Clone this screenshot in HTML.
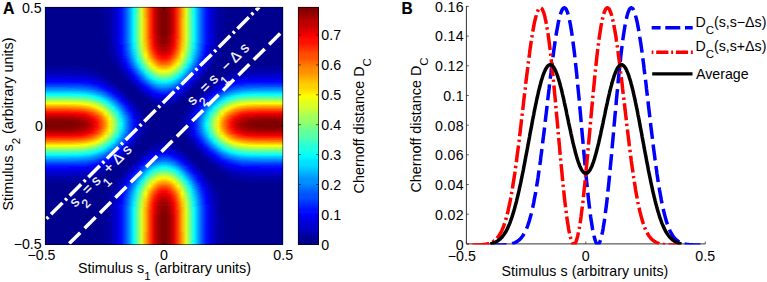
<!DOCTYPE html>
<html><head><meta charset="utf-8"><title>Chernoff distance</title>
<style>
html,body{margin:0;padding:0;background:#fff}
body{width:767px;height:282px;position:relative;overflow:hidden;font-family:"Liberation Sans",sans-serif}
#hm{position:absolute;left:45px;top:7px;width:238px;height:238px}
#hm i{display:block;height:1px;width:100%}
#cb{position:absolute;left:298px;top:7px;width:21px;height:238px;background:linear-gradient(180deg,#800000,#800000,#8f0000,#9f0000,#af0000,#bf0000,#bf0000,#cf0000,#df0000,#ef0000,#ff0000,#ff1000,#ff1000,#ff2000,#ff3000,#ff4000,#ff5000,#ff5000,#ff6000,#ff7000,#ff8000,#ff8f00,#ff8f00,#ff9f00,#ffaf00,#ffbf00,#ffcf00,#ffcf00,#ffdf00,#ffef00,#ffff00,#efff10,#dfff20,#dfff20,#cfff30,#bfff40,#afff50,#9fff60,#9fff60,#8fff70,#80ff80,#70ff8f,#60ff9f,#60ff9f,#50ffaf,#40ffbf,#30ffcf,#20ffdf,#20ffdf,#10ffef,#00ffff,#00efff,#00dfff,#00dfff,#00cfff,#00bfff,#00afff,#009fff,#008fff,#008fff,#0080ff,#0070ff,#0060ff,#0050ff,#0050ff,#0040ff,#0030ff,#0020ff,#0010ff,#0010ff,#0000ff,#0000ef,#0000df,#0000cf,#0000cf,#0000bf,#0000af,#00009f,#00008f,#00008f,#00008f)}
svg{position:absolute;left:0;top:0;font-family:"Liberation Sans",sans-serif}
</style></head><body>
<div id="hm">
<i style="background:linear-gradient(90deg,#00008f,#00008f,#00008f,#00008f,#00008f,#00008f,#00008f,#00008f,#00008f,#00008f,#00008f,#00008f,#00008f,#00008f,#00008f,#00009f,#00009f,#0000bf,#0000df,#0010ff,#0050ff,#009fff,#00ffff,#70ff8f,#dfff20,#ff9f00,#ff4000,#df0000,#9f0000,#800000,#800000,#9f0000,#df0000,#ff4000,#ff9f00,#dfff20,#70ff8f,#00ffff,#009fff,#0050ff,#0010ff,#0000df,#0000bf,#00009f,#00009f,#00008f,#00008f,#00008f,#00008f,#00008f,#00008f,#00008f,#00008f,#00008f,#00008f,#00008f,#00008f,#00008f,#00008f,#00008f)"></i>
<i style="background:linear-gradient(90deg,#00008f,#00008f,#00008f,#00008f,#00008f,#00008f,#00008f,#00008f,#00008f,#00008f,#00008f,#00008f,#00008f,#00008f,#00008f,#00009f,#00009f,#0000bf,#0000df,#0010ff,#0050ff,#009fff,#00ffff,#70ff8f,#dfff20,#ff9f00,#ff4000,#df0000,#9f0000,#800000,#800000,#9f0000,#df0000,#ff4000,#ff9f00,#dfff20,#70ff8f,#00ffff,#009fff,#0050ff,#0010ff,#0000df,#0000bf,#00009f,#00009f,#00008f,#00008f,#00008f,#00008f,#00008f,#00008f,#00008f,#00008f,#00008f,#00008f,#00008f,#00008f,#00008f,#00008f,#00008f)"></i>
<i style="background:linear-gradient(90deg,#00008f,#00008f,#00008f,#00008f,#00008f,#00008f,#00008f,#00008f,#00008f,#00008f,#00008f,#00008f,#00008f,#00008f,#00008f,#00009f,#00009f,#0000bf,#0000df,#0010ff,#0050ff,#009fff,#00ffff,#70ff8f,#dfff20,#ff9f00,#ff4000,#df0000,#9f0000,#800000,#800000,#9f0000,#df0000,#ff4000,#ff9f00,#dfff20,#70ff8f,#00ffff,#009fff,#0050ff,#0010ff,#0000df,#0000bf,#00009f,#00009f,#00008f,#00008f,#00008f,#00008f,#00008f,#00008f,#00008f,#00008f,#00008f,#00008f,#00008f,#00008f,#00008f,#00008f,#00008f)"></i>
<i style="background:linear-gradient(90deg,#00008f,#00008f,#00008f,#00008f,#00008f,#00008f,#00008f,#00008f,#00008f,#00008f,#00008f,#00008f,#00008f,#00008f,#00008f,#00009f,#00009f,#0000bf,#0000df,#0010ff,#0050ff,#009fff,#00ffff,#70ff8f,#dfff20,#ff9f00,#ff4000,#df0000,#9f0000,#800000,#800000,#9f0000,#df0000,#ff4000,#ff9f00,#dfff20,#70ff8f,#00ffff,#009fff,#0050ff,#0010ff,#0000df,#0000bf,#00009f,#00009f,#00008f,#00008f,#00008f,#00008f,#00008f,#00008f,#00008f,#00008f,#00008f,#00008f,#00008f,#00008f,#00008f,#00008f,#00008f)"></i>
<i style="background:linear-gradient(90deg,#00008f,#00008f,#00008f,#00008f,#00008f,#00008f,#00008f,#00008f,#00008f,#00008f,#00008f,#00008f,#00008f,#00008f,#00008f,#00009f,#00009f,#0000bf,#0000df,#0010ff,#0050ff,#009fff,#00ffff,#70ff8f,#dfff20,#ff9f00,#ff4000,#df0000,#9f0000,#800000,#800000,#9f0000,#df0000,#ff4000,#ff9f00,#dfff20,#70ff8f,#00ffff,#009fff,#0050ff,#0010ff,#0000df,#0000bf,#00009f,#00009f,#00008f,#00008f,#00008f,#00008f,#00008f,#00008f,#00008f,#00008f,#00008f,#00008f,#00008f,#00008f,#00008f,#00008f,#00008f)"></i>
<i style="background:linear-gradient(90deg,#00008f,#00008f,#00008f,#00008f,#00008f,#00008f,#00008f,#00008f,#00008f,#00008f,#00008f,#00008f,#00008f,#00008f,#00008f,#00009f,#00009f,#0000bf,#0000df,#0010ff,#0050ff,#009fff,#00ffff,#70ff8f,#dfff20,#ff9f00,#ff4000,#df0000,#9f0000,#800000,#800000,#9f0000,#df0000,#ff4000,#ff9f00,#dfff20,#70ff8f,#00ffff,#009fff,#0050ff,#0010ff,#0000df,#0000bf,#00009f,#00009f,#00008f,#00008f,#00008f,#00008f,#00008f,#00008f,#00008f,#00008f,#00008f,#00008f,#00008f,#00008f,#00008f,#00008f,#00008f)"></i>
<i style="background:linear-gradient(90deg,#00008f,#00008f,#00008f,#00008f,#00008f,#00008f,#00008f,#00008f,#00008f,#00008f,#00008f,#00008f,#00008f,#00008f,#00008f,#00009f,#00009f,#0000bf,#0000df,#0010ff,#0050ff,#009fff,#00ffff,#70ff8f,#dfff20,#ff9f00,#ff4000,#df0000,#9f0000,#800000,#800000,#9f0000,#df0000,#ff4000,#ff9f00,#dfff20,#70ff8f,#00ffff,#009fff,#0050ff,#0010ff,#0000df,#0000bf,#00009f,#00009f,#00008f,#00008f,#00008f,#00008f,#00008f,#00008f,#00008f,#00008f,#00008f,#00008f,#00008f,#00008f,#00008f,#00008f,#00008f)"></i>
<i style="background:linear-gradient(90deg,#00008f,#00008f,#00008f,#00008f,#00008f,#00008f,#00008f,#00008f,#00008f,#00008f,#00008f,#00008f,#00008f,#00008f,#00008f,#00009f,#00009f,#0000bf,#0000df,#0010ff,#0050ff,#009fff,#00ffff,#70ff8f,#dfff20,#ff9f00,#ff4000,#df0000,#9f0000,#800000,#800000,#9f0000,#df0000,#ff4000,#ff9f00,#dfff20,#70ff8f,#00ffff,#009fff,#0050ff,#0010ff,#0000df,#0000bf,#00009f,#00009f,#00008f,#00008f,#00008f,#00008f,#00008f,#00008f,#00008f,#00008f,#00008f,#00008f,#00008f,#00008f,#00008f,#00008f,#00008f)"></i>
<i style="background:linear-gradient(90deg,#00008f,#00008f,#00008f,#00008f,#00008f,#00008f,#00008f,#00008f,#00008f,#00008f,#00008f,#00008f,#00008f,#00008f,#00008f,#00009f,#00009f,#0000bf,#0000df,#0010ff,#0050ff,#009fff,#00ffff,#70ff8f,#dfff20,#ff9f00,#ff4000,#df0000,#9f0000,#800000,#800000,#9f0000,#df0000,#ff4000,#ff9f00,#dfff20,#70ff8f,#00ffff,#009fff,#0050ff,#0010ff,#0000df,#0000bf,#00009f,#00009f,#00008f,#00008f,#00008f,#00008f,#00008f,#00008f,#00008f,#00008f,#00008f,#00008f,#00008f,#00008f,#00008f,#00008f,#00008f)"></i>
<i style="background:linear-gradient(90deg,#00008f,#00008f,#00008f,#00008f,#00008f,#00008f,#00008f,#00008f,#00008f,#00008f,#00008f,#00008f,#00008f,#00008f,#00008f,#00009f,#00009f,#0000bf,#0000df,#0010ff,#0050ff,#009fff,#00ffff,#70ff8f,#dfff20,#ff9f00,#ff4000,#df0000,#9f0000,#800000,#800000,#9f0000,#df0000,#ff4000,#ff9f00,#dfff20,#70ff8f,#00ffff,#009fff,#0050ff,#0010ff,#0000df,#0000bf,#00009f,#00009f,#00008f,#00008f,#00008f,#00008f,#00008f,#00008f,#00008f,#00008f,#00008f,#00008f,#00008f,#00008f,#00008f,#00008f,#00008f)"></i>
<i style="background:linear-gradient(90deg,#00008f,#00008f,#00008f,#00008f,#00008f,#00008f,#00008f,#00008f,#00008f,#00008f,#00008f,#00008f,#00008f,#00008f,#00008f,#00009f,#00009f,#0000bf,#0000df,#0010ff,#0050ff,#009fff,#00ffff,#70ff8f,#dfff20,#ff9f00,#ff4000,#df0000,#9f0000,#800000,#800000,#9f0000,#df0000,#ff4000,#ff9f00,#dfff20,#70ff8f,#00ffff,#009fff,#0050ff,#0010ff,#0000df,#0000bf,#00009f,#00009f,#00008f,#00008f,#00008f,#00008f,#00008f,#00008f,#00008f,#00008f,#00008f,#00008f,#00008f,#00008f,#00008f,#00008f,#00008f)"></i>
<i style="background:linear-gradient(90deg,#00008f,#00008f,#00008f,#00008f,#00008f,#00008f,#00008f,#00008f,#00008f,#00008f,#00008f,#00008f,#00008f,#00008f,#00008f,#00009f,#00009f,#0000bf,#0000df,#0010ff,#0050ff,#009fff,#00ffff,#70ff8f,#dfff20,#ffaf00,#ff4000,#df0000,#9f0000,#800000,#800000,#9f0000,#df0000,#ff4000,#ffaf00,#dfff20,#70ff8f,#00ffff,#009fff,#0050ff,#0010ff,#0000df,#0000bf,#00009f,#00009f,#00008f,#00008f,#00008f,#00008f,#00008f,#00008f,#00008f,#00008f,#00008f,#00008f,#00008f,#00008f,#00008f,#00008f,#00008f)"></i>
<i style="background:linear-gradient(90deg,#00008f,#00008f,#00008f,#00008f,#00008f,#00008f,#00008f,#00008f,#00008f,#00008f,#00008f,#00008f,#00008f,#00008f,#00008f,#00009f,#00009f,#0000bf,#0000df,#0010ff,#0050ff,#009fff,#00ffff,#70ff8f,#dfff20,#ffaf00,#ff4000,#df0000,#9f0000,#800000,#800000,#9f0000,#df0000,#ff4000,#ffaf00,#dfff20,#70ff8f,#00ffff,#009fff,#0050ff,#0010ff,#0000df,#0000bf,#00009f,#00009f,#00008f,#00008f,#00008f,#00008f,#00008f,#00008f,#00008f,#00008f,#00008f,#00008f,#00008f,#00008f,#00008f,#00008f,#00008f)"></i>
<i style="background:linear-gradient(90deg,#00008f,#00008f,#00008f,#00008f,#00008f,#00008f,#00008f,#00008f,#00008f,#00008f,#00008f,#00008f,#00008f,#00008f,#00008f,#00009f,#00009f,#0000bf,#0000df,#0010ff,#0050ff,#009fff,#00ffff,#70ff8f,#dfff20,#ffaf00,#ff4000,#df0000,#9f0000,#800000,#800000,#9f0000,#df0000,#ff4000,#ffaf00,#dfff20,#70ff8f,#00ffff,#009fff,#0050ff,#0010ff,#0000df,#0000bf,#00009f,#00009f,#00008f,#00008f,#00008f,#00008f,#00008f,#00008f,#00008f,#00008f,#00008f,#00008f,#00008f,#00008f,#00008f,#00008f,#00008f)"></i>
<i style="background:linear-gradient(90deg,#00008f,#00008f,#00008f,#00008f,#00008f,#00008f,#00008f,#00008f,#00008f,#00008f,#00008f,#00008f,#00008f,#00008f,#00008f,#00009f,#00009f,#0000bf,#0000df,#0010ff,#0050ff,#009fff,#00ffff,#70ff8f,#dfff20,#ffaf00,#ff4000,#df0000,#9f0000,#800000,#800000,#9f0000,#df0000,#ff4000,#ffaf00,#dfff20,#70ff8f,#00ffff,#009fff,#0050ff,#0010ff,#0000df,#0000bf,#00009f,#00009f,#00008f,#00008f,#00008f,#00008f,#00008f,#00008f,#00008f,#00008f,#00008f,#00008f,#00008f,#00008f,#00008f,#00008f,#00008f)"></i>
<i style="background:linear-gradient(90deg,#00008f,#00008f,#00008f,#00008f,#00008f,#00008f,#00008f,#00008f,#00008f,#00008f,#00008f,#00008f,#00008f,#00008f,#00008f,#00009f,#00009f,#0000bf,#0000df,#0010ff,#0050ff,#009fff,#00ffff,#70ff8f,#dfff20,#ffaf00,#ff4000,#df0000,#9f0000,#800000,#800000,#9f0000,#df0000,#ff4000,#ffaf00,#dfff20,#70ff8f,#00ffff,#009fff,#0050ff,#0010ff,#0000df,#0000bf,#00009f,#00009f,#00008f,#00008f,#00008f,#00008f,#00008f,#00008f,#00008f,#00008f,#00008f,#00008f,#00008f,#00008f,#00008f,#00008f,#00008f)"></i>
<i style="background:linear-gradient(90deg,#00008f,#00008f,#00008f,#00008f,#00008f,#00008f,#00008f,#00008f,#00008f,#00008f,#00008f,#00008f,#00008f,#00008f,#00008f,#00009f,#00009f,#0000bf,#0000df,#0010ff,#0050ff,#009fff,#00ffff,#70ff8f,#dfff20,#ffaf00,#ff4000,#df0000,#9f0000,#800000,#800000,#9f0000,#df0000,#ff4000,#ffaf00,#dfff20,#70ff8f,#00ffff,#009fff,#0050ff,#0010ff,#0000df,#0000bf,#00009f,#00009f,#00008f,#00008f,#00008f,#00008f,#00008f,#00008f,#00008f,#00008f,#00008f,#00008f,#00008f,#00008f,#00008f,#00008f,#00008f)"></i>
<i style="background:linear-gradient(90deg,#00008f,#00008f,#00008f,#00008f,#00008f,#00008f,#00008f,#00008f,#00008f,#00008f,#00008f,#00008f,#00008f,#00008f,#00008f,#00009f,#00009f,#0000bf,#0000df,#0010ff,#0050ff,#009fff,#00ffff,#70ff8f,#dfff20,#ffaf00,#ff4000,#df0000,#9f0000,#800000,#800000,#9f0000,#df0000,#ff4000,#ffaf00,#dfff20,#70ff8f,#00ffff,#009fff,#0050ff,#0010ff,#0000df,#0000bf,#00009f,#00009f,#00008f,#00008f,#00008f,#00008f,#00008f,#00008f,#00008f,#00008f,#00008f,#00008f,#00008f,#00008f,#00008f,#00008f,#00008f)"></i>
<i style="background:linear-gradient(90deg,#00008f,#00008f,#00008f,#00008f,#00008f,#00008f,#00008f,#00008f,#00008f,#00008f,#00008f,#00008f,#00008f,#00008f,#00008f,#00009f,#00009f,#0000bf,#0000df,#0010ff,#0050ff,#009fff,#00ffff,#70ff8f,#dfff20,#ffaf00,#ff4000,#df0000,#9f0000,#800000,#800000,#9f0000,#df0000,#ff4000,#ffaf00,#dfff20,#70ff8f,#00ffff,#009fff,#0050ff,#0010ff,#0000df,#0000bf,#00009f,#00009f,#00008f,#00008f,#00008f,#00008f,#00008f,#00008f,#00008f,#00008f,#00008f,#00008f,#00008f,#00008f,#00008f,#00008f,#00008f)"></i>
<i style="background:linear-gradient(90deg,#00008f,#00008f,#00008f,#00008f,#00008f,#00008f,#00008f,#00008f,#00008f,#00008f,#00008f,#00008f,#00008f,#00008f,#00008f,#00009f,#00009f,#0000bf,#0000df,#0010ff,#0050ff,#009fff,#00ffff,#70ff8f,#dfff20,#ffaf00,#ff4000,#df0000,#9f0000,#800000,#800000,#9f0000,#df0000,#ff4000,#ffaf00,#dfff20,#70ff8f,#00ffff,#009fff,#0050ff,#0010ff,#0000df,#0000bf,#00009f,#00009f,#00008f,#00008f,#00008f,#00008f,#00008f,#00008f,#00008f,#00008f,#00008f,#00008f,#00008f,#00008f,#00008f,#00008f,#00008f)"></i>
<i style="background:linear-gradient(90deg,#00008f,#00008f,#00008f,#00008f,#00008f,#00008f,#00008f,#00008f,#00008f,#00008f,#00008f,#00008f,#00008f,#00008f,#00008f,#00009f,#00009f,#0000bf,#0000df,#0010ff,#0050ff,#009fff,#00ffff,#70ff8f,#dfff20,#ffaf00,#ff4000,#df0000,#9f0000,#800000,#800000,#9f0000,#df0000,#ff4000,#ffaf00,#dfff20,#70ff8f,#00ffff,#009fff,#0050ff,#0010ff,#0000df,#0000bf,#00009f,#00009f,#00008f,#00008f,#00008f,#00008f,#00008f,#00008f,#00008f,#00008f,#00008f,#00008f,#00008f,#00008f,#00008f,#00008f,#00008f)"></i>
<i style="background:linear-gradient(90deg,#00008f,#00008f,#00008f,#00008f,#00008f,#00008f,#00008f,#00008f,#00008f,#00008f,#00008f,#00008f,#00008f,#00008f,#00008f,#00009f,#00009f,#0000bf,#0000df,#0010ff,#0050ff,#009fff,#00ffff,#70ff8f,#dfff20,#ffaf00,#ff4000,#df0000,#9f0000,#800000,#800000,#9f0000,#df0000,#ff4000,#ffaf00,#dfff20,#70ff8f,#00ffff,#009fff,#0050ff,#0010ff,#0000df,#0000bf,#00009f,#00009f,#00008f,#00008f,#00008f,#00008f,#00008f,#00008f,#00008f,#00008f,#00008f,#00008f,#00008f,#00008f,#00008f,#00008f,#00008f)"></i>
<i style="background:linear-gradient(90deg,#00008f,#00008f,#00008f,#00008f,#00008f,#00008f,#00008f,#00008f,#00008f,#00008f,#00008f,#00008f,#00008f,#00008f,#00008f,#00009f,#00009f,#0000bf,#0000df,#0010ff,#0050ff,#009fff,#00ffff,#70ff8f,#dfff20,#ffaf00,#ff4000,#df0000,#9f0000,#800000,#800000,#9f0000,#df0000,#ff4000,#ffaf00,#dfff20,#70ff8f,#00ffff,#009fff,#0050ff,#0010ff,#0000df,#0000bf,#00009f,#00009f,#00008f,#00008f,#00008f,#00008f,#00008f,#00008f,#00008f,#00008f,#00008f,#00008f,#00008f,#00008f,#00008f,#00008f,#00008f)"></i>
<i style="background:linear-gradient(90deg,#00008f,#00008f,#00008f,#00008f,#00008f,#00008f,#00008f,#00008f,#00008f,#00008f,#00008f,#00008f,#00008f,#00008f,#00008f,#00009f,#00009f,#0000bf,#0000df,#0010ff,#0050ff,#009fff,#00ffff,#70ff8f,#dfff20,#ffaf00,#ff4000,#df0000,#9f0000,#800000,#800000,#9f0000,#df0000,#ff4000,#ffaf00,#dfff20,#70ff8f,#00ffff,#009fff,#0050ff,#0010ff,#0000df,#0000bf,#00009f,#00009f,#00008f,#00008f,#00008f,#00008f,#00008f,#00008f,#00008f,#00008f,#00008f,#00008f,#00008f,#00008f,#00008f,#00008f,#00008f)"></i>
<i style="background:linear-gradient(90deg,#00008f,#00008f,#00008f,#00008f,#00008f,#00008f,#00008f,#00008f,#00008f,#00008f,#00008f,#00008f,#00008f,#00008f,#00008f,#00009f,#00009f,#0000bf,#0000df,#0010ff,#0050ff,#009fff,#00ffff,#70ff8f,#dfff20,#ffaf00,#ff4000,#df0000,#9f0000,#800000,#800000,#9f0000,#df0000,#ff4000,#ffaf00,#dfff20,#70ff8f,#00ffff,#009fff,#0050ff,#0010ff,#0000df,#0000bf,#00009f,#00009f,#00008f,#00008f,#00008f,#00008f,#00008f,#00008f,#00008f,#00008f,#00008f,#00008f,#00008f,#00008f,#00008f,#00008f,#00008f)"></i>
<i style="background:linear-gradient(90deg,#00008f,#00008f,#00008f,#00008f,#00008f,#00008f,#00008f,#00008f,#00008f,#00008f,#00008f,#00008f,#00008f,#00008f,#00008f,#00009f,#00009f,#0000bf,#0000df,#0010ff,#0050ff,#009fff,#00ffff,#70ff8f,#dfff20,#ffaf00,#ff4000,#df0000,#9f0000,#800000,#800000,#9f0000,#df0000,#ff4000,#ffaf00,#dfff20,#70ff8f,#00ffff,#009fff,#0050ff,#0010ff,#0000df,#0000bf,#00009f,#00009f,#00008f,#00008f,#00008f,#00008f,#00008f,#00008f,#00008f,#00008f,#00008f,#00008f,#00008f,#00008f,#00008f,#00008f,#00008f)"></i>
<i style="background:linear-gradient(90deg,#00008f,#00008f,#00008f,#00008f,#00008f,#00008f,#00008f,#00008f,#00008f,#00008f,#00008f,#00008f,#00008f,#00008f,#00008f,#00009f,#00009f,#0000bf,#0000df,#0010ff,#0050ff,#009fff,#00ffff,#70ff8f,#dfff20,#ffaf00,#ff4000,#df0000,#9f0000,#800000,#800000,#9f0000,#df0000,#ff4000,#ffaf00,#dfff20,#70ff8f,#00ffff,#009fff,#0050ff,#0010ff,#0000df,#0000bf,#00009f,#00009f,#00008f,#00008f,#00008f,#00008f,#00008f,#00008f,#00008f,#00008f,#00008f,#00008f,#00008f,#00008f,#00008f,#00008f,#00008f)"></i>
<i style="background:linear-gradient(90deg,#00008f,#00008f,#00008f,#00008f,#00008f,#00008f,#00008f,#00008f,#00008f,#00008f,#00008f,#00008f,#00008f,#00008f,#00008f,#00009f,#00009f,#0000bf,#0000df,#0010ff,#0050ff,#009fff,#00ffff,#70ff8f,#dfff20,#ffaf00,#ff4000,#ef0000,#9f0000,#800000,#800000,#9f0000,#ef0000,#ff4000,#ffaf00,#dfff20,#70ff8f,#00ffff,#009fff,#0050ff,#0010ff,#0000df,#0000bf,#00009f,#00009f,#00008f,#00008f,#00008f,#00008f,#00008f,#00008f,#00008f,#00008f,#00008f,#00008f,#00008f,#00008f,#00008f,#00008f,#00008f)"></i>
<i style="background:linear-gradient(90deg,#00008f,#00008f,#00008f,#00008f,#00008f,#00008f,#00008f,#00008f,#00008f,#00008f,#00008f,#00008f,#00008f,#00008f,#00008f,#00008f,#00009f,#0000bf,#0000df,#0010ff,#0050ff,#009fff,#00ffff,#70ff8f,#dfff20,#ffaf00,#ff4000,#ef0000,#af0000,#800000,#800000,#af0000,#ef0000,#ff4000,#ffaf00,#dfff20,#70ff8f,#00ffff,#009fff,#0050ff,#0010ff,#0000df,#0000bf,#00009f,#00008f,#00008f,#00008f,#00008f,#00008f,#00008f,#00008f,#00008f,#00008f,#00008f,#00008f,#00008f,#00008f,#00008f,#00008f,#00008f)"></i>
<i style="background:linear-gradient(90deg,#00008f,#00008f,#00008f,#00008f,#00008f,#00008f,#00008f,#00008f,#00008f,#00008f,#00008f,#00008f,#00008f,#00008f,#00008f,#00008f,#00009f,#0000bf,#0000df,#0010ff,#0050ff,#009fff,#00ffff,#70ff8f,#dfff20,#ffaf00,#ff4000,#ef0000,#af0000,#800000,#800000,#af0000,#ef0000,#ff4000,#ffaf00,#dfff20,#70ff8f,#00ffff,#009fff,#0050ff,#0010ff,#0000df,#0000bf,#00009f,#00008f,#00008f,#00008f,#00008f,#00008f,#00008f,#00008f,#00008f,#00008f,#00008f,#00008f,#00008f,#00008f,#00008f,#00008f,#00008f)"></i>
<i style="background:linear-gradient(90deg,#00008f,#00008f,#00008f,#00008f,#00008f,#00008f,#00008f,#00008f,#00008f,#00008f,#00008f,#00008f,#00008f,#00008f,#00008f,#00008f,#00009f,#0000bf,#0000df,#0010ff,#0050ff,#009fff,#00ffff,#70ff8f,#dfff20,#ffaf00,#ff4000,#ef0000,#af0000,#8f0000,#8f0000,#af0000,#ef0000,#ff4000,#ffaf00,#dfff20,#70ff8f,#00ffff,#009fff,#0050ff,#0010ff,#0000df,#0000bf,#00009f,#00008f,#00008f,#00008f,#00008f,#00008f,#00008f,#00008f,#00008f,#00008f,#00008f,#00008f,#00008f,#00008f,#00008f,#00008f,#00008f)"></i>
<i style="background:linear-gradient(90deg,#00008f,#00008f,#00008f,#00008f,#00008f,#00008f,#00008f,#00008f,#00008f,#00008f,#00008f,#00008f,#00008f,#00008f,#00008f,#00008f,#00009f,#0000bf,#0000df,#0010ff,#0050ff,#009fff,#00ffff,#70ff8f,#dfff20,#ffaf00,#ff4000,#ef0000,#af0000,#8f0000,#8f0000,#af0000,#ef0000,#ff4000,#ffaf00,#dfff20,#70ff8f,#00ffff,#009fff,#0050ff,#0010ff,#0000df,#0000bf,#00009f,#00008f,#00008f,#00008f,#00008f,#00008f,#00008f,#00008f,#00008f,#00008f,#00008f,#00008f,#00008f,#00008f,#00008f,#00008f,#00008f)"></i>
<i style="background:linear-gradient(90deg,#00008f,#00008f,#00008f,#00008f,#00008f,#00008f,#00008f,#00008f,#00008f,#00008f,#00008f,#00008f,#00008f,#00008f,#00008f,#00008f,#00009f,#0000bf,#0000df,#0010ff,#0050ff,#009fff,#00ffff,#60ff9f,#dfff20,#ffaf00,#ff5000,#ef0000,#af0000,#8f0000,#8f0000,#af0000,#ef0000,#ff5000,#ffaf00,#dfff20,#60ff9f,#00ffff,#009fff,#0050ff,#0010ff,#0000df,#0000bf,#00009f,#00008f,#00008f,#00008f,#00008f,#00008f,#00008f,#00008f,#00008f,#00008f,#00008f,#00008f,#00008f,#00008f,#00008f,#00008f,#00008f)"></i>
<i style="background:linear-gradient(90deg,#00008f,#00008f,#00008f,#00008f,#00008f,#00008f,#00008f,#00008f,#00008f,#00008f,#00008f,#00008f,#00008f,#00008f,#00008f,#00008f,#00009f,#0000bf,#0000df,#0010ff,#0050ff,#009fff,#00ffff,#60ff9f,#dfff20,#ffaf00,#ff5000,#ef0000,#af0000,#8f0000,#8f0000,#af0000,#ef0000,#ff5000,#ffaf00,#dfff20,#60ff9f,#00ffff,#009fff,#0050ff,#0010ff,#0000df,#0000bf,#00009f,#00008f,#00008f,#00008f,#00008f,#00008f,#00008f,#00008f,#00008f,#00008f,#00008f,#00008f,#00008f,#00008f,#00008f,#00008f,#00008f)"></i>
<i style="background:linear-gradient(90deg,#00008f,#00008f,#00008f,#00008f,#00008f,#00008f,#00008f,#00008f,#00008f,#00008f,#00008f,#00008f,#00008f,#00008f,#00008f,#00008f,#00009f,#0000bf,#0000df,#0010ff,#0050ff,#009fff,#00ffff,#60ff9f,#cfff30,#ffaf00,#ff5000,#ef0000,#af0000,#8f0000,#8f0000,#af0000,#ef0000,#ff5000,#ffaf00,#cfff30,#60ff9f,#00ffff,#009fff,#0050ff,#0010ff,#0000df,#0000bf,#00009f,#00008f,#00008f,#00008f,#00008f,#00008f,#00008f,#00008f,#00008f,#00008f,#00008f,#00008f,#00008f,#00008f,#00008f,#00008f,#00008f)"></i>
<i style="background:linear-gradient(90deg,#00008f,#00008f,#00008f,#00008f,#00008f,#00008f,#00008f,#00008f,#00008f,#00008f,#00008f,#00008f,#00008f,#00008f,#00008f,#00008f,#00009f,#0000bf,#0000df,#0010ff,#0050ff,#009fff,#00efff,#60ff9f,#cfff30,#ffbf00,#ff5000,#ef0000,#af0000,#8f0000,#8f0000,#af0000,#ef0000,#ff5000,#ffbf00,#cfff30,#60ff9f,#00efff,#009fff,#0050ff,#0010ff,#0000df,#0000bf,#00009f,#00008f,#00008f,#00008f,#00008f,#00008f,#00008f,#00008f,#00008f,#00008f,#00008f,#00008f,#00008f,#00008f,#00008f,#00008f,#00008f)"></i>
<i style="background:linear-gradient(90deg,#00008f,#00008f,#00008f,#00008f,#00008f,#00008f,#00008f,#00008f,#00008f,#00008f,#00008f,#00008f,#00008f,#00008f,#00008f,#00008f,#00009f,#0000bf,#0000df,#0010ff,#0050ff,#008fff,#00efff,#60ff9f,#cfff30,#ffbf00,#ff5000,#ff0000,#bf0000,#8f0000,#8f0000,#bf0000,#ff0000,#ff5000,#ffbf00,#cfff30,#60ff9f,#00efff,#008fff,#0050ff,#0010ff,#0000df,#0000bf,#00009f,#00008f,#00008f,#00008f,#00008f,#00008f,#00008f,#00008f,#00008f,#00008f,#00008f,#00008f,#00008f,#00008f,#00008f,#00008f,#00008f)"></i>
<i style="background:linear-gradient(90deg,#00008f,#00008f,#00008f,#00008f,#00008f,#00008f,#00008f,#00008f,#00008f,#00008f,#00008f,#00008f,#00008f,#00008f,#00008f,#00008f,#00009f,#0000bf,#0000df,#0010ff,#0040ff,#008fff,#00efff,#60ff9f,#cfff30,#ffbf00,#ff5000,#ff0000,#bf0000,#9f0000,#9f0000,#bf0000,#ff0000,#ff5000,#ffbf00,#cfff30,#60ff9f,#00efff,#008fff,#0040ff,#0010ff,#0000df,#0000bf,#00009f,#00008f,#00008f,#00008f,#00008f,#00008f,#00008f,#00008f,#00008f,#00008f,#00008f,#00008f,#00008f,#00008f,#00008f,#00008f,#00008f)"></i>
<i style="background:linear-gradient(90deg,#00008f,#00008f,#00008f,#00008f,#00008f,#00008f,#00008f,#00008f,#00008f,#00008f,#00008f,#00008f,#00008f,#00008f,#00008f,#00008f,#00009f,#0000bf,#0000df,#0000ff,#0040ff,#008fff,#00efff,#60ff9f,#cfff30,#ffbf00,#ff6000,#ff0000,#bf0000,#9f0000,#9f0000,#bf0000,#ff0000,#ff6000,#ffbf00,#cfff30,#60ff9f,#00efff,#008fff,#0040ff,#0000ff,#0000df,#0000bf,#00009f,#00008f,#00008f,#00008f,#00008f,#00008f,#00008f,#00008f,#00008f,#00008f,#00008f,#00008f,#00008f,#00008f,#00008f,#00008f,#00008f)"></i>
<i style="background:linear-gradient(90deg,#00008f,#00008f,#00008f,#00008f,#00008f,#00008f,#00008f,#00008f,#00008f,#00008f,#00008f,#00008f,#00008f,#00008f,#00008f,#00008f,#00009f,#0000af,#0000cf,#0000ff,#0040ff,#008fff,#00efff,#50ffaf,#cfff30,#ffbf00,#ff6000,#ff0000,#bf0000,#9f0000,#9f0000,#bf0000,#ff0000,#ff6000,#ffbf00,#cfff30,#50ffaf,#00efff,#008fff,#0040ff,#0000ff,#0000cf,#0000af,#00009f,#00008f,#00008f,#00008f,#00008f,#00008f,#00008f,#00008f,#00008f,#00008f,#00008f,#00008f,#00008f,#00008f,#00008f,#00008f,#00008f)"></i>
<i style="background:linear-gradient(90deg,#00008f,#00008f,#00008f,#00008f,#00008f,#00008f,#00008f,#00008f,#00008f,#00008f,#00008f,#00008f,#00008f,#00008f,#00008f,#00008f,#00009f,#0000af,#0000cf,#0000ff,#0040ff,#008fff,#00efff,#50ffaf,#bfff40,#ffcf00,#ff6000,#ff1000,#cf0000,#af0000,#af0000,#cf0000,#ff1000,#ff6000,#ffcf00,#bfff40,#50ffaf,#00efff,#008fff,#0040ff,#0000ff,#0000cf,#0000af,#00009f,#00008f,#00008f,#00008f,#00008f,#00008f,#00008f,#00008f,#00008f,#00008f,#00008f,#00008f,#00008f,#00008f,#00008f,#00008f,#00008f)"></i>
<i style="background:linear-gradient(90deg,#00008f,#00008f,#00008f,#00008f,#00008f,#00008f,#00008f,#00008f,#00008f,#00008f,#00008f,#00008f,#00008f,#00008f,#00008f,#00008f,#00009f,#0000af,#0000cf,#0000ff,#0040ff,#008fff,#00efff,#50ffaf,#bfff40,#ffcf00,#ff6000,#ff1000,#cf0000,#af0000,#af0000,#cf0000,#ff1000,#ff6000,#ffcf00,#bfff40,#50ffaf,#00efff,#008fff,#0040ff,#0000ff,#0000cf,#0000af,#00009f,#00008f,#00008f,#00008f,#00008f,#00008f,#00008f,#00008f,#00008f,#00008f,#00008f,#00008f,#00008f,#00008f,#00008f,#00008f,#00008f)"></i>
<i style="background:linear-gradient(90deg,#00008f,#00008f,#00008f,#00008f,#00008f,#00008f,#00008f,#00008f,#00008f,#00008f,#00008f,#00008f,#00008f,#00008f,#00008f,#00008f,#00009f,#0000af,#0000cf,#0000ff,#0040ff,#008fff,#00dfff,#50ffaf,#bfff40,#ffcf00,#ff7000,#ff1000,#cf0000,#af0000,#af0000,#cf0000,#ff1000,#ff7000,#ffcf00,#bfff40,#50ffaf,#00dfff,#008fff,#0040ff,#0000ff,#0000cf,#0000af,#00009f,#00008f,#00008f,#00008f,#00008f,#00008f,#00008f,#00008f,#00008f,#00008f,#00008f,#00008f,#00008f,#00008f,#00008f,#00008f,#00008f)"></i>
<i style="background:linear-gradient(90deg,#00008f,#00008f,#00008f,#00008f,#00008f,#00008f,#00008f,#00008f,#00008f,#00008f,#00008f,#00008f,#00008f,#00008f,#00008f,#00008f,#00009f,#0000af,#0000cf,#0000ff,#0040ff,#0080ff,#00dfff,#40ffbf,#afff50,#ffdf00,#ff7000,#ff2000,#df0000,#bf0000,#bf0000,#df0000,#ff2000,#ff7000,#ffdf00,#afff50,#40ffbf,#00dfff,#0080ff,#0040ff,#0000ff,#0000cf,#0000af,#00009f,#00008f,#00008f,#00008f,#00008f,#00008f,#00008f,#00008f,#00008f,#00008f,#00008f,#00008f,#00008f,#00008f,#00008f,#00008f,#00008f)"></i>
<i style="background:linear-gradient(90deg,#00008f,#00008f,#00008f,#00008f,#00008f,#00008f,#00008f,#00008f,#00008f,#00008f,#00008f,#00008f,#00008f,#00008f,#00008f,#00008f,#00009f,#0000af,#0000cf,#0000ff,#0030ff,#0080ff,#00dfff,#40ffbf,#afff50,#ffdf00,#ff8000,#ff2000,#df0000,#bf0000,#bf0000,#df0000,#ff2000,#ff8000,#ffdf00,#afff50,#40ffbf,#00dfff,#0080ff,#0030ff,#0000ff,#0000cf,#0000af,#00009f,#00008f,#00008f,#00008f,#00008f,#00008f,#00008f,#00008f,#00008f,#00008f,#00008f,#00008f,#00008f,#00008f,#00008f,#00008f,#00008f)"></i>
<i style="background:linear-gradient(90deg,#00008f,#00008f,#00008f,#00008f,#00008f,#00008f,#00008f,#00008f,#00008f,#00008f,#00008f,#00008f,#00008f,#00008f,#00008f,#00008f,#00009f,#0000af,#0000cf,#0000ff,#0030ff,#0080ff,#00cfff,#40ffbf,#afff50,#ffef00,#ff8000,#ff3000,#ef0000,#cf0000,#cf0000,#ef0000,#ff3000,#ff8000,#ffef00,#afff50,#40ffbf,#00cfff,#0080ff,#0030ff,#0000ff,#0000cf,#0000af,#00009f,#00008f,#00008f,#00008f,#00008f,#00008f,#00008f,#00008f,#00008f,#00008f,#00008f,#00008f,#00008f,#00008f,#00008f,#00008f,#00008f)"></i>
<i style="background:linear-gradient(90deg,#00008f,#00008f,#00008f,#00008f,#00008f,#00008f,#00008f,#00008f,#00008f,#00008f,#00008f,#00008f,#00008f,#00008f,#00008f,#00008f,#00009f,#0000af,#0000cf,#0000ef,#0030ff,#0080ff,#00cfff,#30ffcf,#9fff60,#ffef00,#ff8f00,#ff3000,#ef0000,#cf0000,#cf0000,#ef0000,#ff3000,#ff8f00,#ffef00,#9fff60,#30ffcf,#00cfff,#0080ff,#0030ff,#0000ef,#0000cf,#0000af,#00009f,#00008f,#00008f,#00008f,#00008f,#00008f,#00008f,#00008f,#00008f,#00008f,#00008f,#00008f,#00008f,#00008f,#00008f,#00008f,#00008f)"></i>
<i style="background:linear-gradient(90deg,#00008f,#00008f,#00008f,#00008f,#00008f,#00008f,#00008f,#00008f,#00008f,#00008f,#00008f,#00008f,#00008f,#00008f,#00008f,#00008f,#00009f,#0000af,#0000cf,#0000ef,#0030ff,#0070ff,#00cfff,#30ffcf,#9fff60,#ffff00,#ff8f00,#ff4000,#ff0000,#df0000,#df0000,#ff0000,#ff4000,#ff8f00,#ffff00,#9fff60,#30ffcf,#00cfff,#0070ff,#0030ff,#0000ef,#0000cf,#0000af,#00009f,#00008f,#00008f,#00008f,#00008f,#00008f,#00008f,#00008f,#00008f,#00008f,#00008f,#00008f,#00008f,#00008f,#00008f,#00008f,#00008f)"></i>
<i style="background:linear-gradient(90deg,#00008f,#00008f,#00008f,#00008f,#00008f,#00008f,#00008f,#00008f,#00008f,#00008f,#00008f,#00008f,#00008f,#00008f,#00008f,#00008f,#00009f,#0000af,#0000bf,#0000ef,#0030ff,#0070ff,#00bfff,#30ffcf,#8fff70,#ffff00,#ff9f00,#ff5000,#ff1000,#ef0000,#ef0000,#ff1000,#ff5000,#ff9f00,#ffff00,#8fff70,#30ffcf,#00bfff,#0070ff,#0030ff,#0000ef,#0000bf,#0000af,#00009f,#00008f,#00008f,#00008f,#00008f,#00008f,#00008f,#00008f,#00008f,#00008f,#00008f,#00008f,#00008f,#00008f,#00008f,#00008f,#00008f)"></i>
<i style="background:linear-gradient(90deg,#00008f,#00008f,#00008f,#00008f,#00008f,#00008f,#00008f,#00008f,#00008f,#00008f,#00008f,#00008f,#00008f,#00008f,#00008f,#00008f,#00008f,#0000af,#0000bf,#0000ef,#0020ff,#0070ff,#00bfff,#20ffdf,#8fff70,#efff10,#ffaf00,#ff5000,#ff2000,#ff0000,#ff0000,#ff2000,#ff5000,#ffaf00,#efff10,#8fff70,#20ffdf,#00bfff,#0070ff,#0020ff,#0000ef,#0000bf,#0000af,#00008f,#00008f,#00008f,#00008f,#00008f,#00008f,#00008f,#00008f,#00008f,#00008f,#00008f,#00008f,#00008f,#00008f,#00008f,#00008f,#00008f)"></i>
<i style="background:linear-gradient(90deg,#00008f,#00008f,#00008f,#00008f,#00008f,#00008f,#00008f,#00008f,#00008f,#00008f,#00008f,#00008f,#00008f,#00008f,#00008f,#00008f,#00008f,#00009f,#0000bf,#0000ef,#0020ff,#0060ff,#00bfff,#20ffdf,#80ff80,#efff10,#ffaf00,#ff6000,#ff2000,#ff0000,#ff0000,#ff2000,#ff6000,#ffaf00,#efff10,#80ff80,#20ffdf,#00bfff,#0060ff,#0020ff,#0000ef,#0000bf,#00009f,#00008f,#00008f,#00008f,#00008f,#00008f,#00008f,#00008f,#00008f,#00008f,#00008f,#00008f,#00008f,#00008f,#00008f,#00008f,#00008f,#00008f)"></i>
<i style="background:linear-gradient(90deg,#00008f,#00008f,#00008f,#00008f,#00008f,#00008f,#00008f,#00008f,#00008f,#00008f,#00008f,#00008f,#00008f,#00008f,#00008f,#00008f,#00008f,#00009f,#0000bf,#0000df,#0020ff,#0060ff,#00afff,#10ffef,#80ff80,#dfff20,#ffbf00,#ff7000,#ff3000,#ff1000,#ff1000,#ff3000,#ff7000,#ffbf00,#dfff20,#80ff80,#10ffef,#00afff,#0060ff,#0020ff,#0000df,#0000bf,#00009f,#00008f,#00008f,#00008f,#00008f,#00008f,#00008f,#00008f,#00008f,#00008f,#00008f,#00008f,#00008f,#00008f,#00008f,#00008f,#00008f,#00008f)"></i>
<i style="background:linear-gradient(90deg,#00008f,#00008f,#00008f,#00008f,#00008f,#00008f,#00008f,#00008f,#00008f,#00008f,#00008f,#00008f,#00008f,#00008f,#00008f,#00008f,#00008f,#00009f,#0000bf,#0000df,#0010ff,#0050ff,#00afff,#10ffef,#70ff8f,#cfff30,#ffcf00,#ff8000,#ff4000,#ff2000,#ff2000,#ff4000,#ff8000,#ffcf00,#cfff30,#70ff8f,#10ffef,#00afff,#0050ff,#0010ff,#0000df,#0000bf,#00009f,#00008f,#00008f,#00008f,#00008f,#00008f,#00008f,#00008f,#00008f,#00008f,#00008f,#00008f,#00008f,#00008f,#00008f,#00008f,#00008f,#00008f)"></i>
<i style="background:linear-gradient(90deg,#00008f,#00008f,#00008f,#00008f,#00008f,#00008f,#00008f,#00008f,#00008f,#00008f,#00008f,#00008f,#00008f,#00008f,#00008f,#00008f,#00008f,#00009f,#0000af,#0000df,#0010ff,#0050ff,#009fff,#00ffff,#60ff9f,#bfff40,#ffdf00,#ff8f00,#ff5000,#ff3000,#ff3000,#ff5000,#ff8f00,#ffdf00,#bfff40,#60ff9f,#00ffff,#009fff,#0050ff,#0010ff,#0000df,#0000af,#00009f,#00008f,#00008f,#00008f,#00008f,#00008f,#00008f,#00008f,#00008f,#00008f,#00008f,#00008f,#00008f,#00008f,#00008f,#00008f,#00008f,#00008f)"></i>
<i style="background:linear-gradient(90deg,#00008f,#00008f,#00008f,#00008f,#00008f,#00008f,#00008f,#00008f,#00008f,#00008f,#00008f,#00008f,#00008f,#00008f,#00008f,#00008f,#00008f,#00009f,#0000af,#0000cf,#0010ff,#0050ff,#009fff,#00efff,#50ffaf,#bfff40,#ffdf00,#ff9f00,#ff6000,#ff4000,#ff4000,#ff6000,#ff9f00,#ffdf00,#bfff40,#50ffaf,#00efff,#009fff,#0050ff,#0010ff,#0000cf,#0000af,#00009f,#00008f,#00008f,#00008f,#00008f,#00008f,#00008f,#00008f,#00008f,#00008f,#00008f,#00008f,#00008f,#00008f,#00008f,#00008f,#00008f,#00008f)"></i>
<i style="background:linear-gradient(90deg,#00008f,#00008f,#00008f,#00008f,#00008f,#00008f,#00008f,#00008f,#00008f,#00008f,#00008f,#00008f,#00008f,#00008f,#00008f,#00008f,#00008f,#00009f,#0000af,#0000cf,#0000ff,#0040ff,#008fff,#00efff,#50ffaf,#afff50,#ffef00,#ffaf00,#ff7000,#ff5000,#ff5000,#ff7000,#ffaf00,#ffef00,#afff50,#50ffaf,#00efff,#008fff,#0040ff,#0000ff,#0000cf,#0000af,#00009f,#00008f,#00008f,#00008f,#00008f,#00008f,#00008f,#00008f,#00008f,#00008f,#00008f,#00008f,#00008f,#00008f,#00008f,#00008f,#00008f,#00008f)"></i>
<i style="background:linear-gradient(90deg,#00008f,#00008f,#00008f,#00008f,#00008f,#00008f,#00008f,#00008f,#00008f,#00008f,#00008f,#00008f,#00008f,#00008f,#00008f,#00008f,#00008f,#00009f,#0000af,#0000cf,#0000ff,#0040ff,#0080ff,#00dfff,#40ffbf,#9fff60,#ffff00,#ffbf00,#ff8000,#ff6000,#ff6000,#ff8000,#ffbf00,#ffff00,#9fff60,#40ffbf,#00dfff,#0080ff,#0040ff,#0000ff,#0000cf,#0000af,#00009f,#00008f,#00008f,#00008f,#00008f,#00008f,#00008f,#00008f,#00008f,#00008f,#00008f,#00008f,#00008f,#00008f,#00008f,#00008f,#00008f,#00008f)"></i>
<i style="background:linear-gradient(90deg,#00008f,#00008f,#00008f,#00008f,#00008f,#00008f,#00008f,#00008f,#00008f,#00008f,#00008f,#00008f,#00008f,#00008f,#00008f,#00008f,#00008f,#00008f,#0000af,#0000cf,#0000ef,#0030ff,#0080ff,#00cfff,#30ffcf,#8fff70,#efff10,#ffcf00,#ff8f00,#ff7000,#ff7000,#ff8f00,#ffcf00,#efff10,#8fff70,#30ffcf,#00cfff,#0080ff,#0030ff,#0000ef,#0000cf,#0000af,#00008f,#00008f,#00008f,#00008f,#00008f,#00008f,#00008f,#00008f,#00008f,#00008f,#00008f,#00008f,#00008f,#00008f,#00008f,#00008f,#00008f,#00008f)"></i>
<i style="background:linear-gradient(90deg,#00008f,#00008f,#00008f,#00008f,#00008f,#00008f,#00008f,#00008f,#00008f,#00008f,#00008f,#00008f,#00008f,#00008f,#00008f,#00008f,#00008f,#00008f,#00009f,#0000bf,#0000ef,#0030ff,#0070ff,#00bfff,#20ffdf,#80ff80,#dfff20,#ffdf00,#ff9f00,#ff8f00,#ff8f00,#ff9f00,#ffdf00,#dfff20,#80ff80,#20ffdf,#00bfff,#0070ff,#0030ff,#0000ef,#0000bf,#00009f,#00008f,#00008f,#00008f,#00008f,#00008f,#00008f,#00008f,#00008f,#00008f,#00008f,#00008f,#00008f,#00008f,#00008f,#00008f,#00008f,#00008f,#00008f)"></i>
<i style="background:linear-gradient(90deg,#00009f,#00009f,#00009f,#00009f,#00009f,#00009f,#00009f,#00009f,#00009f,#00008f,#00008f,#00008f,#00008f,#00008f,#00008f,#00008f,#00008f,#00008f,#00009f,#0000bf,#0000ef,#0020ff,#0060ff,#00bfff,#10ffef,#70ff8f,#bfff40,#ffef00,#ffbf00,#ff9f00,#ff9f00,#ffbf00,#ffef00,#bfff40,#70ff8f,#10ffef,#00bfff,#0060ff,#0020ff,#0000ef,#0000bf,#00009f,#00008f,#00008f,#00008f,#00008f,#00008f,#00008f,#00008f,#00008f,#00008f,#00009f,#00009f,#00009f,#00009f,#00009f,#00009f,#00009f,#00009f,#00009f)"></i>
<i style="background:linear-gradient(90deg,#00009f,#00009f,#00009f,#00009f,#00009f,#00009f,#00009f,#00009f,#00009f,#00009f,#00009f,#00008f,#00008f,#00008f,#00008f,#00008f,#00008f,#00008f,#00009f,#0000bf,#0000df,#0020ff,#0060ff,#00afff,#00ffff,#60ff9f,#afff50,#ffff00,#ffcf00,#ffaf00,#ffaf00,#ffcf00,#ffff00,#afff50,#60ff9f,#00ffff,#00afff,#0060ff,#0020ff,#0000df,#0000bf,#00009f,#00008f,#00008f,#00008f,#00008f,#00008f,#00008f,#00008f,#00009f,#00009f,#00009f,#00009f,#00009f,#00009f,#00009f,#00009f,#00009f,#00009f,#00009f)"></i>
<i style="background:linear-gradient(90deg,#00009f,#00009f,#00009f,#00009f,#00009f,#00009f,#00009f,#00009f,#00009f,#00009f,#00009f,#00009f,#00008f,#00008f,#00008f,#00008f,#00008f,#00008f,#00009f,#0000af,#0000df,#0010ff,#0050ff,#009fff,#00efff,#50ffaf,#9fff60,#efff10,#ffdf00,#ffbf00,#ffbf00,#ffdf00,#efff10,#9fff60,#50ffaf,#00efff,#009fff,#0050ff,#0010ff,#0000df,#0000af,#00009f,#00008f,#00008f,#00008f,#00008f,#00008f,#00008f,#00009f,#00009f,#00009f,#00009f,#00009f,#00009f,#00009f,#00009f,#00009f,#00009f,#00009f,#00009f)"></i>
<i style="background:linear-gradient(90deg,#00009f,#00009f,#00009f,#00009f,#00009f,#00009f,#00009f,#00009f,#00009f,#00009f,#00009f,#00009f,#00009f,#00008f,#00008f,#00008f,#00008f,#00008f,#00009f,#0000af,#0000cf,#0000ff,#0040ff,#008fff,#00dfff,#40ffbf,#8fff70,#cfff30,#ffef00,#ffdf00,#ffdf00,#ffef00,#cfff30,#8fff70,#40ffbf,#00dfff,#008fff,#0040ff,#0000ff,#0000cf,#0000af,#00009f,#00008f,#00008f,#00008f,#00008f,#00008f,#00009f,#00009f,#00009f,#00009f,#00009f,#00009f,#00009f,#00009f,#00009f,#00009f,#00009f,#00009f,#00009f)"></i>
<i style="background:linear-gradient(90deg,#0000af,#0000af,#0000af,#0000af,#0000af,#0000af,#0000af,#00009f,#00009f,#00009f,#00009f,#00009f,#00009f,#00008f,#00008f,#00008f,#00008f,#00008f,#00008f,#0000af,#0000cf,#0000ff,#0040ff,#0080ff,#00cfff,#30ffcf,#80ff80,#bfff40,#efff10,#ffef00,#ffef00,#efff10,#bfff40,#80ff80,#30ffcf,#00cfff,#0080ff,#0040ff,#0000ff,#0000cf,#0000af,#00008f,#00008f,#00008f,#00008f,#00008f,#00008f,#00009f,#00009f,#00009f,#00009f,#00009f,#00009f,#0000af,#0000af,#0000af,#0000af,#0000af,#0000af,#0000af)"></i>
<i style="background:linear-gradient(90deg,#0000af,#0000af,#0000af,#0000af,#0000af,#0000af,#0000af,#0000af,#0000af,#0000af,#0000af,#00009f,#00009f,#00009f,#00008f,#00008f,#00008f,#00008f,#00008f,#00009f,#0000bf,#0000ef,#0030ff,#0070ff,#00bfff,#20ffdf,#70ff8f,#afff50,#dfff20,#efff10,#efff10,#dfff20,#afff50,#70ff8f,#20ffdf,#00bfff,#0070ff,#0030ff,#0000ef,#0000bf,#00009f,#00008f,#00008f,#00008f,#00008f,#00008f,#00009f,#00009f,#00009f,#0000af,#0000af,#0000af,#0000af,#0000af,#0000af,#0000af,#0000af,#0000af,#0000af,#0000af)"></i>
<i style="background:linear-gradient(90deg,#0000af,#0000af,#0000af,#0000af,#0000af,#0000af,#0000af,#0000af,#0000af,#0000af,#0000af,#0000af,#00009f,#00009f,#00008f,#00008f,#00008f,#00008f,#00008f,#00009f,#0000bf,#0000ef,#0020ff,#0070ff,#00afff,#10ffef,#50ffaf,#8fff70,#bfff40,#dfff20,#dfff20,#bfff40,#8fff70,#50ffaf,#10ffef,#00afff,#0070ff,#0020ff,#0000ef,#0000bf,#00009f,#00008f,#00008f,#00008f,#00008f,#00008f,#00009f,#00009f,#0000af,#0000af,#0000af,#0000af,#0000af,#0000af,#0000af,#0000af,#0000af,#0000af,#0000af,#0000af)"></i>
<i style="background:linear-gradient(90deg,#0000bf,#0000bf,#0000bf,#0000bf,#0000bf,#0000bf,#0000bf,#0000bf,#0000af,#0000af,#0000af,#0000af,#0000af,#00009f,#00009f,#00008f,#00008f,#00008f,#00008f,#00009f,#0000bf,#0000df,#0020ff,#0060ff,#009fff,#00efff,#40ffbf,#80ff80,#afff50,#bfff40,#bfff40,#afff50,#80ff80,#40ffbf,#00efff,#009fff,#0060ff,#0020ff,#0000df,#0000bf,#00009f,#00008f,#00008f,#00008f,#00008f,#00009f,#00009f,#0000af,#0000af,#0000af,#0000af,#0000af,#0000bf,#0000bf,#0000bf,#0000bf,#0000bf,#0000bf,#0000bf,#0000bf)"></i>
<i style="background:linear-gradient(90deg,#0000bf,#0000bf,#0000bf,#0000bf,#0000bf,#0000bf,#0000bf,#0000bf,#0000bf,#0000bf,#0000bf,#0000af,#0000af,#00009f,#00009f,#00008f,#00008f,#00008f,#00008f,#00009f,#0000af,#0000df,#0010ff,#0050ff,#008fff,#00dfff,#30ffcf,#70ff8f,#9fff60,#afff50,#afff50,#9fff60,#70ff8f,#30ffcf,#00dfff,#008fff,#0050ff,#0010ff,#0000df,#0000af,#00009f,#00008f,#00008f,#00008f,#00008f,#00009f,#00009f,#0000af,#0000af,#0000bf,#0000bf,#0000bf,#0000bf,#0000bf,#0000bf,#0000bf,#0000bf,#0000bf,#0000bf,#0000bf)"></i>
<i style="background:linear-gradient(90deg,#0000cf,#0000cf,#0000cf,#0000cf,#0000cf,#0000bf,#0000bf,#0000bf,#0000bf,#0000bf,#0000bf,#0000bf,#0000af,#0000af,#00009f,#00008f,#00008f,#00008f,#00008f,#00008f,#0000af,#0000cf,#0000ff,#0040ff,#0080ff,#00cfff,#10ffef,#50ffaf,#80ff80,#9fff60,#9fff60,#80ff80,#50ffaf,#10ffef,#00cfff,#0080ff,#0040ff,#0000ff,#0000cf,#0000af,#00008f,#00008f,#00008f,#00008f,#00008f,#00009f,#0000af,#0000af,#0000bf,#0000bf,#0000bf,#0000bf,#0000bf,#0000bf,#0000bf,#0000cf,#0000cf,#0000cf,#0000cf,#0000cf)"></i>
<i style="background:linear-gradient(90deg,#0000cf,#0000cf,#0000cf,#0000cf,#0000cf,#0000cf,#0000cf,#0000cf,#0000cf,#0000cf,#0000cf,#0000bf,#0000bf,#0000af,#00009f,#00009f,#00008f,#00008f,#00008f,#00008f,#00009f,#0000cf,#0000ff,#0030ff,#0070ff,#00bfff,#00ffff,#40ffbf,#70ff8f,#80ff80,#80ff80,#70ff8f,#40ffbf,#00ffff,#00bfff,#0070ff,#0030ff,#0000ff,#0000cf,#00009f,#00008f,#00008f,#00008f,#00008f,#00009f,#00009f,#0000af,#0000bf,#0000bf,#0000cf,#0000cf,#0000cf,#0000cf,#0000cf,#0000cf,#0000cf,#0000cf,#0000cf,#0000cf,#0000cf)"></i>
<i style="background:linear-gradient(90deg,#0000df,#0000df,#0000df,#0000df,#0000df,#0000df,#0000df,#0000df,#0000cf,#0000cf,#0000cf,#0000cf,#0000bf,#0000bf,#0000af,#00009f,#00008f,#00008f,#00008f,#00008f,#00009f,#0000bf,#0000ef,#0020ff,#0060ff,#00afff,#00efff,#30ffcf,#50ffaf,#70ff8f,#70ff8f,#50ffaf,#30ffcf,#00efff,#00afff,#0060ff,#0020ff,#0000ef,#0000bf,#00009f,#00008f,#00008f,#00008f,#00008f,#00009f,#0000af,#0000bf,#0000bf,#0000cf,#0000cf,#0000cf,#0000cf,#0000df,#0000df,#0000df,#0000df,#0000df,#0000df,#0000df,#0000df)"></i>
<i style="background:linear-gradient(90deg,#0000df,#0000df,#0000df,#0000df,#0000df,#0000df,#0000df,#0000df,#0000df,#0000df,#0000df,#0000cf,#0000cf,#0000bf,#0000af,#00009f,#00008f,#00008f,#00008f,#00008f,#00009f,#0000bf,#0000df,#0020ff,#0050ff,#009fff,#00dfff,#10ffef,#40ffbf,#50ffaf,#50ffaf,#40ffbf,#10ffef,#00dfff,#009fff,#0050ff,#0020ff,#0000df,#0000bf,#00009f,#00008f,#00008f,#00008f,#00008f,#00009f,#0000af,#0000bf,#0000cf,#0000cf,#0000df,#0000df,#0000df,#0000df,#0000df,#0000df,#0000df,#0000df,#0000df,#0000df,#0000df)"></i>
<i style="background:linear-gradient(90deg,#0000ef,#0000ef,#0000ef,#0000ef,#0000ef,#0000ef,#0000ef,#0000ef,#0000ef,#0000ef,#0000df,#0000df,#0000cf,#0000cf,#0000bf,#0000af,#00009f,#00008f,#00008f,#00008f,#00008f,#0000af,#0000df,#0010ff,#0050ff,#008fff,#00bfff,#00ffff,#20ffdf,#40ffbf,#40ffbf,#20ffdf,#00ffff,#00bfff,#008fff,#0050ff,#0010ff,#0000df,#0000af,#00008f,#00008f,#00008f,#00008f,#00009f,#0000af,#0000bf,#0000cf,#0000cf,#0000df,#0000df,#0000ef,#0000ef,#0000ef,#0000ef,#0000ef,#0000ef,#0000ef,#0000ef,#0000ef,#0000ef)"></i>
<i style="background:linear-gradient(90deg,#0000ff,#0000ff,#0000ff,#0000ff,#0000ff,#0000ff,#0000ff,#0000ff,#0000ef,#0000ef,#0000ef,#0000ef,#0000df,#0000cf,#0000bf,#0000af,#00009f,#00008f,#00008f,#00008f,#00008f,#0000af,#0000cf,#0000ff,#0040ff,#0070ff,#00afff,#00dfff,#10ffef,#20ffdf,#20ffdf,#10ffef,#00dfff,#00afff,#0070ff,#0040ff,#0000ff,#0000cf,#0000af,#00008f,#00008f,#00008f,#00008f,#00009f,#0000af,#0000bf,#0000cf,#0000df,#0000ef,#0000ef,#0000ef,#0000ef,#0000ff,#0000ff,#0000ff,#0000ff,#0000ff,#0000ff,#0000ff,#0000ff)"></i>
<i style="background:linear-gradient(90deg,#0000ff,#0000ff,#0000ff,#0000ff,#0000ff,#0000ff,#0000ff,#0000ff,#0000ff,#0000ff,#0000ff,#0000ef,#0000ef,#0000df,#0000cf,#0000bf,#00009f,#00008f,#00008f,#00008f,#00008f,#00009f,#0000bf,#0000ef,#0030ff,#0060ff,#009fff,#00cfff,#00efff,#10ffef,#10ffef,#00efff,#00cfff,#009fff,#0060ff,#0030ff,#0000ef,#0000bf,#00009f,#00008f,#00008f,#00008f,#00008f,#00009f,#0000bf,#0000cf,#0000df,#0000ef,#0000ef,#0000ff,#0000ff,#0000ff,#0000ff,#0000ff,#0000ff,#0000ff,#0000ff,#0000ff,#0000ff,#0000ff)"></i>
<i style="background:linear-gradient(90deg,#0010ff,#0010ff,#0010ff,#0010ff,#0010ff,#0010ff,#0010ff,#0010ff,#0010ff,#0010ff,#0010ff,#0000ff,#0000ef,#0000ef,#0000cf,#0000bf,#0000af,#00009f,#00008f,#00008f,#00008f,#00009f,#0000bf,#0000df,#0020ff,#0050ff,#008fff,#00bfff,#00dfff,#00efff,#00efff,#00dfff,#00bfff,#008fff,#0050ff,#0020ff,#0000df,#0000bf,#00009f,#00008f,#00008f,#00008f,#00009f,#0000af,#0000bf,#0000cf,#0000ef,#0000ef,#0000ff,#0010ff,#0010ff,#0010ff,#0010ff,#0010ff,#0010ff,#0010ff,#0010ff,#0010ff,#0010ff,#0010ff)"></i>
<i style="background:linear-gradient(90deg,#0020ff,#0020ff,#0020ff,#0020ff,#0020ff,#0020ff,#0020ff,#0020ff,#0020ff,#0020ff,#0010ff,#0010ff,#0000ff,#0000ef,#0000df,#0000cf,#0000af,#00009f,#00008f,#00008f,#00008f,#00009f,#0000af,#0000df,#0010ff,#0040ff,#0080ff,#00afff,#00cfff,#00dfff,#00dfff,#00cfff,#00afff,#0080ff,#0040ff,#0010ff,#0000df,#0000af,#00009f,#00008f,#00008f,#00008f,#00009f,#0000af,#0000cf,#0000df,#0000ef,#0000ff,#0010ff,#0010ff,#0020ff,#0020ff,#0020ff,#0020ff,#0020ff,#0020ff,#0020ff,#0020ff,#0020ff,#0020ff)"></i>
<i style="background:linear-gradient(90deg,#0030ff,#0030ff,#0030ff,#0030ff,#0030ff,#0030ff,#0030ff,#0030ff,#0030ff,#0030ff,#0020ff,#0020ff,#0010ff,#0000ff,#0000ef,#0000cf,#0000bf,#00009f,#00008f,#00008f,#00008f,#00008f,#0000af,#0000cf,#0000ff,#0030ff,#0060ff,#008fff,#00afff,#00bfff,#00bfff,#00afff,#008fff,#0060ff,#0030ff,#0000ff,#0000cf,#0000af,#00008f,#00008f,#00008f,#00008f,#00009f,#0000bf,#0000cf,#0000ef,#0000ff,#0010ff,#0020ff,#0020ff,#0030ff,#0030ff,#0030ff,#0030ff,#0030ff,#0030ff,#0030ff,#0030ff,#0030ff,#0030ff)"></i>
<i style="background:linear-gradient(90deg,#0040ff,#0040ff,#0040ff,#0040ff,#0040ff,#0040ff,#0040ff,#0040ff,#0040ff,#0040ff,#0030ff,#0030ff,#0020ff,#0010ff,#0000ff,#0000df,#0000bf,#0000af,#00009f,#00008f,#00008f,#00008f,#00009f,#0000cf,#0000ef,#0020ff,#0050ff,#0080ff,#009fff,#00afff,#00afff,#009fff,#0080ff,#0050ff,#0020ff,#0000ef,#0000cf,#00009f,#00008f,#00008f,#00008f,#00009f,#0000af,#0000bf,#0000df,#0000ff,#0010ff,#0020ff,#0030ff,#0030ff,#0040ff,#0040ff,#0040ff,#0040ff,#0040ff,#0040ff,#0040ff,#0040ff,#0040ff,#0040ff)"></i>
<i style="background:linear-gradient(90deg,#0050ff,#0050ff,#0050ff,#0050ff,#0050ff,#0050ff,#0050ff,#0050ff,#0050ff,#0050ff,#0040ff,#0040ff,#0030ff,#0020ff,#0000ff,#0000ef,#0000cf,#0000af,#00009f,#00008f,#00008f,#00008f,#00009f,#0000bf,#0000df,#0010ff,#0040ff,#0070ff,#008fff,#009fff,#009fff,#008fff,#0070ff,#0040ff,#0010ff,#0000df,#0000bf,#00009f,#00008f,#00008f,#00008f,#00009f,#0000af,#0000cf,#0000ef,#0000ff,#0020ff,#0030ff,#0040ff,#0040ff,#0050ff,#0050ff,#0050ff,#0050ff,#0050ff,#0050ff,#0050ff,#0050ff,#0050ff,#0050ff)"></i>
<i style="background:linear-gradient(90deg,#0070ff,#0070ff,#0070ff,#0070ff,#0070ff,#0070ff,#0060ff,#0060ff,#0060ff,#0060ff,#0060ff,#0050ff,#0040ff,#0030ff,#0010ff,#0000ff,#0000df,#0000bf,#00009f,#00008f,#00008f,#00008f,#00009f,#0000af,#0000df,#0000ff,#0030ff,#0060ff,#0080ff,#008fff,#008fff,#0080ff,#0060ff,#0030ff,#0000ff,#0000df,#0000af,#00009f,#00008f,#00008f,#00008f,#00009f,#0000bf,#0000df,#0000ff,#0010ff,#0030ff,#0040ff,#0050ff,#0060ff,#0060ff,#0060ff,#0060ff,#0060ff,#0070ff,#0070ff,#0070ff,#0070ff,#0070ff,#0070ff)"></i>
<i style="background:linear-gradient(90deg,#0080ff,#0080ff,#0080ff,#0080ff,#0080ff,#0080ff,#0080ff,#0080ff,#0070ff,#0070ff,#0070ff,#0060ff,#0050ff,#0040ff,#0020ff,#0000ff,#0000df,#0000cf,#0000af,#00008f,#00008f,#00008f,#00008f,#0000af,#0000cf,#0000ff,#0020ff,#0050ff,#0060ff,#0070ff,#0070ff,#0060ff,#0050ff,#0020ff,#0000ff,#0000cf,#0000af,#00008f,#00008f,#00008f,#00008f,#0000af,#0000cf,#0000df,#0000ff,#0020ff,#0040ff,#0050ff,#0060ff,#0070ff,#0070ff,#0070ff,#0080ff,#0080ff,#0080ff,#0080ff,#0080ff,#0080ff,#0080ff,#0080ff)"></i>
<i style="background:linear-gradient(90deg,#008fff,#008fff,#008fff,#008fff,#008fff,#008fff,#008fff,#008fff,#008fff,#0080ff,#0080ff,#0070ff,#0060ff,#0050ff,#0030ff,#0010ff,#0000ef,#0000cf,#0000af,#00009f,#00008f,#00008f,#00008f,#00009f,#0000bf,#0000ef,#0010ff,#0030ff,#0050ff,#0060ff,#0060ff,#0050ff,#0030ff,#0010ff,#0000ef,#0000bf,#00009f,#00008f,#00008f,#00008f,#00009f,#0000af,#0000cf,#0000ef,#0010ff,#0030ff,#0050ff,#0060ff,#0070ff,#0080ff,#0080ff,#008fff,#008fff,#008fff,#008fff,#008fff,#008fff,#008fff,#008fff,#008fff)"></i>
<i style="background:linear-gradient(90deg,#009fff,#009fff,#009fff,#009fff,#009fff,#009fff,#009fff,#009fff,#009fff,#009fff,#008fff,#008fff,#0080ff,#0060ff,#0040ff,#0020ff,#0000ff,#0000df,#0000bf,#00009f,#00008f,#00008f,#00008f,#00009f,#0000bf,#0000df,#0000ff,#0020ff,#0040ff,#0050ff,#0050ff,#0040ff,#0020ff,#0000ff,#0000df,#0000bf,#00009f,#00008f,#00008f,#00008f,#00009f,#0000bf,#0000df,#0000ff,#0020ff,#0040ff,#0060ff,#0080ff,#008fff,#008fff,#009fff,#009fff,#009fff,#009fff,#009fff,#009fff,#009fff,#009fff,#009fff,#009fff)"></i>
<i style="background:linear-gradient(90deg,#00bfff,#00bfff,#00bfff,#00bfff,#00bfff,#00bfff,#00bfff,#00bfff,#00bfff,#00afff,#00afff,#009fff,#008fff,#0070ff,#0060ff,#0030ff,#0010ff,#0000ef,#0000bf,#00009f,#00008f,#00008f,#00008f,#00009f,#0000af,#0000cf,#0000ef,#0010ff,#0030ff,#0040ff,#0040ff,#0030ff,#0010ff,#0000ef,#0000cf,#0000af,#00009f,#00008f,#00008f,#00008f,#00009f,#0000bf,#0000ef,#0010ff,#0030ff,#0060ff,#0070ff,#008fff,#009fff,#00afff,#00afff,#00bfff,#00bfff,#00bfff,#00bfff,#00bfff,#00bfff,#00bfff,#00bfff,#00bfff)"></i>
<i style="background:linear-gradient(90deg,#00cfff,#00cfff,#00cfff,#00cfff,#00cfff,#00cfff,#00cfff,#00cfff,#00cfff,#00cfff,#00bfff,#00afff,#009fff,#008fff,#0070ff,#0050ff,#0020ff,#0000ef,#0000cf,#0000af,#00008f,#00008f,#00008f,#00008f,#0000af,#0000cf,#0000ef,#0010ff,#0020ff,#0030ff,#0030ff,#0020ff,#0010ff,#0000ef,#0000cf,#0000af,#00008f,#00008f,#00008f,#00008f,#0000af,#0000cf,#0000ef,#0020ff,#0050ff,#0070ff,#008fff,#009fff,#00afff,#00bfff,#00cfff,#00cfff,#00cfff,#00cfff,#00cfff,#00cfff,#00cfff,#00cfff,#00cfff,#00cfff)"></i>
<i style="background:linear-gradient(90deg,#00efff,#00efff,#00efff,#00efff,#00efff,#00efff,#00efff,#00efff,#00dfff,#00dfff,#00dfff,#00cfff,#00bfff,#009fff,#0080ff,#0060ff,#0030ff,#0000ff,#0000df,#0000af,#00009f,#00008f,#00008f,#00008f,#00009f,#0000bf,#0000df,#0000ff,#0010ff,#0020ff,#0020ff,#0010ff,#0000ff,#0000df,#0000bf,#00009f,#00008f,#00008f,#00008f,#00009f,#0000af,#0000df,#0000ff,#0030ff,#0060ff,#0080ff,#009fff,#00bfff,#00cfff,#00dfff,#00dfff,#00dfff,#00efff,#00efff,#00efff,#00efff,#00efff,#00efff,#00efff,#00efff)"></i>
<i style="background:linear-gradient(90deg,#00ffff,#00ffff,#00ffff,#00ffff,#00ffff,#00ffff,#00ffff,#00ffff,#00ffff,#00ffff,#00efff,#00dfff,#00cfff,#00afff,#008fff,#0070ff,#0040ff,#0010ff,#0000df,#0000bf,#00009f,#00008f,#00008f,#00008f,#00009f,#0000af,#0000cf,#0000ef,#0000ff,#0010ff,#0010ff,#0000ff,#0000ef,#0000cf,#0000af,#00009f,#00008f,#00008f,#00008f,#00009f,#0000bf,#0000df,#0010ff,#0040ff,#0070ff,#008fff,#00afff,#00cfff,#00dfff,#00efff,#00ffff,#00ffff,#00ffff,#00ffff,#00ffff,#00ffff,#00ffff,#00ffff,#00ffff,#00ffff)"></i>
<i style="background:linear-gradient(90deg,#20ffdf,#20ffdf,#20ffdf,#20ffdf,#20ffdf,#20ffdf,#20ffdf,#20ffdf,#20ffdf,#10ffef,#10ffef,#00ffff,#00efff,#00cfff,#00afff,#0080ff,#0050ff,#0020ff,#0000ef,#0000cf,#0000af,#00008f,#00008f,#00008f,#00009f,#0000af,#0000cf,#0000df,#0000ef,#0000ff,#0000ff,#0000ef,#0000df,#0000cf,#0000af,#00009f,#00008f,#00008f,#00008f,#0000af,#0000cf,#0000ef,#0020ff,#0050ff,#0080ff,#00afff,#00cfff,#00efff,#00ffff,#10ffef,#10ffef,#20ffdf,#20ffdf,#20ffdf,#20ffdf,#20ffdf,#20ffdf,#20ffdf,#20ffdf,#20ffdf)"></i>
<i style="background:linear-gradient(90deg,#40ffbf,#40ffbf,#40ffbf,#40ffbf,#40ffbf,#40ffbf,#40ffbf,#40ffbf,#30ffcf,#30ffcf,#20ffdf,#20ffdf,#00ffff,#00dfff,#00bfff,#008fff,#0060ff,#0030ff,#0000ff,#0000cf,#0000af,#00008f,#00008f,#00008f,#00008f,#00009f,#0000bf,#0000cf,#0000ef,#0000ef,#0000ef,#0000ef,#0000cf,#0000bf,#00009f,#00008f,#00008f,#00008f,#00008f,#0000af,#0000cf,#0000ff,#0030ff,#0060ff,#008fff,#00bfff,#00dfff,#00ffff,#20ffdf,#20ffdf,#30ffcf,#30ffcf,#40ffbf,#40ffbf,#40ffbf,#40ffbf,#40ffbf,#40ffbf,#40ffbf,#40ffbf)"></i>
<i style="background:linear-gradient(90deg,#50ffaf,#50ffaf,#50ffaf,#50ffaf,#50ffaf,#50ffaf,#50ffaf,#50ffaf,#50ffaf,#50ffaf,#40ffbf,#30ffcf,#20ffdf,#00ffff,#00dfff,#00afff,#0080ff,#0040ff,#0010ff,#0000df,#0000bf,#00009f,#00008f,#00008f,#00008f,#00009f,#0000af,#0000cf,#0000df,#0000df,#0000df,#0000df,#0000cf,#0000af,#00009f,#00008f,#00008f,#00008f,#00009f,#0000bf,#0000df,#0010ff,#0040ff,#0080ff,#00afff,#00dfff,#00ffff,#20ffdf,#30ffcf,#40ffbf,#50ffaf,#50ffaf,#50ffaf,#50ffaf,#50ffaf,#50ffaf,#50ffaf,#50ffaf,#50ffaf,#50ffaf)"></i>
<i style="background:linear-gradient(90deg,#70ff8f,#70ff8f,#70ff8f,#70ff8f,#70ff8f,#70ff8f,#70ff8f,#70ff8f,#70ff8f,#60ff9f,#60ff9f,#50ffaf,#30ffcf,#10ffef,#00efff,#00bfff,#008fff,#0050ff,#0020ff,#0000ef,#0000bf,#00009f,#00008f,#00008f,#00008f,#00009f,#0000af,#0000bf,#0000cf,#0000df,#0000df,#0000cf,#0000bf,#0000af,#00009f,#00008f,#00008f,#00008f,#00009f,#0000bf,#0000ef,#0020ff,#0050ff,#008fff,#00bfff,#00efff,#10ffef,#30ffcf,#50ffaf,#60ff9f,#60ff9f,#70ff8f,#70ff8f,#70ff8f,#70ff8f,#70ff8f,#70ff8f,#70ff8f,#70ff8f,#70ff8f)"></i>
<i style="background:linear-gradient(90deg,#8fff70,#8fff70,#8fff70,#8fff70,#8fff70,#8fff70,#8fff70,#8fff70,#8fff70,#80ff80,#80ff80,#70ff8f,#50ffaf,#30ffcf,#00ffff,#00cfff,#009fff,#0060ff,#0030ff,#0000ff,#0000cf,#0000af,#00008f,#00008f,#00008f,#00008f,#00009f,#0000bf,#0000cf,#0000cf,#0000cf,#0000cf,#0000bf,#00009f,#00008f,#00008f,#00008f,#00008f,#0000af,#0000cf,#0000ff,#0030ff,#0060ff,#009fff,#00cfff,#00ffff,#30ffcf,#50ffaf,#70ff8f,#80ff80,#80ff80,#8fff70,#8fff70,#8fff70,#8fff70,#8fff70,#8fff70,#8fff70,#8fff70,#8fff70)"></i>
<i style="background:linear-gradient(90deg,#afff50,#afff50,#afff50,#afff50,#afff50,#afff50,#afff50,#afff50,#9fff60,#9fff60,#8fff70,#80ff80,#70ff8f,#50ffaf,#20ffdf,#00efff,#00afff,#0080ff,#0040ff,#0000ff,#0000cf,#0000af,#00008f,#00008f,#00008f,#00008f,#00009f,#0000af,#0000bf,#0000bf,#0000bf,#0000bf,#0000af,#00009f,#00008f,#00008f,#00008f,#00008f,#0000af,#0000cf,#0000ff,#0040ff,#0080ff,#00afff,#00efff,#20ffdf,#50ffaf,#70ff8f,#80ff80,#8fff70,#9fff60,#9fff60,#afff50,#afff50,#afff50,#afff50,#afff50,#afff50,#afff50,#afff50)"></i>
<i style="background:linear-gradient(90deg,#cfff30,#cfff30,#cfff30,#cfff30,#cfff30,#cfff30,#bfff40,#bfff40,#bfff40,#bfff40,#afff50,#9fff60,#80ff80,#60ff9f,#40ffbf,#00ffff,#00cfff,#008fff,#0050ff,#0010ff,#0000df,#0000af,#00009f,#00008f,#00008f,#00008f,#00009f,#0000af,#0000af,#0000bf,#0000bf,#0000af,#0000af,#00009f,#00008f,#00008f,#00008f,#00009f,#0000af,#0000df,#0010ff,#0050ff,#008fff,#00cfff,#00ffff,#40ffbf,#60ff9f,#80ff80,#9fff60,#afff50,#bfff40,#bfff40,#bfff40,#bfff40,#cfff30,#cfff30,#cfff30,#cfff30,#cfff30,#cfff30)"></i>
<i style="background:linear-gradient(90deg,#dfff20,#dfff20,#dfff20,#dfff20,#dfff20,#dfff20,#dfff20,#dfff20,#dfff20,#cfff30,#cfff30,#bfff40,#9fff60,#80ff80,#50ffaf,#20ffdf,#00dfff,#009fff,#0060ff,#0020ff,#0000ef,#0000bf,#00009f,#00008f,#00008f,#00008f,#00008f,#00009f,#0000af,#0000af,#0000af,#0000af,#00009f,#00008f,#00008f,#00008f,#00008f,#00009f,#0000bf,#0000ef,#0020ff,#0060ff,#009fff,#00dfff,#20ffdf,#50ffaf,#80ff80,#9fff60,#bfff40,#cfff30,#cfff30,#dfff20,#dfff20,#dfff20,#dfff20,#dfff20,#dfff20,#dfff20,#dfff20,#dfff20)"></i>
<i style="background:linear-gradient(90deg,#ffff00,#ffff00,#ffff00,#ffff00,#ffff00,#ffff00,#ffff00,#ffff00,#ffff00,#efff10,#efff10,#cfff30,#bfff40,#9fff60,#70ff8f,#30ffcf,#00efff,#00afff,#0070ff,#0030ff,#0000ef,#0000bf,#00009f,#00008f,#00008f,#00008f,#00008f,#00009f,#0000af,#0000af,#0000af,#0000af,#00009f,#00008f,#00008f,#00008f,#00008f,#00009f,#0000bf,#0000ef,#0030ff,#0070ff,#00afff,#00efff,#30ffcf,#70ff8f,#9fff60,#bfff40,#cfff30,#efff10,#efff10,#ffff00,#ffff00,#ffff00,#ffff00,#ffff00,#ffff00,#ffff00,#ffff00,#ffff00)"></i>
<i style="background:linear-gradient(90deg,#ffdf00,#ffdf00,#ffdf00,#ffdf00,#ffdf00,#ffdf00,#ffdf00,#ffdf00,#ffdf00,#ffef00,#ffff00,#efff10,#cfff30,#afff50,#80ff80,#50ffaf,#10ffef,#00bfff,#0080ff,#0040ff,#0000ff,#0000cf,#0000af,#00008f,#00008f,#00008f,#00008f,#00009f,#00009f,#0000af,#0000af,#00009f,#00009f,#00008f,#00008f,#00008f,#00008f,#0000af,#0000cf,#0000ff,#0040ff,#0080ff,#00bfff,#10ffef,#50ffaf,#80ff80,#afff50,#cfff30,#efff10,#ffff00,#ffef00,#ffdf00,#ffdf00,#ffdf00,#ffdf00,#ffdf00,#ffdf00,#ffdf00,#ffdf00,#ffdf00)"></i>
<i style="background:linear-gradient(90deg,#ffbf00,#ffbf00,#ffbf00,#ffbf00,#ffbf00,#ffbf00,#ffbf00,#ffbf00,#ffcf00,#ffcf00,#ffdf00,#ffef00,#efff10,#cfff30,#9fff60,#60ff9f,#20ffdf,#00cfff,#008fff,#0050ff,#0010ff,#0000df,#0000af,#00008f,#00008f,#00008f,#00008f,#00008f,#00009f,#00009f,#00009f,#00009f,#00008f,#00008f,#00008f,#00008f,#00008f,#0000af,#0000df,#0010ff,#0050ff,#008fff,#00cfff,#20ffdf,#60ff9f,#9fff60,#cfff30,#efff10,#ffef00,#ffdf00,#ffcf00,#ffcf00,#ffbf00,#ffbf00,#ffbf00,#ffbf00,#ffbf00,#ffbf00,#ffbf00,#ffbf00)"></i>
<i style="background:linear-gradient(90deg,#ff9f00,#ff9f00,#ff9f00,#ff9f00,#ff9f00,#ff9f00,#ffaf00,#ffaf00,#ffaf00,#ffaf00,#ffbf00,#ffcf00,#ffef00,#dfff20,#afff50,#70ff8f,#30ffcf,#00efff,#009fff,#0060ff,#0020ff,#0000df,#0000bf,#00009f,#00008f,#00008f,#00008f,#00008f,#00009f,#00009f,#00009f,#00009f,#00008f,#00008f,#00008f,#00008f,#00009f,#0000bf,#0000df,#0020ff,#0060ff,#009fff,#00efff,#30ffcf,#70ff8f,#afff50,#dfff20,#ffef00,#ffcf00,#ffbf00,#ffaf00,#ffaf00,#ffaf00,#ffaf00,#ff9f00,#ff9f00,#ff9f00,#ff9f00,#ff9f00,#ff9f00)"></i>
<i style="background:linear-gradient(90deg,#ff8f00,#ff8f00,#ff8f00,#ff8f00,#ff8f00,#ff8f00,#ff8f00,#ff8f00,#ff8f00,#ff9f00,#ffaf00,#ffbf00,#ffdf00,#ffff00,#cfff30,#8fff70,#40ffbf,#00ffff,#00afff,#0060ff,#0020ff,#0000ef,#0000bf,#00009f,#00008f,#00008f,#00008f,#00008f,#00008f,#00009f,#00009f,#00008f,#00008f,#00008f,#00008f,#00008f,#00009f,#0000bf,#0000ef,#0020ff,#0060ff,#00afff,#00ffff,#40ffbf,#8fff70,#cfff30,#ffff00,#ffdf00,#ffbf00,#ffaf00,#ff9f00,#ff8f00,#ff8f00,#ff8f00,#ff8f00,#ff8f00,#ff8f00,#ff8f00,#ff8f00,#ff8f00)"></i>
<i style="background:linear-gradient(90deg,#ff7000,#ff7000,#ff7000,#ff7000,#ff7000,#ff7000,#ff7000,#ff7000,#ff8000,#ff8000,#ff8f00,#ff9f00,#ffbf00,#ffef00,#dfff20,#9fff60,#60ff9f,#10ffef,#00bfff,#0070ff,#0030ff,#0000ef,#0000bf,#00009f,#00008f,#00008f,#00008f,#00008f,#00008f,#00008f,#00008f,#00008f,#00008f,#00008f,#00008f,#00008f,#00009f,#0000bf,#0000ef,#0030ff,#0070ff,#00bfff,#10ffef,#60ff9f,#9fff60,#dfff20,#ffef00,#ffbf00,#ff9f00,#ff8f00,#ff8000,#ff8000,#ff7000,#ff7000,#ff7000,#ff7000,#ff7000,#ff7000,#ff7000,#ff7000)"></i>
<i style="background:linear-gradient(90deg,#ff5000,#ff5000,#ff5000,#ff5000,#ff5000,#ff5000,#ff5000,#ff6000,#ff6000,#ff6000,#ff7000,#ff8f00,#ff9f00,#ffcf00,#ffff00,#bfff40,#70ff8f,#20ffdf,#00cfff,#0080ff,#0040ff,#0000ff,#0000cf,#0000af,#00008f,#00008f,#00008f,#00008f,#00008f,#00008f,#00008f,#00008f,#00008f,#00008f,#00008f,#00008f,#0000af,#0000cf,#0000ff,#0040ff,#0080ff,#00cfff,#20ffdf,#70ff8f,#bfff40,#ffff00,#ffcf00,#ff9f00,#ff8f00,#ff7000,#ff6000,#ff6000,#ff6000,#ff5000,#ff5000,#ff5000,#ff5000,#ff5000,#ff5000,#ff5000)"></i>
<i style="background:linear-gradient(90deg,#ff4000,#ff4000,#ff4000,#ff4000,#ff4000,#ff4000,#ff4000,#ff4000,#ff4000,#ff5000,#ff6000,#ff7000,#ff8f00,#ffbf00,#ffef00,#cfff30,#80ff80,#30ffcf,#00dfff,#008fff,#0040ff,#0000ff,#0000cf,#0000af,#00008f,#00008f,#00008f,#00008f,#00008f,#00008f,#00008f,#00008f,#00008f,#00008f,#00008f,#00008f,#0000af,#0000cf,#0000ff,#0040ff,#008fff,#00dfff,#30ffcf,#80ff80,#cfff30,#ffef00,#ffbf00,#ff8f00,#ff7000,#ff6000,#ff5000,#ff4000,#ff4000,#ff4000,#ff4000,#ff4000,#ff4000,#ff4000,#ff4000,#ff4000)"></i>
<i style="background:linear-gradient(90deg,#ff2000,#ff2000,#ff2000,#ff2000,#ff2000,#ff2000,#ff2000,#ff3000,#ff3000,#ff3000,#ff4000,#ff6000,#ff8000,#ff9f00,#ffdf00,#dfff20,#8fff70,#40ffbf,#00efff,#009fff,#0050ff,#0010ff,#0000df,#0000af,#00009f,#00008f,#00008f,#00008f,#00008f,#00008f,#00008f,#00008f,#00008f,#00008f,#00008f,#00009f,#0000af,#0000df,#0010ff,#0050ff,#009fff,#00efff,#40ffbf,#8fff70,#dfff20,#ffdf00,#ff9f00,#ff8000,#ff6000,#ff4000,#ff3000,#ff3000,#ff3000,#ff2000,#ff2000,#ff2000,#ff2000,#ff2000,#ff2000,#ff2000)"></i>
<i style="background:linear-gradient(90deg,#ff1000,#ff1000,#ff1000,#ff1000,#ff1000,#ff1000,#ff1000,#ff1000,#ff1000,#ff2000,#ff3000,#ff4000,#ff6000,#ff8f00,#ffbf00,#efff10,#9fff60,#50ffaf,#00ffff,#00afff,#0060ff,#0020ff,#0000df,#0000bf,#00009f,#00008f,#00008f,#00008f,#00008f,#00008f,#00008f,#00008f,#00008f,#00008f,#00008f,#00009f,#0000bf,#0000df,#0020ff,#0060ff,#00afff,#00ffff,#50ffaf,#9fff60,#efff10,#ffbf00,#ff8f00,#ff6000,#ff4000,#ff3000,#ff2000,#ff1000,#ff1000,#ff1000,#ff1000,#ff1000,#ff1000,#ff1000,#ff1000,#ff1000)"></i>
<i style="background:linear-gradient(90deg,#ef0000,#ef0000,#ef0000,#ef0000,#ef0000,#ef0000,#ff0000,#ff0000,#ff0000,#ff1000,#ff1000,#ff3000,#ff5000,#ff8000,#ffaf00,#ffff00,#afff50,#60ff9f,#10ffef,#00afff,#0060ff,#0020ff,#0000ef,#0000bf,#00009f,#00008f,#00008f,#00008f,#00008f,#00008f,#00008f,#00008f,#00008f,#00008f,#00008f,#00009f,#0000bf,#0000ef,#0020ff,#0060ff,#00afff,#10ffef,#60ff9f,#afff50,#ffff00,#ffaf00,#ff8000,#ff5000,#ff3000,#ff1000,#ff1000,#ff0000,#ff0000,#ff0000,#ef0000,#ef0000,#ef0000,#ef0000,#ef0000,#ef0000)"></i>
<i style="background:linear-gradient(90deg,#df0000,#df0000,#df0000,#df0000,#df0000,#df0000,#df0000,#df0000,#ef0000,#ef0000,#ff0000,#ff2000,#ff4000,#ff7000,#ff9f00,#ffef00,#bfff40,#70ff8f,#20ffdf,#00bfff,#0070ff,#0030ff,#0000ef,#0000bf,#00009f,#00008f,#00008f,#00008f,#00008f,#00008f,#00008f,#00008f,#00008f,#00008f,#00008f,#00009f,#0000bf,#0000ef,#0030ff,#0070ff,#00bfff,#20ffdf,#70ff8f,#bfff40,#ffef00,#ff9f00,#ff7000,#ff4000,#ff2000,#ff0000,#ef0000,#ef0000,#df0000,#df0000,#df0000,#df0000,#df0000,#df0000,#df0000,#df0000)"></i>
<i style="background:linear-gradient(90deg,#cf0000,#cf0000,#cf0000,#cf0000,#cf0000,#cf0000,#cf0000,#cf0000,#df0000,#df0000,#ef0000,#ff1000,#ff3000,#ff5000,#ff8f00,#ffdf00,#cfff30,#80ff80,#20ffdf,#00cfff,#0080ff,#0030ff,#0000ef,#0000bf,#00009f,#00008f,#00008f,#00008f,#00008f,#00008f,#00008f,#00008f,#00008f,#00008f,#00008f,#00009f,#0000bf,#0000ef,#0030ff,#0080ff,#00cfff,#20ffdf,#80ff80,#cfff30,#ffdf00,#ff8f00,#ff5000,#ff3000,#ff1000,#ef0000,#df0000,#df0000,#cf0000,#cf0000,#cf0000,#cf0000,#cf0000,#cf0000,#cf0000,#cf0000)"></i>
<i style="background:linear-gradient(90deg,#bf0000,#bf0000,#bf0000,#bf0000,#bf0000,#bf0000,#bf0000,#bf0000,#cf0000,#cf0000,#df0000,#ef0000,#ff2000,#ff4000,#ff8000,#ffcf00,#dfff20,#8fff70,#30ffcf,#00cfff,#0080ff,#0040ff,#0000ff,#0000cf,#0000af,#00008f,#00008f,#00008f,#00008f,#00008f,#00008f,#00008f,#00008f,#00008f,#00008f,#0000af,#0000cf,#0000ff,#0040ff,#0080ff,#00cfff,#30ffcf,#8fff70,#dfff20,#ffcf00,#ff8000,#ff4000,#ff2000,#ef0000,#df0000,#cf0000,#cf0000,#bf0000,#bf0000,#bf0000,#bf0000,#bf0000,#bf0000,#bf0000,#bf0000)"></i>
<i style="background:linear-gradient(90deg,#af0000,#af0000,#af0000,#af0000,#af0000,#af0000,#af0000,#af0000,#bf0000,#bf0000,#cf0000,#ef0000,#ff1000,#ff4000,#ff7000,#ffbf00,#efff10,#8fff70,#40ffbf,#00dfff,#008fff,#0040ff,#0000ff,#0000cf,#0000af,#00009f,#00008f,#00008f,#00008f,#00008f,#00008f,#00008f,#00008f,#00008f,#00009f,#0000af,#0000cf,#0000ff,#0040ff,#008fff,#00dfff,#40ffbf,#8fff70,#efff10,#ffbf00,#ff7000,#ff4000,#ff1000,#ef0000,#cf0000,#bf0000,#bf0000,#af0000,#af0000,#af0000,#af0000,#af0000,#af0000,#af0000,#af0000)"></i>
<i style="background:linear-gradient(90deg,#9f0000,#9f0000,#9f0000,#9f0000,#9f0000,#9f0000,#9f0000,#9f0000,#af0000,#af0000,#bf0000,#df0000,#ff0000,#ff3000,#ff7000,#ffaf00,#ffff00,#9fff60,#40ffbf,#00dfff,#008fff,#0040ff,#0000ff,#0000cf,#0000af,#00009f,#00008f,#00008f,#00008f,#00008f,#00008f,#00008f,#00008f,#00008f,#00009f,#0000af,#0000cf,#0000ff,#0040ff,#008fff,#00dfff,#40ffbf,#9fff60,#ffff00,#ffaf00,#ff7000,#ff3000,#ff0000,#df0000,#bf0000,#af0000,#af0000,#9f0000,#9f0000,#9f0000,#9f0000,#9f0000,#9f0000,#9f0000,#9f0000)"></i>
<i style="background:linear-gradient(90deg,#8f0000,#8f0000,#8f0000,#8f0000,#8f0000,#8f0000,#9f0000,#9f0000,#9f0000,#af0000,#bf0000,#cf0000,#ef0000,#ff2000,#ff6000,#ffaf00,#ffff00,#9fff60,#50ffaf,#00efff,#008fff,#0050ff,#0010ff,#0000cf,#0000af,#00009f,#00008f,#00008f,#00008f,#00008f,#00008f,#00008f,#00008f,#00008f,#00009f,#0000af,#0000cf,#0010ff,#0050ff,#008fff,#00efff,#50ffaf,#9fff60,#ffff00,#ffaf00,#ff6000,#ff2000,#ef0000,#cf0000,#bf0000,#af0000,#9f0000,#9f0000,#9f0000,#8f0000,#8f0000,#8f0000,#8f0000,#8f0000,#8f0000)"></i>
<i style="background:linear-gradient(90deg,#8f0000,#8f0000,#8f0000,#8f0000,#8f0000,#8f0000,#8f0000,#8f0000,#8f0000,#9f0000,#af0000,#bf0000,#ef0000,#ff2000,#ff5000,#ff9f00,#ffef00,#afff50,#50ffaf,#00efff,#009fff,#0050ff,#0010ff,#0000df,#0000af,#00009f,#00008f,#00008f,#00008f,#00008f,#00008f,#00008f,#00008f,#00008f,#00009f,#0000af,#0000df,#0010ff,#0050ff,#009fff,#00efff,#50ffaf,#afff50,#ffef00,#ff9f00,#ff5000,#ff2000,#ef0000,#bf0000,#af0000,#9f0000,#8f0000,#8f0000,#8f0000,#8f0000,#8f0000,#8f0000,#8f0000,#8f0000,#8f0000)"></i>
<i style="background:linear-gradient(90deg,#800000,#800000,#800000,#800000,#800000,#800000,#800000,#8f0000,#8f0000,#9f0000,#af0000,#bf0000,#df0000,#ff1000,#ff5000,#ff9f00,#ffef00,#afff50,#50ffaf,#00efff,#009fff,#0050ff,#0010ff,#0000df,#0000af,#00009f,#00008f,#00008f,#00008f,#00008f,#00008f,#00008f,#00008f,#00008f,#00009f,#0000af,#0000df,#0010ff,#0050ff,#009fff,#00efff,#50ffaf,#afff50,#ffef00,#ff9f00,#ff5000,#ff1000,#df0000,#bf0000,#af0000,#9f0000,#8f0000,#8f0000,#800000,#800000,#800000,#800000,#800000,#800000,#800000)"></i>
<i style="background:linear-gradient(90deg,#800000,#800000,#800000,#800000,#800000,#800000,#800000,#800000,#8f0000,#8f0000,#9f0000,#bf0000,#df0000,#ff1000,#ff5000,#ff8f00,#ffef00,#afff50,#50ffaf,#00ffff,#009fff,#0050ff,#0010ff,#0000df,#0000af,#00009f,#00008f,#00008f,#00008f,#00008f,#00008f,#00008f,#00008f,#00008f,#00009f,#0000af,#0000df,#0010ff,#0050ff,#009fff,#00ffff,#50ffaf,#afff50,#ffef00,#ff8f00,#ff5000,#ff1000,#df0000,#bf0000,#9f0000,#8f0000,#8f0000,#800000,#800000,#800000,#800000,#800000,#800000,#800000,#800000)"></i>
<i style="background:linear-gradient(90deg,#800000,#800000,#800000,#800000,#800000,#800000,#800000,#800000,#800000,#8f0000,#9f0000,#af0000,#df0000,#ff1000,#ff5000,#ff8f00,#ffef00,#bfff40,#60ff9f,#00ffff,#009fff,#0050ff,#0010ff,#0000df,#0000af,#00009f,#00008f,#00008f,#00008f,#00008f,#00008f,#00008f,#00008f,#00008f,#00009f,#0000af,#0000df,#0010ff,#0050ff,#009fff,#00ffff,#60ff9f,#bfff40,#ffef00,#ff8f00,#ff5000,#ff1000,#df0000,#af0000,#9f0000,#8f0000,#800000,#800000,#800000,#800000,#800000,#800000,#800000,#800000,#800000)"></i>
<i style="background:linear-gradient(90deg,#800000,#800000,#800000,#800000,#800000,#800000,#800000,#800000,#800000,#8f0000,#9f0000,#af0000,#df0000,#ff1000,#ff5000,#ff8f00,#ffef00,#bfff40,#60ff9f,#00ffff,#009fff,#0050ff,#0010ff,#0000df,#0000af,#00009f,#00008f,#00008f,#00008f,#00008f,#00008f,#00008f,#00008f,#00008f,#00009f,#0000af,#0000df,#0010ff,#0050ff,#009fff,#00ffff,#60ff9f,#bfff40,#ffef00,#ff8f00,#ff5000,#ff1000,#df0000,#af0000,#9f0000,#8f0000,#800000,#800000,#800000,#800000,#800000,#800000,#800000,#800000,#800000)"></i>
<i style="background:linear-gradient(90deg,#800000,#800000,#800000,#800000,#800000,#800000,#800000,#800000,#800000,#8f0000,#9f0000,#af0000,#df0000,#ff1000,#ff5000,#ff8f00,#ffef00,#bfff40,#60ff9f,#00ffff,#009fff,#0050ff,#0010ff,#0000df,#0000af,#00009f,#00008f,#00008f,#00008f,#00008f,#00008f,#00008f,#00008f,#00008f,#00009f,#0000af,#0000df,#0010ff,#0050ff,#009fff,#00ffff,#60ff9f,#bfff40,#ffef00,#ff8f00,#ff5000,#ff1000,#df0000,#af0000,#9f0000,#8f0000,#800000,#800000,#800000,#800000,#800000,#800000,#800000,#800000,#800000)"></i>
<i style="background:linear-gradient(90deg,#800000,#800000,#800000,#800000,#800000,#800000,#800000,#800000,#8f0000,#8f0000,#9f0000,#bf0000,#df0000,#ff1000,#ff5000,#ff8f00,#ffef00,#afff50,#50ffaf,#00ffff,#009fff,#0050ff,#0010ff,#0000df,#0000af,#00009f,#00008f,#00008f,#00008f,#00008f,#00008f,#00008f,#00008f,#00008f,#00009f,#0000af,#0000df,#0010ff,#0050ff,#009fff,#00ffff,#50ffaf,#afff50,#ffef00,#ff8f00,#ff5000,#ff1000,#df0000,#bf0000,#9f0000,#8f0000,#8f0000,#800000,#800000,#800000,#800000,#800000,#800000,#800000,#800000)"></i>
<i style="background:linear-gradient(90deg,#800000,#800000,#800000,#800000,#800000,#800000,#800000,#8f0000,#8f0000,#9f0000,#9f0000,#bf0000,#df0000,#ff1000,#ff5000,#ff9f00,#ffef00,#afff50,#50ffaf,#00efff,#009fff,#0050ff,#0010ff,#0000df,#0000af,#00009f,#00008f,#00008f,#00008f,#00008f,#00008f,#00008f,#00008f,#00008f,#00009f,#0000af,#0000df,#0010ff,#0050ff,#009fff,#00efff,#50ffaf,#afff50,#ffef00,#ff9f00,#ff5000,#ff1000,#df0000,#bf0000,#9f0000,#9f0000,#8f0000,#8f0000,#800000,#800000,#800000,#800000,#800000,#800000,#800000)"></i>
<i style="background:linear-gradient(90deg,#8f0000,#8f0000,#8f0000,#8f0000,#8f0000,#8f0000,#8f0000,#8f0000,#8f0000,#9f0000,#af0000,#bf0000,#ef0000,#ff2000,#ff5000,#ff9f00,#ffef00,#afff50,#50ffaf,#00efff,#009fff,#0050ff,#0010ff,#0000df,#0000af,#00009f,#00008f,#00008f,#00008f,#00008f,#00008f,#00008f,#00008f,#00008f,#00009f,#0000af,#0000df,#0010ff,#0050ff,#009fff,#00efff,#50ffaf,#afff50,#ffef00,#ff9f00,#ff5000,#ff2000,#ef0000,#bf0000,#af0000,#9f0000,#8f0000,#8f0000,#8f0000,#8f0000,#8f0000,#8f0000,#8f0000,#8f0000,#8f0000)"></i>
<i style="background:linear-gradient(90deg,#8f0000,#8f0000,#8f0000,#8f0000,#8f0000,#8f0000,#8f0000,#9f0000,#9f0000,#af0000,#af0000,#cf0000,#ef0000,#ff2000,#ff6000,#ffaf00,#ffff00,#9fff60,#50ffaf,#00efff,#008fff,#0050ff,#0010ff,#0000cf,#0000af,#00009f,#00008f,#00008f,#00008f,#00008f,#00008f,#00008f,#00008f,#00008f,#00009f,#0000af,#0000cf,#0010ff,#0050ff,#008fff,#00efff,#50ffaf,#9fff60,#ffff00,#ffaf00,#ff6000,#ff2000,#ef0000,#cf0000,#af0000,#af0000,#9f0000,#9f0000,#8f0000,#8f0000,#8f0000,#8f0000,#8f0000,#8f0000,#8f0000)"></i>
<i style="background:linear-gradient(90deg,#9f0000,#9f0000,#9f0000,#9f0000,#9f0000,#9f0000,#9f0000,#9f0000,#af0000,#af0000,#bf0000,#df0000,#ff0000,#ff3000,#ff7000,#ffaf00,#ffff00,#9fff60,#40ffbf,#00dfff,#008fff,#0040ff,#0000ff,#0000cf,#0000af,#00009f,#00008f,#00008f,#00008f,#00008f,#00008f,#00008f,#00008f,#00008f,#00009f,#0000af,#0000cf,#0000ff,#0040ff,#008fff,#00dfff,#40ffbf,#9fff60,#ffff00,#ffaf00,#ff7000,#ff3000,#ff0000,#df0000,#bf0000,#af0000,#af0000,#9f0000,#9f0000,#9f0000,#9f0000,#9f0000,#9f0000,#9f0000,#9f0000)"></i>
<i style="background:linear-gradient(90deg,#af0000,#af0000,#af0000,#af0000,#af0000,#af0000,#af0000,#af0000,#bf0000,#bf0000,#cf0000,#df0000,#ff1000,#ff4000,#ff7000,#ffbf00,#efff10,#8fff70,#40ffbf,#00dfff,#008fff,#0040ff,#0000ff,#0000cf,#0000af,#00009f,#00008f,#00008f,#00008f,#00008f,#00008f,#00008f,#00008f,#00008f,#00009f,#0000af,#0000cf,#0000ff,#0040ff,#008fff,#00dfff,#40ffbf,#8fff70,#efff10,#ffbf00,#ff7000,#ff4000,#ff1000,#df0000,#cf0000,#bf0000,#bf0000,#af0000,#af0000,#af0000,#af0000,#af0000,#af0000,#af0000,#af0000)"></i>
<i style="background:linear-gradient(90deg,#bf0000,#bf0000,#bf0000,#bf0000,#bf0000,#bf0000,#bf0000,#bf0000,#bf0000,#cf0000,#df0000,#ef0000,#ff1000,#ff4000,#ff8000,#ffcf00,#dfff20,#8fff70,#30ffcf,#00cfff,#0080ff,#0040ff,#0000ff,#0000cf,#0000af,#00008f,#00008f,#00008f,#00008f,#00008f,#00008f,#00008f,#00008f,#00008f,#00008f,#0000af,#0000cf,#0000ff,#0040ff,#0080ff,#00cfff,#30ffcf,#8fff70,#dfff20,#ffcf00,#ff8000,#ff4000,#ff1000,#ef0000,#df0000,#cf0000,#bf0000,#bf0000,#bf0000,#bf0000,#bf0000,#bf0000,#bf0000,#bf0000,#bf0000)"></i>
<i style="background:linear-gradient(90deg,#cf0000,#cf0000,#cf0000,#cf0000,#cf0000,#cf0000,#cf0000,#cf0000,#df0000,#df0000,#ef0000,#ff0000,#ff2000,#ff5000,#ff8f00,#ffdf00,#cfff30,#80ff80,#20ffdf,#00cfff,#0080ff,#0030ff,#0000ef,#0000cf,#0000af,#00008f,#00008f,#00008f,#00008f,#00008f,#00008f,#00008f,#00008f,#00008f,#00008f,#0000af,#0000cf,#0000ef,#0030ff,#0080ff,#00cfff,#20ffdf,#80ff80,#cfff30,#ffdf00,#ff8f00,#ff5000,#ff2000,#ff0000,#ef0000,#df0000,#df0000,#cf0000,#cf0000,#cf0000,#cf0000,#cf0000,#cf0000,#cf0000,#cf0000)"></i>
<i style="background:linear-gradient(90deg,#df0000,#df0000,#df0000,#df0000,#df0000,#df0000,#df0000,#df0000,#ef0000,#ef0000,#ff0000,#ff2000,#ff4000,#ff6000,#ff9f00,#ffdf00,#cfff30,#70ff8f,#20ffdf,#00bfff,#0070ff,#0030ff,#0000ef,#0000bf,#00009f,#00008f,#00008f,#00008f,#00008f,#00008f,#00008f,#00008f,#00008f,#00008f,#00008f,#00009f,#0000bf,#0000ef,#0030ff,#0070ff,#00bfff,#20ffdf,#70ff8f,#cfff30,#ffdf00,#ff9f00,#ff6000,#ff4000,#ff2000,#ff0000,#ef0000,#ef0000,#df0000,#df0000,#df0000,#df0000,#df0000,#df0000,#df0000,#df0000)"></i>
<i style="background:linear-gradient(90deg,#ef0000,#ef0000,#ef0000,#ef0000,#ef0000,#ef0000,#ef0000,#ff0000,#ff0000,#ff0000,#ff1000,#ff3000,#ff5000,#ff8000,#ffaf00,#ffff00,#bfff40,#60ff9f,#10ffef,#00afff,#0070ff,#0020ff,#0000ef,#0000bf,#00009f,#00008f,#00008f,#00008f,#00008f,#00008f,#00008f,#00008f,#00008f,#00008f,#00008f,#00009f,#0000bf,#0000ef,#0020ff,#0070ff,#00afff,#10ffef,#60ff9f,#bfff40,#ffff00,#ffaf00,#ff8000,#ff5000,#ff3000,#ff1000,#ff0000,#ff0000,#ff0000,#ef0000,#ef0000,#ef0000,#ef0000,#ef0000,#ef0000,#ef0000)"></i>
<i style="background:linear-gradient(90deg,#ff1000,#ff1000,#ff1000,#ff1000,#ff1000,#ff1000,#ff1000,#ff1000,#ff1000,#ff2000,#ff3000,#ff4000,#ff6000,#ff8f00,#ffbf00,#efff10,#afff50,#50ffaf,#00ffff,#00afff,#0060ff,#0020ff,#0000df,#0000bf,#00009f,#00008f,#00008f,#00008f,#00008f,#00008f,#00008f,#00008f,#00008f,#00008f,#00008f,#00009f,#0000bf,#0000df,#0020ff,#0060ff,#00afff,#00ffff,#50ffaf,#afff50,#efff10,#ffbf00,#ff8f00,#ff6000,#ff4000,#ff3000,#ff2000,#ff1000,#ff1000,#ff1000,#ff1000,#ff1000,#ff1000,#ff1000,#ff1000,#ff1000)"></i>
<i style="background:linear-gradient(90deg,#ff2000,#ff2000,#ff2000,#ff2000,#ff2000,#ff2000,#ff2000,#ff2000,#ff3000,#ff3000,#ff4000,#ff5000,#ff7000,#ff9f00,#ffdf00,#dfff20,#8fff70,#40ffbf,#00efff,#009fff,#0050ff,#0010ff,#0000df,#0000af,#00009f,#00008f,#00008f,#00008f,#00008f,#00008f,#00008f,#00008f,#00008f,#00008f,#00008f,#00009f,#0000af,#0000df,#0010ff,#0050ff,#009fff,#00efff,#40ffbf,#8fff70,#dfff20,#ffdf00,#ff9f00,#ff7000,#ff5000,#ff4000,#ff3000,#ff3000,#ff2000,#ff2000,#ff2000,#ff2000,#ff2000,#ff2000,#ff2000,#ff2000)"></i>
<i style="background:linear-gradient(90deg,#ff4000,#ff4000,#ff4000,#ff4000,#ff4000,#ff4000,#ff4000,#ff4000,#ff4000,#ff5000,#ff6000,#ff7000,#ff8f00,#ffaf00,#ffef00,#cfff30,#80ff80,#30ffcf,#00dfff,#008fff,#0050ff,#0010ff,#0000cf,#0000af,#00008f,#00008f,#00008f,#00008f,#00008f,#00008f,#00008f,#00008f,#00008f,#00008f,#00008f,#00008f,#0000af,#0000cf,#0010ff,#0050ff,#008fff,#00dfff,#30ffcf,#80ff80,#cfff30,#ffef00,#ffaf00,#ff8f00,#ff7000,#ff6000,#ff5000,#ff4000,#ff4000,#ff4000,#ff4000,#ff4000,#ff4000,#ff4000,#ff4000,#ff4000)"></i>
<i style="background:linear-gradient(90deg,#ff5000,#ff5000,#ff5000,#ff5000,#ff5000,#ff5000,#ff5000,#ff5000,#ff6000,#ff6000,#ff7000,#ff8000,#ff9f00,#ffcf00,#ffff00,#bfff40,#70ff8f,#20ffdf,#00cfff,#0080ff,#0040ff,#0000ff,#0000cf,#0000af,#00008f,#00008f,#00008f,#00008f,#00008f,#00008f,#00008f,#00008f,#00008f,#00008f,#00008f,#00008f,#0000af,#0000cf,#0000ff,#0040ff,#0080ff,#00cfff,#20ffdf,#70ff8f,#bfff40,#ffff00,#ffcf00,#ff9f00,#ff8000,#ff7000,#ff6000,#ff6000,#ff5000,#ff5000,#ff5000,#ff5000,#ff5000,#ff5000,#ff5000,#ff5000)"></i>
<i style="background:linear-gradient(90deg,#ff7000,#ff7000,#ff7000,#ff7000,#ff7000,#ff7000,#ff7000,#ff7000,#ff7000,#ff8000,#ff8f00,#ff9f00,#ffbf00,#ffdf00,#dfff20,#9fff60,#60ff9f,#10ffef,#00bfff,#0070ff,#0030ff,#0000ef,#0000bf,#00009f,#00008f,#00008f,#00008f,#00008f,#00008f,#00008f,#00008f,#00008f,#00008f,#00008f,#00008f,#00008f,#00009f,#0000bf,#0000ef,#0030ff,#0070ff,#00bfff,#10ffef,#60ff9f,#9fff60,#dfff20,#ffdf00,#ffbf00,#ff9f00,#ff8f00,#ff8000,#ff7000,#ff7000,#ff7000,#ff7000,#ff7000,#ff7000,#ff7000,#ff7000,#ff7000)"></i>
<i style="background:linear-gradient(90deg,#ff8000,#ff8000,#ff8000,#ff8000,#ff8f00,#ff8f00,#ff8f00,#ff8f00,#ff8f00,#ff9f00,#ff9f00,#ffbf00,#ffcf00,#ffff00,#cfff30,#8fff70,#50ffaf,#00ffff,#00afff,#0070ff,#0020ff,#0000ef,#0000bf,#00009f,#00008f,#00008f,#00008f,#00008f,#00008f,#00009f,#00009f,#00008f,#00008f,#00008f,#00008f,#00008f,#00009f,#0000bf,#0000ef,#0020ff,#0070ff,#00afff,#00ffff,#50ffaf,#8fff70,#cfff30,#ffff00,#ffcf00,#ffbf00,#ff9f00,#ff9f00,#ff8f00,#ff8f00,#ff8f00,#ff8f00,#ff8f00,#ff8000,#ff8000,#ff8000,#ff8000)"></i>
<i style="background:linear-gradient(90deg,#ff9f00,#ff9f00,#ff9f00,#ff9f00,#ff9f00,#ff9f00,#ff9f00,#ffaf00,#ffaf00,#ffaf00,#ffbf00,#ffcf00,#ffef00,#efff10,#afff50,#80ff80,#30ffcf,#00efff,#009fff,#0060ff,#0020ff,#0000df,#0000bf,#00009f,#00008f,#00008f,#00008f,#00008f,#00009f,#00009f,#00009f,#00009f,#00008f,#00008f,#00008f,#00008f,#00009f,#0000bf,#0000df,#0020ff,#0060ff,#009fff,#00efff,#30ffcf,#80ff80,#afff50,#efff10,#ffef00,#ffcf00,#ffbf00,#ffaf00,#ffaf00,#ffaf00,#ff9f00,#ff9f00,#ff9f00,#ff9f00,#ff9f00,#ff9f00,#ff9f00)"></i>
<i style="background:linear-gradient(90deg,#ffbf00,#ffbf00,#ffbf00,#ffbf00,#ffbf00,#ffbf00,#ffbf00,#ffbf00,#ffcf00,#ffcf00,#ffdf00,#ffef00,#efff10,#cfff30,#9fff60,#60ff9f,#20ffdf,#00dfff,#008fff,#0050ff,#0010ff,#0000df,#0000af,#00009f,#00008f,#00008f,#00008f,#00008f,#00009f,#00009f,#00009f,#00009f,#00008f,#00008f,#00008f,#00008f,#00009f,#0000af,#0000df,#0010ff,#0050ff,#008fff,#00dfff,#20ffdf,#60ff9f,#9fff60,#cfff30,#efff10,#ffef00,#ffdf00,#ffcf00,#ffcf00,#ffbf00,#ffbf00,#ffbf00,#ffbf00,#ffbf00,#ffbf00,#ffbf00,#ffbf00)"></i>
<i style="background:linear-gradient(90deg,#ffdf00,#ffdf00,#ffdf00,#ffdf00,#ffdf00,#ffdf00,#ffdf00,#ffdf00,#ffdf00,#ffef00,#ffff00,#efff10,#dfff20,#afff50,#80ff80,#50ffaf,#10ffef,#00bfff,#0080ff,#0040ff,#0000ff,#0000cf,#0000af,#00008f,#00008f,#00008f,#00008f,#00009f,#00009f,#0000af,#0000af,#00009f,#00009f,#00008f,#00008f,#00008f,#00008f,#0000af,#0000cf,#0000ff,#0040ff,#0080ff,#00bfff,#10ffef,#50ffaf,#80ff80,#afff50,#dfff20,#efff10,#ffff00,#ffef00,#ffdf00,#ffdf00,#ffdf00,#ffdf00,#ffdf00,#ffdf00,#ffdf00,#ffdf00,#ffdf00)"></i>
<i style="background:linear-gradient(90deg,#ffff00,#ffff00,#ffff00,#ffff00,#ffff00,#ffff00,#ffff00,#ffff00,#ffff00,#efff10,#efff10,#dfff20,#bfff40,#9fff60,#70ff8f,#30ffcf,#00efff,#00afff,#0070ff,#0030ff,#0000ef,#0000cf,#00009f,#00008f,#00008f,#00008f,#00008f,#00009f,#0000af,#0000af,#0000af,#0000af,#00009f,#00008f,#00008f,#00008f,#00008f,#00009f,#0000cf,#0000ef,#0030ff,#0070ff,#00afff,#00efff,#30ffcf,#70ff8f,#9fff60,#bfff40,#dfff20,#efff10,#efff10,#ffff00,#ffff00,#ffff00,#ffff00,#ffff00,#ffff00,#ffff00,#ffff00,#ffff00)"></i>
<i style="background:linear-gradient(90deg,#efff10,#efff10,#efff10,#efff10,#efff10,#efff10,#dfff20,#dfff20,#dfff20,#dfff20,#cfff30,#bfff40,#9fff60,#80ff80,#50ffaf,#20ffdf,#00dfff,#009fff,#0060ff,#0020ff,#0000ef,#0000bf,#00009f,#00008f,#00008f,#00008f,#00008f,#00009f,#0000af,#0000af,#0000af,#0000af,#00009f,#00008f,#00008f,#00008f,#00008f,#00009f,#0000bf,#0000ef,#0020ff,#0060ff,#009fff,#00dfff,#20ffdf,#50ffaf,#80ff80,#9fff60,#bfff40,#cfff30,#dfff20,#dfff20,#dfff20,#dfff20,#efff10,#efff10,#efff10,#efff10,#efff10,#efff10)"></i>
<i style="background:linear-gradient(90deg,#cfff30,#cfff30,#cfff30,#cfff30,#cfff30,#cfff30,#cfff30,#cfff30,#bfff40,#bfff40,#afff50,#9fff60,#8fff70,#60ff9f,#40ffbf,#00ffff,#00cfff,#008fff,#0050ff,#0010ff,#0000df,#0000af,#00009f,#00008f,#00008f,#00008f,#00009f,#0000af,#0000af,#0000bf,#0000bf,#0000af,#0000af,#00009f,#00008f,#00008f,#00008f,#00009f,#0000af,#0000df,#0010ff,#0050ff,#008fff,#00cfff,#00ffff,#40ffbf,#60ff9f,#8fff70,#9fff60,#afff50,#bfff40,#bfff40,#cfff30,#cfff30,#cfff30,#cfff30,#cfff30,#cfff30,#cfff30,#cfff30)"></i>
<i style="background:linear-gradient(90deg,#afff50,#afff50,#afff50,#afff50,#afff50,#afff50,#afff50,#afff50,#9fff60,#9fff60,#8fff70,#80ff80,#70ff8f,#50ffaf,#20ffdf,#00efff,#00afff,#0080ff,#0040ff,#0000ff,#0000cf,#0000af,#00008f,#00008f,#00008f,#00008f,#00009f,#0000af,#0000bf,#0000bf,#0000bf,#0000bf,#0000af,#00009f,#00008f,#00008f,#00008f,#00008f,#0000af,#0000cf,#0000ff,#0040ff,#0080ff,#00afff,#00efff,#20ffdf,#50ffaf,#70ff8f,#80ff80,#8fff70,#9fff60,#9fff60,#afff50,#afff50,#afff50,#afff50,#afff50,#afff50,#afff50,#afff50)"></i>
<i style="background:linear-gradient(90deg,#8fff70,#8fff70,#8fff70,#8fff70,#8fff70,#8fff70,#8fff70,#8fff70,#8fff70,#80ff80,#80ff80,#70ff8f,#50ffaf,#30ffcf,#10ffef,#00dfff,#009fff,#0060ff,#0030ff,#0000ff,#0000cf,#0000af,#00008f,#00008f,#00008f,#00008f,#00009f,#0000bf,#0000bf,#0000cf,#0000cf,#0000bf,#0000bf,#00009f,#00008f,#00008f,#00008f,#00008f,#0000af,#0000cf,#0000ff,#0030ff,#0060ff,#009fff,#00dfff,#10ffef,#30ffcf,#50ffaf,#70ff8f,#80ff80,#80ff80,#8fff70,#8fff70,#8fff70,#8fff70,#8fff70,#8fff70,#8fff70,#8fff70,#8fff70)"></i>
<i style="background:linear-gradient(90deg,#70ff8f,#70ff8f,#70ff8f,#70ff8f,#70ff8f,#70ff8f,#70ff8f,#70ff8f,#70ff8f,#70ff8f,#60ff9f,#50ffaf,#40ffbf,#20ffdf,#00efff,#00bfff,#008fff,#0050ff,#0020ff,#0000ef,#0000bf,#00009f,#00008f,#00008f,#00008f,#00009f,#0000af,#0000bf,#0000cf,#0000df,#0000df,#0000cf,#0000bf,#0000af,#00009f,#00008f,#00008f,#00008f,#00009f,#0000bf,#0000ef,#0020ff,#0050ff,#008fff,#00bfff,#00efff,#20ffdf,#40ffbf,#50ffaf,#60ff9f,#70ff8f,#70ff8f,#70ff8f,#70ff8f,#70ff8f,#70ff8f,#70ff8f,#70ff8f,#70ff8f,#70ff8f)"></i>
<i style="background:linear-gradient(90deg,#60ff9f,#60ff9f,#60ff9f,#60ff9f,#60ff9f,#60ff9f,#60ff9f,#50ffaf,#50ffaf,#50ffaf,#40ffbf,#30ffcf,#20ffdf,#00ffff,#00dfff,#00afff,#0080ff,#0040ff,#0010ff,#0000df,#0000bf,#00009f,#00008f,#00008f,#00008f,#00009f,#0000af,#0000cf,#0000df,#0000df,#0000df,#0000df,#0000cf,#0000af,#00009f,#00008f,#00008f,#00008f,#00009f,#0000bf,#0000df,#0010ff,#0040ff,#0080ff,#00afff,#00dfff,#00ffff,#20ffdf,#30ffcf,#40ffbf,#50ffaf,#50ffaf,#50ffaf,#60ff9f,#60ff9f,#60ff9f,#60ff9f,#60ff9f,#60ff9f,#60ff9f)"></i>
<i style="background:linear-gradient(90deg,#40ffbf,#40ffbf,#40ffbf,#40ffbf,#40ffbf,#40ffbf,#40ffbf,#40ffbf,#40ffbf,#30ffcf,#30ffcf,#20ffdf,#00ffff,#00efff,#00bfff,#008fff,#0060ff,#0030ff,#0000ff,#0000cf,#0000af,#00008f,#00008f,#00008f,#00008f,#00009f,#0000bf,#0000cf,#0000df,#0000ef,#0000ef,#0000df,#0000cf,#0000bf,#00009f,#00008f,#00008f,#00008f,#00008f,#0000af,#0000cf,#0000ff,#0030ff,#0060ff,#008fff,#00bfff,#00efff,#00ffff,#20ffdf,#30ffcf,#30ffcf,#40ffbf,#40ffbf,#40ffbf,#40ffbf,#40ffbf,#40ffbf,#40ffbf,#40ffbf,#40ffbf)"></i>
<i style="background:linear-gradient(90deg,#20ffdf,#20ffdf,#20ffdf,#20ffdf,#20ffdf,#20ffdf,#20ffdf,#20ffdf,#20ffdf,#20ffdf,#10ffef,#00ffff,#00efff,#00cfff,#00afff,#0080ff,#0050ff,#0020ff,#0000ef,#0000cf,#0000af,#00008f,#00008f,#00008f,#00009f,#0000af,#0000bf,#0000df,#0000ef,#0000ff,#0000ff,#0000ef,#0000df,#0000bf,#0000af,#00009f,#00008f,#00008f,#00008f,#0000af,#0000cf,#0000ef,#0020ff,#0050ff,#0080ff,#00afff,#00cfff,#00efff,#00ffff,#10ffef,#20ffdf,#20ffdf,#20ffdf,#20ffdf,#20ffdf,#20ffdf,#20ffdf,#20ffdf,#20ffdf,#20ffdf)"></i>
<i style="background:linear-gradient(90deg,#10ffef,#10ffef,#10ffef,#10ffef,#10ffef,#10ffef,#10ffef,#00ffff,#00ffff,#00ffff,#00efff,#00efff,#00cfff,#00bfff,#008fff,#0070ff,#0040ff,#0010ff,#0000ef,#0000bf,#00009f,#00008f,#00008f,#00008f,#00009f,#0000af,#0000cf,#0000ef,#0000ff,#0010ff,#0010ff,#0000ff,#0000ef,#0000cf,#0000af,#00009f,#00008f,#00008f,#00008f,#00009f,#0000bf,#0000ef,#0010ff,#0040ff,#0070ff,#008fff,#00bfff,#00cfff,#00efff,#00efff,#00ffff,#00ffff,#00ffff,#10ffef,#10ffef,#10ffef,#10ffef,#10ffef,#10ffef,#10ffef)"></i>
<i style="background:linear-gradient(90deg,#00efff,#00efff,#00efff,#00efff,#00efff,#00efff,#00efff,#00efff,#00efff,#00dfff,#00dfff,#00cfff,#00bfff,#009fff,#0080ff,#0060ff,#0030ff,#0000ff,#0000df,#0000bf,#00009f,#00008f,#00008f,#00008f,#00009f,#0000bf,#0000df,#0000ff,#0010ff,#0020ff,#0020ff,#0010ff,#0000ff,#0000df,#0000bf,#00009f,#00008f,#00008f,#00008f,#00009f,#0000bf,#0000df,#0000ff,#0030ff,#0060ff,#0080ff,#009fff,#00bfff,#00cfff,#00dfff,#00dfff,#00efff,#00efff,#00efff,#00efff,#00efff,#00efff,#00efff,#00efff,#00efff)"></i>
<i style="background:linear-gradient(90deg,#00cfff,#00cfff,#00cfff,#00cfff,#00cfff,#00cfff,#00cfff,#00cfff,#00cfff,#00cfff,#00bfff,#00bfff,#009fff,#008fff,#0070ff,#0050ff,#0020ff,#0000ff,#0000cf,#0000af,#00008f,#00008f,#00008f,#00008f,#0000af,#0000cf,#0000ef,#0000ff,#0020ff,#0030ff,#0030ff,#0020ff,#0000ff,#0000ef,#0000cf,#0000af,#00008f,#00008f,#00008f,#00008f,#0000af,#0000cf,#0000ff,#0020ff,#0050ff,#0070ff,#008fff,#009fff,#00bfff,#00bfff,#00cfff,#00cfff,#00cfff,#00cfff,#00cfff,#00cfff,#00cfff,#00cfff,#00cfff,#00cfff)"></i>
<i style="background:linear-gradient(90deg,#00bfff,#00bfff,#00bfff,#00bfff,#00bfff,#00bfff,#00bfff,#00bfff,#00bfff,#00afff,#00afff,#009fff,#008fff,#0080ff,#0060ff,#0040ff,#0010ff,#0000ef,#0000bf,#0000af,#00008f,#00008f,#00008f,#00009f,#0000af,#0000cf,#0000ef,#0010ff,#0030ff,#0040ff,#0040ff,#0030ff,#0010ff,#0000ef,#0000cf,#0000af,#00009f,#00008f,#00008f,#00008f,#0000af,#0000bf,#0000ef,#0010ff,#0040ff,#0060ff,#0080ff,#008fff,#009fff,#00afff,#00afff,#00bfff,#00bfff,#00bfff,#00bfff,#00bfff,#00bfff,#00bfff,#00bfff,#00bfff)"></i>
<i style="background:linear-gradient(90deg,#00afff,#00afff,#00afff,#00afff,#00afff,#00afff,#009fff,#009fff,#009fff,#009fff,#009fff,#008fff,#0080ff,#0060ff,#0050ff,#0030ff,#0000ff,#0000df,#0000bf,#00009f,#00008f,#00008f,#00008f,#00009f,#0000bf,#0000df,#0000ff,#0020ff,#0040ff,#0050ff,#0050ff,#0040ff,#0020ff,#0000ff,#0000df,#0000bf,#00009f,#00008f,#00008f,#00008f,#00009f,#0000bf,#0000df,#0000ff,#0030ff,#0050ff,#0060ff,#0080ff,#008fff,#009fff,#009fff,#009fff,#009fff,#009fff,#00afff,#00afff,#00afff,#00afff,#00afff,#00afff)"></i>
<i style="background:linear-gradient(90deg,#008fff,#008fff,#008fff,#008fff,#008fff,#008fff,#008fff,#008fff,#008fff,#008fff,#0080ff,#0080ff,#0070ff,#0050ff,#0030ff,#0020ff,#0000ef,#0000cf,#0000af,#00009f,#00008f,#00008f,#00008f,#00009f,#0000bf,#0000ef,#0010ff,#0030ff,#0050ff,#0060ff,#0060ff,#0050ff,#0030ff,#0010ff,#0000ef,#0000bf,#00009f,#00008f,#00008f,#00008f,#00009f,#0000af,#0000cf,#0000ef,#0020ff,#0030ff,#0050ff,#0070ff,#0080ff,#0080ff,#008fff,#008fff,#008fff,#008fff,#008fff,#008fff,#008fff,#008fff,#008fff,#008fff)"></i>
<i style="background:linear-gradient(90deg,#0080ff,#0080ff,#0080ff,#0080ff,#0080ff,#0080ff,#0080ff,#0080ff,#0080ff,#0070ff,#0070ff,#0060ff,#0050ff,#0040ff,#0020ff,#0010ff,#0000ef,#0000cf,#0000af,#00008f,#00008f,#00008f,#00008f,#0000af,#0000cf,#0000ef,#0020ff,#0040ff,#0060ff,#0070ff,#0070ff,#0060ff,#0040ff,#0020ff,#0000ef,#0000cf,#0000af,#00008f,#00008f,#00008f,#00008f,#0000af,#0000cf,#0000ef,#0010ff,#0020ff,#0040ff,#0050ff,#0060ff,#0070ff,#0070ff,#0080ff,#0080ff,#0080ff,#0080ff,#0080ff,#0080ff,#0080ff,#0080ff,#0080ff)"></i>
<i style="background:linear-gradient(90deg,#0070ff,#0070ff,#0070ff,#0070ff,#0070ff,#0070ff,#0070ff,#0070ff,#0060ff,#0060ff,#0060ff,#0050ff,#0040ff,#0030ff,#0010ff,#0000ff,#0000df,#0000bf,#00009f,#00008f,#00008f,#00008f,#00009f,#0000af,#0000df,#0000ff,#0030ff,#0060ff,#0070ff,#0080ff,#0080ff,#0070ff,#0060ff,#0030ff,#0000ff,#0000df,#0000af,#00009f,#00008f,#00008f,#00008f,#00009f,#0000bf,#0000df,#0000ff,#0010ff,#0030ff,#0040ff,#0050ff,#0060ff,#0060ff,#0060ff,#0070ff,#0070ff,#0070ff,#0070ff,#0070ff,#0070ff,#0070ff,#0070ff)"></i>
<i style="background:linear-gradient(90deg,#0050ff,#0050ff,#0050ff,#0050ff,#0050ff,#0050ff,#0050ff,#0050ff,#0050ff,#0050ff,#0050ff,#0040ff,#0030ff,#0020ff,#0010ff,#0000ef,#0000cf,#0000af,#00009f,#00008f,#00008f,#00008f,#00009f,#0000bf,#0000df,#0010ff,#0040ff,#0070ff,#008fff,#009fff,#009fff,#008fff,#0070ff,#0040ff,#0010ff,#0000df,#0000bf,#00009f,#00008f,#00008f,#00008f,#00009f,#0000af,#0000cf,#0000ef,#0010ff,#0020ff,#0030ff,#0040ff,#0050ff,#0050ff,#0050ff,#0050ff,#0050ff,#0050ff,#0050ff,#0050ff,#0050ff,#0050ff,#0050ff)"></i>
<i style="background:linear-gradient(90deg,#0040ff,#0040ff,#0040ff,#0040ff,#0040ff,#0040ff,#0040ff,#0040ff,#0040ff,#0040ff,#0040ff,#0030ff,#0020ff,#0010ff,#0000ff,#0000df,#0000bf,#0000af,#00009f,#00008f,#00008f,#00008f,#00009f,#0000bf,#0000ef,#0020ff,#0050ff,#0080ff,#009fff,#00afff,#00afff,#009fff,#0080ff,#0050ff,#0020ff,#0000ef,#0000bf,#00009f,#00008f,#00008f,#00008f,#00009f,#0000af,#0000bf,#0000df,#0000ff,#0010ff,#0020ff,#0030ff,#0040ff,#0040ff,#0040ff,#0040ff,#0040ff,#0040ff,#0040ff,#0040ff,#0040ff,#0040ff,#0040ff)"></i>
<i style="background:linear-gradient(90deg,#0030ff,#0030ff,#0030ff,#0030ff,#0030ff,#0030ff,#0030ff,#0030ff,#0030ff,#0030ff,#0030ff,#0020ff,#0010ff,#0000ff,#0000ef,#0000cf,#0000bf,#00009f,#00008f,#00008f,#00008f,#00008f,#0000af,#0000cf,#0000ff,#0030ff,#0060ff,#008fff,#00afff,#00bfff,#00bfff,#00afff,#008fff,#0060ff,#0030ff,#0000ff,#0000cf,#0000af,#00008f,#00008f,#00008f,#00008f,#00009f,#0000bf,#0000cf,#0000ef,#0000ff,#0010ff,#0020ff,#0030ff,#0030ff,#0030ff,#0030ff,#0030ff,#0030ff,#0030ff,#0030ff,#0030ff,#0030ff,#0030ff)"></i>
<i style="background:linear-gradient(90deg,#0020ff,#0020ff,#0020ff,#0020ff,#0020ff,#0020ff,#0020ff,#0020ff,#0020ff,#0020ff,#0020ff,#0010ff,#0000ff,#0000ef,#0000df,#0000cf,#0000af,#00009f,#00008f,#00008f,#00008f,#00009f,#0000af,#0000df,#0010ff,#0040ff,#0070ff,#009fff,#00cfff,#00dfff,#00dfff,#00cfff,#009fff,#0070ff,#0040ff,#0010ff,#0000df,#0000af,#00009f,#00008f,#00008f,#00008f,#00009f,#0000af,#0000cf,#0000df,#0000ef,#0000ff,#0010ff,#0020ff,#0020ff,#0020ff,#0020ff,#0020ff,#0020ff,#0020ff,#0020ff,#0020ff,#0020ff,#0020ff)"></i>
<i style="background:linear-gradient(90deg,#0010ff,#0010ff,#0010ff,#0010ff,#0010ff,#0010ff,#0010ff,#0010ff,#0010ff,#0010ff,#0010ff,#0000ff,#0000ff,#0000ef,#0000cf,#0000bf,#0000af,#00009f,#00008f,#00008f,#00008f,#00009f,#0000bf,#0000df,#0020ff,#0050ff,#008fff,#00bfff,#00dfff,#00efff,#00efff,#00dfff,#00bfff,#008fff,#0050ff,#0020ff,#0000df,#0000bf,#00009f,#00008f,#00008f,#00008f,#00009f,#0000af,#0000bf,#0000cf,#0000ef,#0000ff,#0000ff,#0010ff,#0010ff,#0010ff,#0010ff,#0010ff,#0010ff,#0010ff,#0010ff,#0010ff,#0010ff,#0010ff)"></i>
<i style="background:linear-gradient(90deg,#0010ff,#0010ff,#0010ff,#0010ff,#0010ff,#0010ff,#0000ff,#0000ff,#0000ff,#0000ff,#0000ff,#0000ef,#0000ef,#0000df,#0000cf,#0000bf,#00009f,#00008f,#00008f,#00008f,#00008f,#00009f,#0000bf,#0000ef,#0030ff,#0060ff,#009fff,#00cfff,#00efff,#10ffef,#10ffef,#00efff,#00cfff,#009fff,#0060ff,#0030ff,#0000ef,#0000bf,#00009f,#00008f,#00008f,#00008f,#00008f,#00009f,#0000bf,#0000cf,#0000df,#0000ef,#0000ef,#0000ff,#0000ff,#0000ff,#0000ff,#0000ff,#0010ff,#0010ff,#0010ff,#0010ff,#0010ff,#0010ff)"></i>
<i style="background:linear-gradient(90deg,#0000ff,#0000ff,#0000ff,#0000ff,#0000ff,#0000ff,#0000ff,#0000ff,#0000ff,#0000ef,#0000ef,#0000ef,#0000df,#0000cf,#0000bf,#0000af,#00009f,#00008f,#00008f,#00008f,#00008f,#0000af,#0000cf,#0000ff,#0030ff,#0070ff,#00afff,#00dfff,#10ffef,#20ffdf,#20ffdf,#10ffef,#00dfff,#00afff,#0070ff,#0030ff,#0000ff,#0000cf,#0000af,#00008f,#00008f,#00008f,#00008f,#00009f,#0000af,#0000bf,#0000cf,#0000df,#0000ef,#0000ef,#0000ef,#0000ff,#0000ff,#0000ff,#0000ff,#0000ff,#0000ff,#0000ff,#0000ff,#0000ff)"></i>
<i style="background:linear-gradient(90deg,#0000ef,#0000ef,#0000ef,#0000ef,#0000ef,#0000ef,#0000ef,#0000ef,#0000ef,#0000ef,#0000df,#0000df,#0000cf,#0000cf,#0000bf,#0000af,#00009f,#00008f,#00008f,#00008f,#00008f,#0000af,#0000cf,#0010ff,#0040ff,#0080ff,#00bfff,#00ffff,#20ffdf,#30ffcf,#30ffcf,#20ffdf,#00ffff,#00bfff,#0080ff,#0040ff,#0010ff,#0000cf,#0000af,#00008f,#00008f,#00008f,#00008f,#00009f,#0000af,#0000bf,#0000cf,#0000cf,#0000df,#0000df,#0000ef,#0000ef,#0000ef,#0000ef,#0000ef,#0000ef,#0000ef,#0000ef,#0000ef,#0000ef)"></i>
<i style="background:linear-gradient(90deg,#0000df,#0000df,#0000df,#0000df,#0000df,#0000df,#0000df,#0000df,#0000df,#0000df,#0000df,#0000cf,#0000cf,#0000bf,#0000af,#00009f,#00008f,#00008f,#00008f,#00008f,#00009f,#0000bf,#0000df,#0010ff,#0050ff,#009fff,#00dfff,#10ffef,#40ffbf,#50ffaf,#50ffaf,#40ffbf,#10ffef,#00dfff,#009fff,#0050ff,#0010ff,#0000df,#0000bf,#00009f,#00008f,#00008f,#00008f,#00008f,#00009f,#0000af,#0000bf,#0000cf,#0000cf,#0000df,#0000df,#0000df,#0000df,#0000df,#0000df,#0000df,#0000df,#0000df,#0000df,#0000df)"></i>
<i style="background:linear-gradient(90deg,#0000df,#0000df,#0000df,#0000df,#0000df,#0000df,#0000df,#0000df,#0000df,#0000cf,#0000cf,#0000cf,#0000bf,#0000bf,#0000af,#00009f,#00008f,#00008f,#00008f,#00008f,#00009f,#0000bf,#0000ef,#0020ff,#0060ff,#00afff,#00efff,#20ffdf,#50ffaf,#60ff9f,#60ff9f,#50ffaf,#20ffdf,#00efff,#00afff,#0060ff,#0020ff,#0000ef,#0000bf,#00009f,#00008f,#00008f,#00008f,#00008f,#00009f,#0000af,#0000bf,#0000bf,#0000cf,#0000cf,#0000cf,#0000df,#0000df,#0000df,#0000df,#0000df,#0000df,#0000df,#0000df,#0000df)"></i>
<i style="background:linear-gradient(90deg,#0000cf,#0000cf,#0000cf,#0000cf,#0000cf,#0000cf,#0000cf,#0000cf,#0000cf,#0000cf,#0000cf,#0000bf,#0000bf,#0000af,#00009f,#00009f,#00008f,#00008f,#00008f,#00008f,#00009f,#0000bf,#0000ef,#0030ff,#0070ff,#00bfff,#00ffff,#40ffbf,#60ff9f,#80ff80,#80ff80,#60ff9f,#40ffbf,#00ffff,#00bfff,#0070ff,#0030ff,#0000ef,#0000bf,#00009f,#00008f,#00008f,#00008f,#00008f,#00009f,#00009f,#0000af,#0000bf,#0000bf,#0000cf,#0000cf,#0000cf,#0000cf,#0000cf,#0000cf,#0000cf,#0000cf,#0000cf,#0000cf,#0000cf)"></i>
<i style="background:linear-gradient(90deg,#0000cf,#0000cf,#0000cf,#0000cf,#0000cf,#0000cf,#0000cf,#0000bf,#0000bf,#0000bf,#0000bf,#0000bf,#0000af,#0000af,#00009f,#00008f,#00008f,#00008f,#00008f,#00008f,#0000af,#0000cf,#0000ff,#0040ff,#0080ff,#00cfff,#10ffef,#50ffaf,#80ff80,#8fff70,#8fff70,#80ff80,#50ffaf,#10ffef,#00cfff,#0080ff,#0040ff,#0000ff,#0000cf,#0000af,#00008f,#00008f,#00008f,#00008f,#00008f,#00009f,#0000af,#0000af,#0000bf,#0000bf,#0000bf,#0000bf,#0000bf,#0000cf,#0000cf,#0000cf,#0000cf,#0000cf,#0000cf,#0000cf)"></i>
<i style="background:linear-gradient(90deg,#0000bf,#0000bf,#0000bf,#0000bf,#0000bf,#0000bf,#0000bf,#0000bf,#0000bf,#0000bf,#0000bf,#0000af,#0000af,#00009f,#00009f,#00008f,#00008f,#00008f,#00008f,#00009f,#0000af,#0000df,#0010ff,#0050ff,#008fff,#00dfff,#30ffcf,#70ff8f,#8fff70,#afff50,#afff50,#8fff70,#70ff8f,#30ffcf,#00dfff,#008fff,#0050ff,#0010ff,#0000df,#0000af,#00009f,#00008f,#00008f,#00008f,#00008f,#00009f,#00009f,#0000af,#0000af,#0000bf,#0000bf,#0000bf,#0000bf,#0000bf,#0000bf,#0000bf,#0000bf,#0000bf,#0000bf,#0000bf)"></i>
<i style="background:linear-gradient(90deg,#0000bf,#0000bf,#0000bf,#0000bf,#0000bf,#0000bf,#0000bf,#0000bf,#0000bf,#0000af,#0000af,#0000af,#0000af,#00009f,#00009f,#00008f,#00008f,#00008f,#00008f,#00009f,#0000bf,#0000df,#0020ff,#0060ff,#009fff,#00efff,#40ffbf,#80ff80,#afff50,#bfff40,#bfff40,#afff50,#80ff80,#40ffbf,#00efff,#009fff,#0060ff,#0020ff,#0000df,#0000bf,#00009f,#00008f,#00008f,#00008f,#00008f,#00009f,#00009f,#0000af,#0000af,#0000af,#0000af,#0000bf,#0000bf,#0000bf,#0000bf,#0000bf,#0000bf,#0000bf,#0000bf,#0000bf)"></i>
<i style="background:linear-gradient(90deg,#0000af,#0000af,#0000af,#0000af,#0000af,#0000af,#0000af,#0000af,#0000af,#0000af,#0000af,#0000af,#00009f,#00009f,#00008f,#00008f,#00008f,#00008f,#00008f,#00009f,#0000bf,#0000ef,#0020ff,#0070ff,#00afff,#00ffff,#50ffaf,#8fff70,#bfff40,#dfff20,#dfff20,#bfff40,#8fff70,#50ffaf,#00ffff,#00afff,#0070ff,#0020ff,#0000ef,#0000bf,#00009f,#00008f,#00008f,#00008f,#00008f,#00008f,#00009f,#00009f,#0000af,#0000af,#0000af,#0000af,#0000af,#0000af,#0000af,#0000af,#0000af,#0000af,#0000af,#0000af)"></i>
<i style="background:linear-gradient(90deg,#0000af,#0000af,#0000af,#0000af,#0000af,#0000af,#0000af,#0000af,#0000af,#0000af,#0000af,#00009f,#00009f,#00009f,#00008f,#00008f,#00008f,#00008f,#00008f,#00009f,#0000bf,#0000ef,#0030ff,#0070ff,#00bfff,#20ffdf,#60ff9f,#afff50,#dfff20,#efff10,#efff10,#dfff20,#afff50,#60ff9f,#20ffdf,#00bfff,#0070ff,#0030ff,#0000ef,#0000bf,#00009f,#00008f,#00008f,#00008f,#00008f,#00008f,#00009f,#00009f,#00009f,#0000af,#0000af,#0000af,#0000af,#0000af,#0000af,#0000af,#0000af,#0000af,#0000af,#0000af)"></i>
<i style="background:linear-gradient(90deg,#0000af,#0000af,#0000af,#0000af,#0000af,#0000af,#0000af,#0000af,#00009f,#00009f,#00009f,#00009f,#00009f,#00008f,#00008f,#00008f,#00008f,#00008f,#00008f,#0000af,#0000cf,#0000ff,#0040ff,#0080ff,#00cfff,#30ffcf,#80ff80,#bfff40,#efff10,#ffef00,#ffef00,#efff10,#bfff40,#80ff80,#30ffcf,#00cfff,#0080ff,#0040ff,#0000ff,#0000cf,#0000af,#00008f,#00008f,#00008f,#00008f,#00008f,#00008f,#00009f,#00009f,#00009f,#00009f,#00009f,#0000af,#0000af,#0000af,#0000af,#0000af,#0000af,#0000af,#0000af)"></i>
<i style="background:linear-gradient(90deg,#00009f,#00009f,#00009f,#00009f,#00009f,#00009f,#00009f,#00009f,#00009f,#00009f,#00009f,#00009f,#00009f,#00008f,#00008f,#00008f,#00008f,#00008f,#00009f,#0000af,#0000cf,#0000ff,#0040ff,#008fff,#00dfff,#40ffbf,#8fff70,#cfff30,#ffff00,#ffdf00,#ffdf00,#ffff00,#cfff30,#8fff70,#40ffbf,#00dfff,#008fff,#0040ff,#0000ff,#0000cf,#0000af,#00009f,#00008f,#00008f,#00008f,#00008f,#00008f,#00009f,#00009f,#00009f,#00009f,#00009f,#00009f,#00009f,#00009f,#00009f,#00009f,#00009f,#00009f,#00009f)"></i>
<i style="background:linear-gradient(90deg,#00009f,#00009f,#00009f,#00009f,#00009f,#00009f,#00009f,#00009f,#00009f,#00009f,#00009f,#00009f,#00008f,#00008f,#00008f,#00008f,#00008f,#00008f,#00009f,#0000af,#0000df,#0010ff,#0050ff,#009fff,#00efff,#50ffaf,#9fff60,#dfff20,#ffdf00,#ffcf00,#ffcf00,#ffdf00,#dfff20,#9fff60,#50ffaf,#00efff,#009fff,#0050ff,#0010ff,#0000df,#0000af,#00009f,#00008f,#00008f,#00008f,#00008f,#00008f,#00008f,#00009f,#00009f,#00009f,#00009f,#00009f,#00009f,#00009f,#00009f,#00009f,#00009f,#00009f,#00009f)"></i>
<i style="background:linear-gradient(90deg,#00009f,#00009f,#00009f,#00009f,#00009f,#00009f,#00009f,#00009f,#00009f,#00009f,#00009f,#00008f,#00008f,#00008f,#00008f,#00008f,#00008f,#00008f,#00009f,#0000bf,#0000df,#0010ff,#0060ff,#00afff,#00ffff,#60ff9f,#afff50,#ffff00,#ffcf00,#ffaf00,#ffaf00,#ffcf00,#ffff00,#afff50,#60ff9f,#00ffff,#00afff,#0060ff,#0010ff,#0000df,#0000bf,#00009f,#00008f,#00008f,#00008f,#00008f,#00008f,#00008f,#00008f,#00009f,#00009f,#00009f,#00009f,#00009f,#00009f,#00009f,#00009f,#00009f,#00009f,#00009f)"></i>
<i style="background:linear-gradient(90deg,#00009f,#00009f,#00009f,#00009f,#00009f,#00009f,#00009f,#00009f,#00009f,#00008f,#00008f,#00008f,#00008f,#00008f,#00008f,#00008f,#00008f,#00008f,#00009f,#0000bf,#0000df,#0020ff,#0060ff,#00bfff,#10ffef,#70ff8f,#bfff40,#ffef00,#ffbf00,#ff9f00,#ff9f00,#ffbf00,#ffef00,#bfff40,#70ff8f,#10ffef,#00bfff,#0060ff,#0020ff,#0000df,#0000bf,#00009f,#00008f,#00008f,#00008f,#00008f,#00008f,#00008f,#00008f,#00008f,#00008f,#00009f,#00009f,#00009f,#00009f,#00009f,#00009f,#00009f,#00009f,#00009f)"></i>
<i style="background:linear-gradient(90deg,#00008f,#00008f,#00008f,#00008f,#00008f,#00008f,#00008f,#00008f,#00008f,#00008f,#00008f,#00008f,#00008f,#00008f,#00008f,#00008f,#00008f,#00008f,#00009f,#0000bf,#0000ef,#0030ff,#0070ff,#00bfff,#20ffdf,#80ff80,#cfff30,#ffdf00,#ffaf00,#ff8f00,#ff8f00,#ffaf00,#ffdf00,#cfff30,#80ff80,#20ffdf,#00bfff,#0070ff,#0030ff,#0000ef,#0000bf,#00009f,#00008f,#00008f,#00008f,#00008f,#00008f,#00008f,#00008f,#00008f,#00008f,#00008f,#00008f,#00008f,#00008f,#00008f,#00008f,#00008f,#00008f,#00008f)"></i>
<i style="background:linear-gradient(90deg,#00008f,#00008f,#00008f,#00008f,#00008f,#00008f,#00008f,#00008f,#00008f,#00008f,#00008f,#00008f,#00008f,#00008f,#00008f,#00008f,#00008f,#00008f,#0000af,#0000cf,#0000ef,#0030ff,#0080ff,#00cfff,#30ffcf,#8fff70,#dfff20,#ffcf00,#ff8f00,#ff8000,#ff8000,#ff8f00,#ffcf00,#dfff20,#8fff70,#30ffcf,#00cfff,#0080ff,#0030ff,#0000ef,#0000cf,#0000af,#00008f,#00008f,#00008f,#00008f,#00008f,#00008f,#00008f,#00008f,#00008f,#00008f,#00008f,#00008f,#00008f,#00008f,#00008f,#00008f,#00008f,#00008f)"></i>
<i style="background:linear-gradient(90deg,#00008f,#00008f,#00008f,#00008f,#00008f,#00008f,#00008f,#00008f,#00008f,#00008f,#00008f,#00008f,#00008f,#00008f,#00008f,#00008f,#00008f,#00009f,#0000af,#0000cf,#0000ff,#0040ff,#0080ff,#00dfff,#40ffbf,#9fff60,#ffff00,#ffbf00,#ff8000,#ff6000,#ff6000,#ff8000,#ffbf00,#ffff00,#9fff60,#40ffbf,#00dfff,#0080ff,#0040ff,#0000ff,#0000cf,#0000af,#00009f,#00008f,#00008f,#00008f,#00008f,#00008f,#00008f,#00008f,#00008f,#00008f,#00008f,#00008f,#00008f,#00008f,#00008f,#00008f,#00008f,#00008f)"></i>
<i style="background:linear-gradient(90deg,#00008f,#00008f,#00008f,#00008f,#00008f,#00008f,#00008f,#00008f,#00008f,#00008f,#00008f,#00008f,#00008f,#00008f,#00008f,#00008f,#00008f,#00009f,#0000af,#0000cf,#0000ff,#0040ff,#008fff,#00efff,#50ffaf,#afff50,#ffff00,#ffaf00,#ff7000,#ff5000,#ff5000,#ff7000,#ffaf00,#ffff00,#afff50,#50ffaf,#00efff,#008fff,#0040ff,#0000ff,#0000cf,#0000af,#00009f,#00008f,#00008f,#00008f,#00008f,#00008f,#00008f,#00008f,#00008f,#00008f,#00008f,#00008f,#00008f,#00008f,#00008f,#00008f,#00008f,#00008f)"></i>
<i style="background:linear-gradient(90deg,#00008f,#00008f,#00008f,#00008f,#00008f,#00008f,#00008f,#00008f,#00008f,#00008f,#00008f,#00008f,#00008f,#00008f,#00008f,#00008f,#00008f,#00009f,#0000af,#0000cf,#0010ff,#0050ff,#008fff,#00efff,#50ffaf,#bfff40,#ffef00,#ff9f00,#ff6000,#ff4000,#ff4000,#ff6000,#ff9f00,#ffef00,#bfff40,#50ffaf,#00efff,#008fff,#0050ff,#0010ff,#0000cf,#0000af,#00009f,#00008f,#00008f,#00008f,#00008f,#00008f,#00008f,#00008f,#00008f,#00008f,#00008f,#00008f,#00008f,#00008f,#00008f,#00008f,#00008f,#00008f)"></i>
<i style="background:linear-gradient(90deg,#00008f,#00008f,#00008f,#00008f,#00008f,#00008f,#00008f,#00008f,#00008f,#00008f,#00008f,#00008f,#00008f,#00008f,#00008f,#00008f,#00008f,#00009f,#0000af,#0000df,#0010ff,#0050ff,#009fff,#00ffff,#60ff9f,#bfff40,#ffdf00,#ff8f00,#ff5000,#ff3000,#ff3000,#ff5000,#ff8f00,#ffdf00,#bfff40,#60ff9f,#00ffff,#009fff,#0050ff,#0010ff,#0000df,#0000af,#00009f,#00008f,#00008f,#00008f,#00008f,#00008f,#00008f,#00008f,#00008f,#00008f,#00008f,#00008f,#00008f,#00008f,#00008f,#00008f,#00008f,#00008f)"></i>
<i style="background:linear-gradient(90deg,#00008f,#00008f,#00008f,#00008f,#00008f,#00008f,#00008f,#00008f,#00008f,#00008f,#00008f,#00008f,#00008f,#00008f,#00008f,#00008f,#00008f,#00009f,#0000bf,#0000df,#0010ff,#0050ff,#00afff,#00ffff,#70ff8f,#cfff30,#ffcf00,#ff8000,#ff4000,#ff2000,#ff2000,#ff4000,#ff8000,#ffcf00,#cfff30,#70ff8f,#00ffff,#00afff,#0050ff,#0010ff,#0000df,#0000bf,#00009f,#00008f,#00008f,#00008f,#00008f,#00008f,#00008f,#00008f,#00008f,#00008f,#00008f,#00008f,#00008f,#00008f,#00008f,#00008f,#00008f,#00008f)"></i>
<i style="background:linear-gradient(90deg,#00008f,#00008f,#00008f,#00008f,#00008f,#00008f,#00008f,#00008f,#00008f,#00008f,#00008f,#00008f,#00008f,#00008f,#00008f,#00008f,#00008f,#00009f,#0000bf,#0000df,#0020ff,#0060ff,#00afff,#10ffef,#70ff8f,#dfff20,#ffbf00,#ff7000,#ff3000,#ff1000,#ff1000,#ff3000,#ff7000,#ffbf00,#dfff20,#70ff8f,#10ffef,#00afff,#0060ff,#0020ff,#0000df,#0000bf,#00009f,#00008f,#00008f,#00008f,#00008f,#00008f,#00008f,#00008f,#00008f,#00008f,#00008f,#00008f,#00008f,#00008f,#00008f,#00008f,#00008f,#00008f)"></i>
<i style="background:linear-gradient(90deg,#00008f,#00008f,#00008f,#00008f,#00008f,#00008f,#00008f,#00008f,#00008f,#00008f,#00008f,#00008f,#00008f,#00008f,#00008f,#00008f,#00008f,#00009f,#0000bf,#0000ef,#0020ff,#0060ff,#00bfff,#20ffdf,#80ff80,#efff10,#ffaf00,#ff6000,#ff2000,#ff0000,#ff0000,#ff2000,#ff6000,#ffaf00,#efff10,#80ff80,#20ffdf,#00bfff,#0060ff,#0020ff,#0000ef,#0000bf,#00009f,#00008f,#00008f,#00008f,#00008f,#00008f,#00008f,#00008f,#00008f,#00008f,#00008f,#00008f,#00008f,#00008f,#00008f,#00008f,#00008f,#00008f)"></i>
<i style="background:linear-gradient(90deg,#00008f,#00008f,#00008f,#00008f,#00008f,#00008f,#00008f,#00008f,#00008f,#00008f,#00008f,#00008f,#00008f,#00008f,#00008f,#00008f,#00008f,#0000af,#0000bf,#0000ef,#0020ff,#0070ff,#00bfff,#20ffdf,#8fff70,#efff10,#ffaf00,#ff5000,#ff2000,#ff0000,#ff0000,#ff2000,#ff5000,#ffaf00,#efff10,#8fff70,#20ffdf,#00bfff,#0070ff,#0020ff,#0000ef,#0000bf,#0000af,#00008f,#00008f,#00008f,#00008f,#00008f,#00008f,#00008f,#00008f,#00008f,#00008f,#00008f,#00008f,#00008f,#00008f,#00008f,#00008f,#00008f)"></i>
<i style="background:linear-gradient(90deg,#00008f,#00008f,#00008f,#00008f,#00008f,#00008f,#00008f,#00008f,#00008f,#00008f,#00008f,#00008f,#00008f,#00008f,#00008f,#00008f,#00009f,#0000af,#0000bf,#0000ef,#0020ff,#0070ff,#00bfff,#30ffcf,#8fff70,#ffff00,#ff9f00,#ff5000,#ff1000,#ef0000,#ef0000,#ff1000,#ff5000,#ff9f00,#ffff00,#8fff70,#30ffcf,#00bfff,#0070ff,#0020ff,#0000ef,#0000bf,#0000af,#00009f,#00008f,#00008f,#00008f,#00008f,#00008f,#00008f,#00008f,#00008f,#00008f,#00008f,#00008f,#00008f,#00008f,#00008f,#00008f,#00008f)"></i>
<i style="background:linear-gradient(90deg,#00008f,#00008f,#00008f,#00008f,#00008f,#00008f,#00008f,#00008f,#00008f,#00008f,#00008f,#00008f,#00008f,#00008f,#00008f,#00008f,#00009f,#0000af,#0000cf,#0000ef,#0030ff,#0070ff,#00cfff,#30ffcf,#9fff60,#ffff00,#ff8f00,#ff4000,#ff0000,#df0000,#df0000,#ff0000,#ff4000,#ff8f00,#ffff00,#9fff60,#30ffcf,#00cfff,#0070ff,#0030ff,#0000ef,#0000cf,#0000af,#00009f,#00008f,#00008f,#00008f,#00008f,#00008f,#00008f,#00008f,#00008f,#00008f,#00008f,#00008f,#00008f,#00008f,#00008f,#00008f,#00008f)"></i>
<i style="background:linear-gradient(90deg,#00008f,#00008f,#00008f,#00008f,#00008f,#00008f,#00008f,#00008f,#00008f,#00008f,#00008f,#00008f,#00008f,#00008f,#00008f,#00008f,#00009f,#0000af,#0000cf,#0000ef,#0030ff,#0080ff,#00cfff,#30ffcf,#9fff60,#ffef00,#ff8f00,#ff3000,#ff0000,#df0000,#df0000,#ff0000,#ff3000,#ff8f00,#ffef00,#9fff60,#30ffcf,#00cfff,#0080ff,#0030ff,#0000ef,#0000cf,#0000af,#00009f,#00008f,#00008f,#00008f,#00008f,#00008f,#00008f,#00008f,#00008f,#00008f,#00008f,#00008f,#00008f,#00008f,#00008f,#00008f,#00008f)"></i>
<i style="background:linear-gradient(90deg,#00008f,#00008f,#00008f,#00008f,#00008f,#00008f,#00008f,#00008f,#00008f,#00008f,#00008f,#00008f,#00008f,#00008f,#00008f,#00008f,#00009f,#0000af,#0000cf,#0000ff,#0030ff,#0080ff,#00cfff,#40ffbf,#afff50,#ffef00,#ff8000,#ff3000,#ef0000,#cf0000,#cf0000,#ef0000,#ff3000,#ff8000,#ffef00,#afff50,#40ffbf,#00cfff,#0080ff,#0030ff,#0000ff,#0000cf,#0000af,#00009f,#00008f,#00008f,#00008f,#00008f,#00008f,#00008f,#00008f,#00008f,#00008f,#00008f,#00008f,#00008f,#00008f,#00008f,#00008f,#00008f)"></i>
<i style="background:linear-gradient(90deg,#00008f,#00008f,#00008f,#00008f,#00008f,#00008f,#00008f,#00008f,#00008f,#00008f,#00008f,#00008f,#00008f,#00008f,#00008f,#00008f,#00009f,#0000af,#0000cf,#0000ff,#0030ff,#0080ff,#00dfff,#40ffbf,#afff50,#ffdf00,#ff8000,#ff2000,#df0000,#bf0000,#bf0000,#df0000,#ff2000,#ff8000,#ffdf00,#afff50,#40ffbf,#00dfff,#0080ff,#0030ff,#0000ff,#0000cf,#0000af,#00009f,#00008f,#00008f,#00008f,#00008f,#00008f,#00008f,#00008f,#00008f,#00008f,#00008f,#00008f,#00008f,#00008f,#00008f,#00008f,#00008f)"></i>
<i style="background:linear-gradient(90deg,#00008f,#00008f,#00008f,#00008f,#00008f,#00008f,#00008f,#00008f,#00008f,#00008f,#00008f,#00008f,#00008f,#00008f,#00008f,#00008f,#00009f,#0000af,#0000cf,#0000ff,#0040ff,#0080ff,#00dfff,#40ffbf,#afff50,#ffdf00,#ff7000,#ff2000,#df0000,#bf0000,#bf0000,#df0000,#ff2000,#ff7000,#ffdf00,#afff50,#40ffbf,#00dfff,#0080ff,#0040ff,#0000ff,#0000cf,#0000af,#00009f,#00008f,#00008f,#00008f,#00008f,#00008f,#00008f,#00008f,#00008f,#00008f,#00008f,#00008f,#00008f,#00008f,#00008f,#00008f,#00008f)"></i>
<i style="background:linear-gradient(90deg,#00008f,#00008f,#00008f,#00008f,#00008f,#00008f,#00008f,#00008f,#00008f,#00008f,#00008f,#00008f,#00008f,#00008f,#00008f,#00008f,#00009f,#0000af,#0000cf,#0000ff,#0040ff,#008fff,#00dfff,#50ffaf,#bfff40,#ffcf00,#ff7000,#ff1000,#df0000,#af0000,#af0000,#df0000,#ff1000,#ff7000,#ffcf00,#bfff40,#50ffaf,#00dfff,#008fff,#0040ff,#0000ff,#0000cf,#0000af,#00009f,#00008f,#00008f,#00008f,#00008f,#00008f,#00008f,#00008f,#00008f,#00008f,#00008f,#00008f,#00008f,#00008f,#00008f,#00008f,#00008f)"></i>
<i style="background:linear-gradient(90deg,#00008f,#00008f,#00008f,#00008f,#00008f,#00008f,#00008f,#00008f,#00008f,#00008f,#00008f,#00008f,#00008f,#00008f,#00008f,#00008f,#00009f,#0000af,#0000cf,#0000ff,#0040ff,#008fff,#00dfff,#50ffaf,#bfff40,#ffcf00,#ff7000,#ff1000,#cf0000,#af0000,#af0000,#cf0000,#ff1000,#ff7000,#ffcf00,#bfff40,#50ffaf,#00dfff,#008fff,#0040ff,#0000ff,#0000cf,#0000af,#00009f,#00008f,#00008f,#00008f,#00008f,#00008f,#00008f,#00008f,#00008f,#00008f,#00008f,#00008f,#00008f,#00008f,#00008f,#00008f,#00008f)"></i>
<i style="background:linear-gradient(90deg,#00008f,#00008f,#00008f,#00008f,#00008f,#00008f,#00008f,#00008f,#00008f,#00008f,#00008f,#00008f,#00008f,#00008f,#00008f,#00008f,#00009f,#0000af,#0000cf,#0000ff,#0040ff,#008fff,#00efff,#50ffaf,#bfff40,#ffcf00,#ff6000,#ff1000,#cf0000,#af0000,#af0000,#cf0000,#ff1000,#ff6000,#ffcf00,#bfff40,#50ffaf,#00efff,#008fff,#0040ff,#0000ff,#0000cf,#0000af,#00009f,#00008f,#00008f,#00008f,#00008f,#00008f,#00008f,#00008f,#00008f,#00008f,#00008f,#00008f,#00008f,#00008f,#00008f,#00008f,#00008f)"></i>
<i style="background:linear-gradient(90deg,#00008f,#00008f,#00008f,#00008f,#00008f,#00008f,#00008f,#00008f,#00008f,#00008f,#00008f,#00008f,#00008f,#00008f,#00008f,#00008f,#00009f,#0000af,#0000cf,#0000ff,#0040ff,#008fff,#00efff,#50ffaf,#cfff30,#ffbf00,#ff6000,#ff0000,#bf0000,#9f0000,#9f0000,#bf0000,#ff0000,#ff6000,#ffbf00,#cfff30,#50ffaf,#00efff,#008fff,#0040ff,#0000ff,#0000cf,#0000af,#00009f,#00008f,#00008f,#00008f,#00008f,#00008f,#00008f,#00008f,#00008f,#00008f,#00008f,#00008f,#00008f,#00008f,#00008f,#00008f,#00008f)"></i>
<i style="background:linear-gradient(90deg,#00008f,#00008f,#00008f,#00008f,#00008f,#00008f,#00008f,#00008f,#00008f,#00008f,#00008f,#00008f,#00008f,#00008f,#00008f,#00008f,#00009f,#0000bf,#0000df,#0000ff,#0040ff,#008fff,#00efff,#60ff9f,#cfff30,#ffbf00,#ff6000,#ff0000,#bf0000,#9f0000,#9f0000,#bf0000,#ff0000,#ff6000,#ffbf00,#cfff30,#60ff9f,#00efff,#008fff,#0040ff,#0000ff,#0000df,#0000bf,#00009f,#00008f,#00008f,#00008f,#00008f,#00008f,#00008f,#00008f,#00008f,#00008f,#00008f,#00008f,#00008f,#00008f,#00008f,#00008f,#00008f)"></i>
<i style="background:linear-gradient(90deg,#00008f,#00008f,#00008f,#00008f,#00008f,#00008f,#00008f,#00008f,#00008f,#00008f,#00008f,#00008f,#00008f,#00008f,#00008f,#00008f,#00009f,#0000bf,#0000df,#0010ff,#0040ff,#008fff,#00efff,#60ff9f,#cfff30,#ffbf00,#ff5000,#ff0000,#bf0000,#9f0000,#9f0000,#bf0000,#ff0000,#ff5000,#ffbf00,#cfff30,#60ff9f,#00efff,#008fff,#0040ff,#0010ff,#0000df,#0000bf,#00009f,#00008f,#00008f,#00008f,#00008f,#00008f,#00008f,#00008f,#00008f,#00008f,#00008f,#00008f,#00008f,#00008f,#00008f,#00008f,#00008f)"></i>
<i style="background:linear-gradient(90deg,#00008f,#00008f,#00008f,#00008f,#00008f,#00008f,#00008f,#00008f,#00008f,#00008f,#00008f,#00008f,#00008f,#00008f,#00008f,#00008f,#00009f,#0000bf,#0000df,#0010ff,#0050ff,#008fff,#00efff,#60ff9f,#cfff30,#ffbf00,#ff5000,#ff0000,#bf0000,#9f0000,#9f0000,#bf0000,#ff0000,#ff5000,#ffbf00,#cfff30,#60ff9f,#00efff,#008fff,#0050ff,#0010ff,#0000df,#0000bf,#00009f,#00008f,#00008f,#00008f,#00008f,#00008f,#00008f,#00008f,#00008f,#00008f,#00008f,#00008f,#00008f,#00008f,#00008f,#00008f,#00008f)"></i>
<i style="background:linear-gradient(90deg,#00008f,#00008f,#00008f,#00008f,#00008f,#00008f,#00008f,#00008f,#00008f,#00008f,#00008f,#00008f,#00008f,#00008f,#00008f,#00008f,#00009f,#0000bf,#0000df,#0010ff,#0050ff,#009fff,#00efff,#60ff9f,#cfff30,#ffbf00,#ff5000,#ef0000,#af0000,#8f0000,#8f0000,#af0000,#ef0000,#ff5000,#ffbf00,#cfff30,#60ff9f,#00efff,#009fff,#0050ff,#0010ff,#0000df,#0000bf,#00009f,#00008f,#00008f,#00008f,#00008f,#00008f,#00008f,#00008f,#00008f,#00008f,#00008f,#00008f,#00008f,#00008f,#00008f,#00008f,#00008f)"></i>
<i style="background:linear-gradient(90deg,#00008f,#00008f,#00008f,#00008f,#00008f,#00008f,#00008f,#00008f,#00008f,#00008f,#00008f,#00008f,#00008f,#00008f,#00008f,#00008f,#00009f,#0000bf,#0000df,#0010ff,#0050ff,#009fff,#00ffff,#60ff9f,#cfff30,#ffaf00,#ff5000,#ef0000,#af0000,#8f0000,#8f0000,#af0000,#ef0000,#ff5000,#ffaf00,#cfff30,#60ff9f,#00ffff,#009fff,#0050ff,#0010ff,#0000df,#0000bf,#00009f,#00008f,#00008f,#00008f,#00008f,#00008f,#00008f,#00008f,#00008f,#00008f,#00008f,#00008f,#00008f,#00008f,#00008f,#00008f,#00008f)"></i>
<i style="background:linear-gradient(90deg,#00008f,#00008f,#00008f,#00008f,#00008f,#00008f,#00008f,#00008f,#00008f,#00008f,#00008f,#00008f,#00008f,#00008f,#00008f,#00008f,#00009f,#0000bf,#0000df,#0010ff,#0050ff,#009fff,#00ffff,#60ff9f,#dfff20,#ffaf00,#ff5000,#ef0000,#af0000,#8f0000,#8f0000,#af0000,#ef0000,#ff5000,#ffaf00,#dfff20,#60ff9f,#00ffff,#009fff,#0050ff,#0010ff,#0000df,#0000bf,#00009f,#00008f,#00008f,#00008f,#00008f,#00008f,#00008f,#00008f,#00008f,#00008f,#00008f,#00008f,#00008f,#00008f,#00008f,#00008f,#00008f)"></i>
<i style="background:linear-gradient(90deg,#00008f,#00008f,#00008f,#00008f,#00008f,#00008f,#00008f,#00008f,#00008f,#00008f,#00008f,#00008f,#00008f,#00008f,#00008f,#00008f,#00009f,#0000bf,#0000df,#0010ff,#0050ff,#009fff,#00ffff,#60ff9f,#dfff20,#ffaf00,#ff5000,#ef0000,#af0000,#8f0000,#8f0000,#af0000,#ef0000,#ff5000,#ffaf00,#dfff20,#60ff9f,#00ffff,#009fff,#0050ff,#0010ff,#0000df,#0000bf,#00009f,#00008f,#00008f,#00008f,#00008f,#00008f,#00008f,#00008f,#00008f,#00008f,#00008f,#00008f,#00008f,#00008f,#00008f,#00008f,#00008f)"></i>
<i style="background:linear-gradient(90deg,#00008f,#00008f,#00008f,#00008f,#00008f,#00008f,#00008f,#00008f,#00008f,#00008f,#00008f,#00008f,#00008f,#00008f,#00008f,#00008f,#00009f,#0000bf,#0000df,#0010ff,#0050ff,#009fff,#00ffff,#70ff8f,#dfff20,#ffaf00,#ff4000,#ef0000,#af0000,#8f0000,#8f0000,#af0000,#ef0000,#ff4000,#ffaf00,#dfff20,#70ff8f,#00ffff,#009fff,#0050ff,#0010ff,#0000df,#0000bf,#00009f,#00008f,#00008f,#00008f,#00008f,#00008f,#00008f,#00008f,#00008f,#00008f,#00008f,#00008f,#00008f,#00008f,#00008f,#00008f,#00008f)"></i>
<i style="background:linear-gradient(90deg,#00008f,#00008f,#00008f,#00008f,#00008f,#00008f,#00008f,#00008f,#00008f,#00008f,#00008f,#00008f,#00008f,#00008f,#00008f,#00008f,#00009f,#0000bf,#0000df,#0010ff,#0050ff,#009fff,#00ffff,#70ff8f,#dfff20,#ffaf00,#ff4000,#ef0000,#af0000,#8f0000,#8f0000,#af0000,#ef0000,#ff4000,#ffaf00,#dfff20,#70ff8f,#00ffff,#009fff,#0050ff,#0010ff,#0000df,#0000bf,#00009f,#00008f,#00008f,#00008f,#00008f,#00008f,#00008f,#00008f,#00008f,#00008f,#00008f,#00008f,#00008f,#00008f,#00008f,#00008f,#00008f)"></i>
<i style="background:linear-gradient(90deg,#00008f,#00008f,#00008f,#00008f,#00008f,#00008f,#00008f,#00008f,#00008f,#00008f,#00008f,#00008f,#00008f,#00008f,#00008f,#00008f,#00009f,#0000bf,#0000df,#0010ff,#0050ff,#009fff,#00ffff,#70ff8f,#dfff20,#ffaf00,#ff4000,#ef0000,#af0000,#800000,#800000,#af0000,#ef0000,#ff4000,#ffaf00,#dfff20,#70ff8f,#00ffff,#009fff,#0050ff,#0010ff,#0000df,#0000bf,#00009f,#00008f,#00008f,#00008f,#00008f,#00008f,#00008f,#00008f,#00008f,#00008f,#00008f,#00008f,#00008f,#00008f,#00008f,#00008f,#00008f)"></i>
<i style="background:linear-gradient(90deg,#00008f,#00008f,#00008f,#00008f,#00008f,#00008f,#00008f,#00008f,#00008f,#00008f,#00008f,#00008f,#00008f,#00008f,#00008f,#00008f,#00009f,#0000bf,#0000df,#0010ff,#0050ff,#009fff,#00ffff,#70ff8f,#dfff20,#ffaf00,#ff4000,#ef0000,#af0000,#800000,#800000,#af0000,#ef0000,#ff4000,#ffaf00,#dfff20,#70ff8f,#00ffff,#009fff,#0050ff,#0010ff,#0000df,#0000bf,#00009f,#00008f,#00008f,#00008f,#00008f,#00008f,#00008f,#00008f,#00008f,#00008f,#00008f,#00008f,#00008f,#00008f,#00008f,#00008f,#00008f)"></i>
<i style="background:linear-gradient(90deg,#00008f,#00008f,#00008f,#00008f,#00008f,#00008f,#00008f,#00008f,#00008f,#00008f,#00008f,#00008f,#00008f,#00008f,#00008f,#00009f,#00009f,#0000bf,#0000df,#0010ff,#0050ff,#009fff,#00ffff,#70ff8f,#dfff20,#ffaf00,#ff4000,#ef0000,#9f0000,#800000,#800000,#9f0000,#ef0000,#ff4000,#ffaf00,#dfff20,#70ff8f,#00ffff,#009fff,#0050ff,#0010ff,#0000df,#0000bf,#00009f,#00009f,#00008f,#00008f,#00008f,#00008f,#00008f,#00008f,#00008f,#00008f,#00008f,#00008f,#00008f,#00008f,#00008f,#00008f,#00008f)"></i>
<i style="background:linear-gradient(90deg,#00008f,#00008f,#00008f,#00008f,#00008f,#00008f,#00008f,#00008f,#00008f,#00008f,#00008f,#00008f,#00008f,#00008f,#00008f,#00009f,#00009f,#0000bf,#0000df,#0010ff,#0050ff,#009fff,#00ffff,#70ff8f,#dfff20,#ffaf00,#ff4000,#df0000,#9f0000,#800000,#800000,#9f0000,#df0000,#ff4000,#ffaf00,#dfff20,#70ff8f,#00ffff,#009fff,#0050ff,#0010ff,#0000df,#0000bf,#00009f,#00009f,#00008f,#00008f,#00008f,#00008f,#00008f,#00008f,#00008f,#00008f,#00008f,#00008f,#00008f,#00008f,#00008f,#00008f,#00008f)"></i>
<i style="background:linear-gradient(90deg,#00008f,#00008f,#00008f,#00008f,#00008f,#00008f,#00008f,#00008f,#00008f,#00008f,#00008f,#00008f,#00008f,#00008f,#00008f,#00009f,#00009f,#0000bf,#0000df,#0010ff,#0050ff,#009fff,#00ffff,#70ff8f,#dfff20,#ffaf00,#ff4000,#df0000,#9f0000,#800000,#800000,#9f0000,#df0000,#ff4000,#ffaf00,#dfff20,#70ff8f,#00ffff,#009fff,#0050ff,#0010ff,#0000df,#0000bf,#00009f,#00009f,#00008f,#00008f,#00008f,#00008f,#00008f,#00008f,#00008f,#00008f,#00008f,#00008f,#00008f,#00008f,#00008f,#00008f,#00008f)"></i>
<i style="background:linear-gradient(90deg,#00008f,#00008f,#00008f,#00008f,#00008f,#00008f,#00008f,#00008f,#00008f,#00008f,#00008f,#00008f,#00008f,#00008f,#00008f,#00009f,#00009f,#0000bf,#0000df,#0010ff,#0050ff,#009fff,#00ffff,#70ff8f,#dfff20,#ffaf00,#ff4000,#df0000,#9f0000,#800000,#800000,#9f0000,#df0000,#ff4000,#ffaf00,#dfff20,#70ff8f,#00ffff,#009fff,#0050ff,#0010ff,#0000df,#0000bf,#00009f,#00009f,#00008f,#00008f,#00008f,#00008f,#00008f,#00008f,#00008f,#00008f,#00008f,#00008f,#00008f,#00008f,#00008f,#00008f,#00008f)"></i>
<i style="background:linear-gradient(90deg,#00008f,#00008f,#00008f,#00008f,#00008f,#00008f,#00008f,#00008f,#00008f,#00008f,#00008f,#00008f,#00008f,#00008f,#00008f,#00009f,#00009f,#0000bf,#0000df,#0010ff,#0050ff,#009fff,#00ffff,#70ff8f,#dfff20,#ffaf00,#ff4000,#df0000,#9f0000,#800000,#800000,#9f0000,#df0000,#ff4000,#ffaf00,#dfff20,#70ff8f,#00ffff,#009fff,#0050ff,#0010ff,#0000df,#0000bf,#00009f,#00009f,#00008f,#00008f,#00008f,#00008f,#00008f,#00008f,#00008f,#00008f,#00008f,#00008f,#00008f,#00008f,#00008f,#00008f,#00008f)"></i>
<i style="background:linear-gradient(90deg,#00008f,#00008f,#00008f,#00008f,#00008f,#00008f,#00008f,#00008f,#00008f,#00008f,#00008f,#00008f,#00008f,#00008f,#00008f,#00009f,#00009f,#0000bf,#0000df,#0010ff,#0050ff,#009fff,#00ffff,#70ff8f,#dfff20,#ffaf00,#ff4000,#df0000,#9f0000,#800000,#800000,#9f0000,#df0000,#ff4000,#ffaf00,#dfff20,#70ff8f,#00ffff,#009fff,#0050ff,#0010ff,#0000df,#0000bf,#00009f,#00009f,#00008f,#00008f,#00008f,#00008f,#00008f,#00008f,#00008f,#00008f,#00008f,#00008f,#00008f,#00008f,#00008f,#00008f,#00008f)"></i>
<i style="background:linear-gradient(90deg,#00008f,#00008f,#00008f,#00008f,#00008f,#00008f,#00008f,#00008f,#00008f,#00008f,#00008f,#00008f,#00008f,#00008f,#00008f,#00009f,#00009f,#0000bf,#0000df,#0010ff,#0050ff,#009fff,#00ffff,#70ff8f,#dfff20,#ffaf00,#ff4000,#df0000,#9f0000,#800000,#800000,#9f0000,#df0000,#ff4000,#ffaf00,#dfff20,#70ff8f,#00ffff,#009fff,#0050ff,#0010ff,#0000df,#0000bf,#00009f,#00009f,#00008f,#00008f,#00008f,#00008f,#00008f,#00008f,#00008f,#00008f,#00008f,#00008f,#00008f,#00008f,#00008f,#00008f,#00008f)"></i>
<i style="background:linear-gradient(90deg,#00008f,#00008f,#00008f,#00008f,#00008f,#00008f,#00008f,#00008f,#00008f,#00008f,#00008f,#00008f,#00008f,#00008f,#00008f,#00009f,#00009f,#0000bf,#0000df,#0010ff,#0050ff,#009fff,#00ffff,#70ff8f,#dfff20,#ffaf00,#ff4000,#df0000,#9f0000,#800000,#800000,#9f0000,#df0000,#ff4000,#ffaf00,#dfff20,#70ff8f,#00ffff,#009fff,#0050ff,#0010ff,#0000df,#0000bf,#00009f,#00009f,#00008f,#00008f,#00008f,#00008f,#00008f,#00008f,#00008f,#00008f,#00008f,#00008f,#00008f,#00008f,#00008f,#00008f,#00008f)"></i>
<i style="background:linear-gradient(90deg,#00008f,#00008f,#00008f,#00008f,#00008f,#00008f,#00008f,#00008f,#00008f,#00008f,#00008f,#00008f,#00008f,#00008f,#00008f,#00009f,#00009f,#0000bf,#0000df,#0010ff,#0050ff,#009fff,#00ffff,#70ff8f,#dfff20,#ffaf00,#ff4000,#df0000,#9f0000,#800000,#800000,#9f0000,#df0000,#ff4000,#ffaf00,#dfff20,#70ff8f,#00ffff,#009fff,#0050ff,#0010ff,#0000df,#0000bf,#00009f,#00009f,#00008f,#00008f,#00008f,#00008f,#00008f,#00008f,#00008f,#00008f,#00008f,#00008f,#00008f,#00008f,#00008f,#00008f,#00008f)"></i>
<i style="background:linear-gradient(90deg,#00008f,#00008f,#00008f,#00008f,#00008f,#00008f,#00008f,#00008f,#00008f,#00008f,#00008f,#00008f,#00008f,#00008f,#00008f,#00009f,#00009f,#0000bf,#0000df,#0010ff,#0050ff,#009fff,#00ffff,#70ff8f,#dfff20,#ffaf00,#ff4000,#df0000,#9f0000,#800000,#800000,#9f0000,#df0000,#ff4000,#ffaf00,#dfff20,#70ff8f,#00ffff,#009fff,#0050ff,#0010ff,#0000df,#0000bf,#00009f,#00009f,#00008f,#00008f,#00008f,#00008f,#00008f,#00008f,#00008f,#00008f,#00008f,#00008f,#00008f,#00008f,#00008f,#00008f,#00008f)"></i>
<i style="background:linear-gradient(90deg,#00008f,#00008f,#00008f,#00008f,#00008f,#00008f,#00008f,#00008f,#00008f,#00008f,#00008f,#00008f,#00008f,#00008f,#00008f,#00009f,#00009f,#0000bf,#0000df,#0010ff,#0050ff,#009fff,#00ffff,#70ff8f,#dfff20,#ffaf00,#ff4000,#df0000,#9f0000,#800000,#800000,#9f0000,#df0000,#ff4000,#ffaf00,#dfff20,#70ff8f,#00ffff,#009fff,#0050ff,#0010ff,#0000df,#0000bf,#00009f,#00009f,#00008f,#00008f,#00008f,#00008f,#00008f,#00008f,#00008f,#00008f,#00008f,#00008f,#00008f,#00008f,#00008f,#00008f,#00008f)"></i>
<i style="background:linear-gradient(90deg,#00008f,#00008f,#00008f,#00008f,#00008f,#00008f,#00008f,#00008f,#00008f,#00008f,#00008f,#00008f,#00008f,#00008f,#00008f,#00009f,#00009f,#0000bf,#0000df,#0010ff,#0050ff,#009fff,#00ffff,#70ff8f,#dfff20,#ffaf00,#ff4000,#df0000,#9f0000,#800000,#800000,#9f0000,#df0000,#ff4000,#ffaf00,#dfff20,#70ff8f,#00ffff,#009fff,#0050ff,#0010ff,#0000df,#0000bf,#00009f,#00009f,#00008f,#00008f,#00008f,#00008f,#00008f,#00008f,#00008f,#00008f,#00008f,#00008f,#00008f,#00008f,#00008f,#00008f,#00008f)"></i>
<i style="background:linear-gradient(90deg,#00008f,#00008f,#00008f,#00008f,#00008f,#00008f,#00008f,#00008f,#00008f,#00008f,#00008f,#00008f,#00008f,#00008f,#00008f,#00009f,#00009f,#0000bf,#0000df,#0010ff,#0050ff,#009fff,#00ffff,#70ff8f,#dfff20,#ffaf00,#ff4000,#df0000,#9f0000,#800000,#800000,#9f0000,#df0000,#ff4000,#ffaf00,#dfff20,#70ff8f,#00ffff,#009fff,#0050ff,#0010ff,#0000df,#0000bf,#00009f,#00009f,#00008f,#00008f,#00008f,#00008f,#00008f,#00008f,#00008f,#00008f,#00008f,#00008f,#00008f,#00008f,#00008f,#00008f,#00008f)"></i>
<i style="background:linear-gradient(90deg,#00008f,#00008f,#00008f,#00008f,#00008f,#00008f,#00008f,#00008f,#00008f,#00008f,#00008f,#00008f,#00008f,#00008f,#00008f,#00009f,#00009f,#0000bf,#0000df,#0010ff,#0050ff,#009fff,#00ffff,#70ff8f,#dfff20,#ffaf00,#ff4000,#df0000,#9f0000,#800000,#800000,#9f0000,#df0000,#ff4000,#ffaf00,#dfff20,#70ff8f,#00ffff,#009fff,#0050ff,#0010ff,#0000df,#0000bf,#00009f,#00009f,#00008f,#00008f,#00008f,#00008f,#00008f,#00008f,#00008f,#00008f,#00008f,#00008f,#00008f,#00008f,#00008f,#00008f,#00008f)"></i>
<i style="background:linear-gradient(90deg,#00008f,#00008f,#00008f,#00008f,#00008f,#00008f,#00008f,#00008f,#00008f,#00008f,#00008f,#00008f,#00008f,#00008f,#00008f,#00009f,#00009f,#0000bf,#0000df,#0010ff,#0050ff,#009fff,#00ffff,#70ff8f,#dfff20,#ffaf00,#ff4000,#df0000,#9f0000,#800000,#800000,#9f0000,#df0000,#ff4000,#ffaf00,#dfff20,#70ff8f,#00ffff,#009fff,#0050ff,#0010ff,#0000df,#0000bf,#00009f,#00009f,#00008f,#00008f,#00008f,#00008f,#00008f,#00008f,#00008f,#00008f,#00008f,#00008f,#00008f,#00008f,#00008f,#00008f,#00008f)"></i>
<i style="background:linear-gradient(90deg,#00008f,#00008f,#00008f,#00008f,#00008f,#00008f,#00008f,#00008f,#00008f,#00008f,#00008f,#00008f,#00008f,#00008f,#00008f,#00009f,#00009f,#0000bf,#0000df,#0010ff,#0050ff,#009fff,#00ffff,#70ff8f,#dfff20,#ffaf00,#ff4000,#df0000,#9f0000,#800000,#800000,#9f0000,#df0000,#ff4000,#ffaf00,#dfff20,#70ff8f,#00ffff,#009fff,#0050ff,#0010ff,#0000df,#0000bf,#00009f,#00009f,#00008f,#00008f,#00008f,#00008f,#00008f,#00008f,#00008f,#00008f,#00008f,#00008f,#00008f,#00008f,#00008f,#00008f,#00008f)"></i>
<i style="background:linear-gradient(90deg,#00008f,#00008f,#00008f,#00008f,#00008f,#00008f,#00008f,#00008f,#00008f,#00008f,#00008f,#00008f,#00008f,#00008f,#00008f,#00009f,#00009f,#0000bf,#0000df,#0010ff,#0050ff,#009fff,#00ffff,#70ff8f,#dfff20,#ffaf00,#ff4000,#df0000,#9f0000,#800000,#800000,#9f0000,#df0000,#ff4000,#ffaf00,#dfff20,#70ff8f,#00ffff,#009fff,#0050ff,#0010ff,#0000df,#0000bf,#00009f,#00009f,#00008f,#00008f,#00008f,#00008f,#00008f,#00008f,#00008f,#00008f,#00008f,#00008f,#00008f,#00008f,#00008f,#00008f,#00008f)"></i>
<i style="background:linear-gradient(90deg,#00008f,#00008f,#00008f,#00008f,#00008f,#00008f,#00008f,#00008f,#00008f,#00008f,#00008f,#00008f,#00008f,#00008f,#00008f,#00009f,#00009f,#0000bf,#0000df,#0010ff,#0050ff,#009fff,#00ffff,#70ff8f,#dfff20,#ffaf00,#ff4000,#df0000,#9f0000,#800000,#800000,#9f0000,#df0000,#ff4000,#ffaf00,#dfff20,#70ff8f,#00ffff,#009fff,#0050ff,#0010ff,#0000df,#0000bf,#00009f,#00009f,#00008f,#00008f,#00008f,#00008f,#00008f,#00008f,#00008f,#00008f,#00008f,#00008f,#00008f,#00008f,#00008f,#00008f,#00008f)"></i>
<i style="background:linear-gradient(90deg,#00008f,#00008f,#00008f,#00008f,#00008f,#00008f,#00008f,#00008f,#00008f,#00008f,#00008f,#00008f,#00008f,#00008f,#00008f,#00009f,#00009f,#0000bf,#0000df,#0010ff,#0050ff,#009fff,#00ffff,#70ff8f,#dfff20,#ff9f00,#ff4000,#df0000,#9f0000,#800000,#800000,#9f0000,#df0000,#ff4000,#ff9f00,#dfff20,#70ff8f,#00ffff,#009fff,#0050ff,#0010ff,#0000df,#0000bf,#00009f,#00009f,#00008f,#00008f,#00008f,#00008f,#00008f,#00008f,#00008f,#00008f,#00008f,#00008f,#00008f,#00008f,#00008f,#00008f,#00008f)"></i>
<i style="background:linear-gradient(90deg,#00008f,#00008f,#00008f,#00008f,#00008f,#00008f,#00008f,#00008f,#00008f,#00008f,#00008f,#00008f,#00008f,#00008f,#00008f,#00009f,#00009f,#0000bf,#0000df,#0010ff,#0050ff,#009fff,#00ffff,#70ff8f,#dfff20,#ff9f00,#ff4000,#df0000,#9f0000,#800000,#800000,#9f0000,#df0000,#ff4000,#ff9f00,#dfff20,#70ff8f,#00ffff,#009fff,#0050ff,#0010ff,#0000df,#0000bf,#00009f,#00009f,#00008f,#00008f,#00008f,#00008f,#00008f,#00008f,#00008f,#00008f,#00008f,#00008f,#00008f,#00008f,#00008f,#00008f,#00008f)"></i>
<i style="background:linear-gradient(90deg,#00008f,#00008f,#00008f,#00008f,#00008f,#00008f,#00008f,#00008f,#00008f,#00008f,#00008f,#00008f,#00008f,#00008f,#00008f,#00009f,#00009f,#0000bf,#0000df,#0010ff,#0050ff,#009fff,#00ffff,#70ff8f,#dfff20,#ff9f00,#ff4000,#df0000,#9f0000,#800000,#800000,#9f0000,#df0000,#ff4000,#ff9f00,#dfff20,#70ff8f,#00ffff,#009fff,#0050ff,#0010ff,#0000df,#0000bf,#00009f,#00009f,#00008f,#00008f,#00008f,#00008f,#00008f,#00008f,#00008f,#00008f,#00008f,#00008f,#00008f,#00008f,#00008f,#00008f,#00008f)"></i>
<i style="background:linear-gradient(90deg,#00008f,#00008f,#00008f,#00008f,#00008f,#00008f,#00008f,#00008f,#00008f,#00008f,#00008f,#00008f,#00008f,#00008f,#00008f,#00009f,#00009f,#0000bf,#0000df,#0010ff,#0050ff,#009fff,#00ffff,#70ff8f,#dfff20,#ff9f00,#ff4000,#df0000,#9f0000,#800000,#800000,#9f0000,#df0000,#ff4000,#ff9f00,#dfff20,#70ff8f,#00ffff,#009fff,#0050ff,#0010ff,#0000df,#0000bf,#00009f,#00009f,#00008f,#00008f,#00008f,#00008f,#00008f,#00008f,#00008f,#00008f,#00008f,#00008f,#00008f,#00008f,#00008f,#00008f,#00008f)"></i>
<i style="background:linear-gradient(90deg,#00008f,#00008f,#00008f,#00008f,#00008f,#00008f,#00008f,#00008f,#00008f,#00008f,#00008f,#00008f,#00008f,#00008f,#00008f,#00009f,#00009f,#0000bf,#0000df,#0010ff,#0050ff,#009fff,#00ffff,#70ff8f,#dfff20,#ff9f00,#ff4000,#df0000,#9f0000,#800000,#800000,#9f0000,#df0000,#ff4000,#ff9f00,#dfff20,#70ff8f,#00ffff,#009fff,#0050ff,#0010ff,#0000df,#0000bf,#00009f,#00009f,#00008f,#00008f,#00008f,#00008f,#00008f,#00008f,#00008f,#00008f,#00008f,#00008f,#00008f,#00008f,#00008f,#00008f,#00008f)"></i>
<i style="background:linear-gradient(90deg,#00008f,#00008f,#00008f,#00008f,#00008f,#00008f,#00008f,#00008f,#00008f,#00008f,#00008f,#00008f,#00008f,#00008f,#00008f,#00009f,#00009f,#0000bf,#0000df,#0010ff,#0050ff,#009fff,#00ffff,#70ff8f,#dfff20,#ff9f00,#ff4000,#df0000,#9f0000,#800000,#800000,#9f0000,#df0000,#ff4000,#ff9f00,#dfff20,#70ff8f,#00ffff,#009fff,#0050ff,#0010ff,#0000df,#0000bf,#00009f,#00009f,#00008f,#00008f,#00008f,#00008f,#00008f,#00008f,#00008f,#00008f,#00008f,#00008f,#00008f,#00008f,#00008f,#00008f,#00008f)"></i>
<i style="background:linear-gradient(90deg,#00008f,#00008f,#00008f,#00008f,#00008f,#00008f,#00008f,#00008f,#00008f,#00008f,#00008f,#00008f,#00008f,#00008f,#00008f,#00009f,#00009f,#0000bf,#0000df,#0010ff,#0050ff,#009fff,#00ffff,#70ff8f,#dfff20,#ff9f00,#ff4000,#df0000,#9f0000,#800000,#800000,#9f0000,#df0000,#ff4000,#ff9f00,#dfff20,#70ff8f,#00ffff,#009fff,#0050ff,#0010ff,#0000df,#0000bf,#00009f,#00009f,#00008f,#00008f,#00008f,#00008f,#00008f,#00008f,#00008f,#00008f,#00008f,#00008f,#00008f,#00008f,#00008f,#00008f,#00008f)"></i>
<i style="background:linear-gradient(90deg,#00008f,#00008f,#00008f,#00008f,#00008f,#00008f,#00008f,#00008f,#00008f,#00008f,#00008f,#00008f,#00008f,#00008f,#00008f,#00009f,#00009f,#0000bf,#0000df,#0010ff,#0050ff,#009fff,#00ffff,#70ff8f,#dfff20,#ff9f00,#ff4000,#df0000,#9f0000,#800000,#800000,#9f0000,#df0000,#ff4000,#ff9f00,#dfff20,#70ff8f,#00ffff,#009fff,#0050ff,#0010ff,#0000df,#0000bf,#00009f,#00009f,#00008f,#00008f,#00008f,#00008f,#00008f,#00008f,#00008f,#00008f,#00008f,#00008f,#00008f,#00008f,#00008f,#00008f,#00008f)"></i>
<i style="background:linear-gradient(90deg,#00008f,#00008f,#00008f,#00008f,#00008f,#00008f,#00008f,#00008f,#00008f,#00008f,#00008f,#00008f,#00008f,#00008f,#00008f,#00009f,#00009f,#0000bf,#0000df,#0010ff,#0050ff,#009fff,#00ffff,#70ff8f,#dfff20,#ff9f00,#ff4000,#df0000,#9f0000,#800000,#800000,#9f0000,#df0000,#ff4000,#ff9f00,#dfff20,#70ff8f,#00ffff,#009fff,#0050ff,#0010ff,#0000df,#0000bf,#00009f,#00009f,#00008f,#00008f,#00008f,#00008f,#00008f,#00008f,#00008f,#00008f,#00008f,#00008f,#00008f,#00008f,#00008f,#00008f,#00008f)"></i>
<i style="background:linear-gradient(90deg,#00008f,#00008f,#00008f,#00008f,#00008f,#00008f,#00008f,#00008f,#00008f,#00008f,#00008f,#00008f,#00008f,#00008f,#00008f,#00009f,#00009f,#0000bf,#0000df,#0010ff,#0050ff,#009fff,#00ffff,#70ff8f,#dfff20,#ff9f00,#ff4000,#df0000,#9f0000,#800000,#800000,#9f0000,#df0000,#ff4000,#ff9f00,#dfff20,#70ff8f,#00ffff,#009fff,#0050ff,#0010ff,#0000df,#0000bf,#00009f,#00009f,#00008f,#00008f,#00008f,#00008f,#00008f,#00008f,#00008f,#00008f,#00008f,#00008f,#00008f,#00008f,#00008f,#00008f,#00008f)"></i>
<i style="background:linear-gradient(90deg,#00008f,#00008f,#00008f,#00008f,#00008f,#00008f,#00008f,#00008f,#00008f,#00008f,#00008f,#00008f,#00008f,#00008f,#00008f,#00009f,#00009f,#0000bf,#0000df,#0010ff,#0050ff,#009fff,#00ffff,#70ff8f,#dfff20,#ff9f00,#ff4000,#df0000,#9f0000,#800000,#800000,#9f0000,#df0000,#ff4000,#ff9f00,#dfff20,#70ff8f,#00ffff,#009fff,#0050ff,#0010ff,#0000df,#0000bf,#00009f,#00009f,#00008f,#00008f,#00008f,#00008f,#00008f,#00008f,#00008f,#00008f,#00008f,#00008f,#00008f,#00008f,#00008f,#00008f,#00008f)"></i>
<i style="background:linear-gradient(90deg,#00008f,#00008f,#00008f,#00008f,#00008f,#00008f,#00008f,#00008f,#00008f,#00008f,#00008f,#00008f,#00008f,#00008f,#00008f,#00009f,#00009f,#0000bf,#0000df,#0010ff,#0050ff,#009fff,#00ffff,#70ff8f,#dfff20,#ff9f00,#ff4000,#df0000,#9f0000,#800000,#800000,#9f0000,#df0000,#ff4000,#ff9f00,#dfff20,#70ff8f,#00ffff,#009fff,#0050ff,#0010ff,#0000df,#0000bf,#00009f,#00009f,#00008f,#00008f,#00008f,#00008f,#00008f,#00008f,#00008f,#00008f,#00008f,#00008f,#00008f,#00008f,#00008f,#00008f,#00008f)"></i>
<i style="background:linear-gradient(90deg,#00008f,#00008f,#00008f,#00008f,#00008f,#00008f,#00008f,#00008f,#00008f,#00008f,#00008f,#00008f,#00008f,#00008f,#00008f,#00009f,#00009f,#0000bf,#0000df,#0010ff,#0050ff,#009fff,#00ffff,#70ff8f,#dfff20,#ff9f00,#ff4000,#df0000,#9f0000,#800000,#800000,#9f0000,#df0000,#ff4000,#ff9f00,#dfff20,#70ff8f,#00ffff,#009fff,#0050ff,#0010ff,#0000df,#0000bf,#00009f,#00009f,#00008f,#00008f,#00008f,#00008f,#00008f,#00008f,#00008f,#00008f,#00008f,#00008f,#00008f,#00008f,#00008f,#00008f,#00008f)"></i>
</div>
<div id="cb"></div>
<svg width="767" height="282" viewBox="0 0 767 282">
<defs><clipPath id="ca"><rect x="45" y="7" width="238" height="237.5"/></clipPath></defs>
<g clip-path="url(#ca)" stroke="#fff" stroke-width="3.5" fill="none">
<path d="M45.0,220.3 L259.2,7.0" stroke-dasharray="16.2 3.7 2.6 3.8" stroke-dashoffset="17.8"/>
<path d="M68.8,244.0 L283.0,30.7" stroke-dasharray="15.5 6.2" stroke-dashoffset="-0.6"/>
</g>
<text transform="translate(103.8,179.2) rotate(-45)" fill="#fff" stroke="#fff" stroke-width="0.25" font-size="14.2" text-anchor="middle">s<tspan dx="0.2" dy="8.6" font-size="12">2</tspan><tspan dy="-8.6"> = s</tspan><tspan dx="0.2" dy="8.6" font-size="12">1</tspan><tspan dy="-8.6"> + </tspan><tspan font-size="14.6">Δ</tspan> s</text>
<text transform="translate(221.4,77.4) rotate(-45)" fill="#fff" stroke="#fff" stroke-width="0.25" font-size="14.2" text-anchor="middle">s<tspan dx="0.2" dy="8.6" font-size="12">2</tspan><tspan dy="-8.6"> = s</tspan><tspan dx="0.2" dy="8.6" font-size="12">1</tspan><tspan dy="-8.6"> − </tspan><tspan font-size="14.6">Δ</tspan> s</text>
<g font-size="14.2" fill="#000">
<text x="41.7" y="13.4" text-anchor="end">0.5</text>
<text x="42.8" y="131" text-anchor="end">0</text>
<text x="41.7" y="248.7" text-anchor="end">−0.5</text>
<text x="41.5" y="260.4" text-anchor="middle">−0.5</text>
<text x="164" y="260.4" text-anchor="middle">0</text>
<text x="283.2" y="260.4" text-anchor="middle">0.5</text>
<text x="321.3" y="249.7">0</text>
<text x="321.3" y="219.8">0.1</text>
<text x="321.3" y="189.9">0.2</text>
<text x="321.3" y="160.0">0.3</text>
<text x="321.3" y="130.1">0.4</text>
<text x="321.3" y="100.2">0.5</text>
<text x="321.3" y="70.3">0.6</text>
<text x="321.3" y="40.4">0.7</text>
<text x="78" y="272.5" font-size="14.35">Stimulus s<tspan dy="7.2" font-size="11.5">1</tspan><tspan dy="-7.2"> (arbitrary units)</tspan></text>
<text transform="translate(12.8,210.5) rotate(-90)" font-size="14.35">Stimulus s<tspan dy="7.2" font-size="11.5">2</tspan><tspan dy="-7.2"> (arbitrary units)</tspan></text>
<text transform="translate(364.2,193.4) rotate(-90)" font-size="14.4">Chernoff distance D<tspan dy="7.2" font-size="11.5">C</tspan></text>
<text x="464.1" y="249.7" text-anchor="end" letter-spacing="0.4">0</text>
<text x="464.1" y="219.9" text-anchor="end" letter-spacing="0.4">0.02</text>
<text x="464.1" y="190.2" text-anchor="end" letter-spacing="0.4">0.04</text>
<text x="464.1" y="160.4" text-anchor="end" letter-spacing="0.4">0.06</text>
<text x="464.1" y="130.6" text-anchor="end" letter-spacing="0.4">0.08</text>
<text x="464.1" y="100.8" text-anchor="end" letter-spacing="0.4">0.1</text>
<text x="464.1" y="71.0" text-anchor="end" letter-spacing="0.4">0.12</text>
<text x="464.1" y="41.3" text-anchor="end" letter-spacing="0.4">0.14</text>
<text x="464.1" y="11.5" text-anchor="end" letter-spacing="0.4">0.16</text>
<text x="461.8" y="260.6" text-anchor="middle">−0.5</text>
<text x="585.6" y="260.6" text-anchor="middle">0</text>
<text x="705.2" y="260.6" text-anchor="middle">0.5</text>
<text x="501.5" y="275.8" textLength="166.8" lengthAdjust="spacing">Stimulus s (arbitrary units)</text>
<text transform="translate(420.6,192.6) rotate(-90)" font-size="14.4">Chernoff distance D<tspan dy="7.2" font-size="11.5">C</tspan></text>
<text x="695.4" y="26.5">D<tspan dy="7.2" font-size="11.5">C</tspan><tspan dy="-7.2">(s,s−Δs)</tspan></text>
<text x="695.4" y="50.9">D<tspan dy="7.2" font-size="11.5">C</tspan><tspan dy="-7.2">(s,s+Δs)</tspan></text>
<text x="696" y="78.8">Average</text>
</g>
<text transform="translate(2.9,13.6) scale(0.98,1)" font-size="16.2" font-weight="bold" stroke="#000" stroke-width="0.2">A</text>
<text transform="translate(401.6,13.6) scale(0.96,1)" font-size="16.2" font-weight="bold" stroke="#000" stroke-width="0.2">B</text>
<rect x="45.3" y="7.3" width="237.5" height="237.1" fill="none" stroke="#000" stroke-opacity="0.75" stroke-width="0.8"/>
<path d="M164,7.3 v2.4 M164,244.4 v-2.4 M45.3,125.8 h2.4 M282.8,125.8 h-2.4" stroke="#000" stroke-opacity="0.75" stroke-width="0.8"/>
<rect x="298.3" y="7.3" width="20.3" height="237.1" fill="none" stroke="#000" stroke-opacity="0.8" stroke-width="0.8"/>
<path d="M298.5,214.4 h2.4 M318.5,214.4 h-2.4" stroke="#111" stroke-width="0.7"/>
<path d="M298.5,184.5 h2.4 M318.5,184.5 h-2.4" stroke="#111" stroke-width="0.7"/>
<path d="M298.5,154.6 h2.4 M318.5,154.6 h-2.4" stroke="#111" stroke-width="0.7"/>
<path d="M298.5,124.7 h2.4 M318.5,124.7 h-2.4" stroke="#111" stroke-width="0.7"/>
<path d="M298.5,94.8 h2.4 M318.5,94.8 h-2.4" stroke="#111" stroke-width="0.7"/>
<path d="M298.5,64.9 h2.4 M318.5,64.9 h-2.4" stroke="#111" stroke-width="0.7"/>
<path d="M298.5,35.0 h2.4 M318.5,35.0 h-2.4" stroke="#111" stroke-width="0.7"/>
<path d="M466.4,6.0 V243.9 H705.3" fill="none" stroke="#333" stroke-width="1"/>
<path d="M466.4,243.9 h2.4" stroke="#333" stroke-width="0.8"/>
<path d="M466.4,214.2 h2.4" stroke="#333" stroke-width="0.8"/>
<path d="M466.4,184.5 h2.4" stroke="#333" stroke-width="0.8"/>
<path d="M466.4,154.8 h2.4" stroke="#333" stroke-width="0.8"/>
<path d="M466.4,125.2 h2.4" stroke="#333" stroke-width="0.8"/>
<path d="M466.4,95.5 h2.4" stroke="#333" stroke-width="0.8"/>
<path d="M466.4,65.8 h2.4" stroke="#333" stroke-width="0.8"/>
<path d="M466.4,36.1 h2.4" stroke="#333" stroke-width="0.8"/>
<path d="M466.4,6.4 h2.4" stroke="#333" stroke-width="0.8"/>
<path d="M466.4,243.9 v-2.4" stroke="#333" stroke-width="0.8"/>
<path d="M585.8,243.9 v-2.4" stroke="#333" stroke-width="0.8"/>
<path d="M705.3,243.9 v-2.4" stroke="#333" stroke-width="0.8"/>
<defs><clipPath id="cpb"><rect x="465.9" y="5.8" width="240.4" height="238.7"/></clipPath></defs>
<g clip-path="url(#cpb)" fill="none" stroke-width="3.5" stroke-linejoin="round">
<path d="M490.3,245.0 L490.8,245.0 L491.2,245.0 L491.7,245.0 L492.2,245.0 L492.7,245.0 L493.2,245.0 L493.6,245.0 L494.1,245.0 L494.6,245.0 L495.1,245.0 L495.5,245.0 L496.0,245.0 L496.5,245.0 L497.0,245.0 L497.5,245.0 L497.9,245.0 L498.4,245.0 L498.9,245.0 L499.4,245.0 L499.8,244.9 L500.3,244.9 L500.8,244.9 L501.3,244.9 L501.8,244.9 L502.2,244.9 L502.7,244.9 L503.2,244.9 L503.7,244.8 L504.1,244.8 L504.6,244.8 L505.1,244.8 L505.6,244.7 L506.1,244.7 L506.5,244.7 L507.0,244.6 L507.5,244.6 L508.0,244.5 L508.4,244.4 L508.9,244.4 L509.4,244.3 L509.9,244.2 L510.4,244.1 L510.8,244.0 L511.3,243.9 L511.8,243.8 L512.3,243.7 L512.7,243.5 L513.2,243.3 L513.7,243.2 L514.2,243.0 L514.7,242.8 L515.1,242.6 L515.6,242.3 L516.1,242.1 L516.6,241.8 L517.0,241.5 L517.5,241.2 L518.0,240.8 L518.5,240.5 L519.0,240.1 L519.4,239.7 L519.9,239.2 L520.4,238.8 L520.9,238.3 L521.3,237.7 L521.8,237.1 L522.3,236.5 L522.8,235.8 L523.3,235.1 L523.7,234.3 L524.2,233.5 L524.7,232.6 L525.2,231.7 L525.6,230.7 L526.1,229.7 L526.6,228.5 L527.1,227.3 L527.6,226.1 L528.0,224.7 L528.5,223.3 L529.0,221.9 L529.5,220.3 L529.9,218.6 L530.4,216.9 L530.9,215.1 L531.4,213.2 L531.9,211.2 L532.3,209.1 L532.8,207.0 L533.3,204.7 L533.8,202.4 L534.2,199.9 L534.7,197.4 L535.2,194.8 L535.7,192.1 L536.2,189.3 L536.6,186.4 L537.1,183.4 L537.6,180.4 L538.1,177.2 L538.5,174.0 L539.0,170.6 L539.5,167.3 L540.0,163.8 L540.5,160.2 L540.9,156.6 L541.4,152.9 L541.9,149.2 L542.4,145.4 L542.8,141.5 L543.3,137.6 L543.8,133.7 L544.3,129.7 L544.8,125.6 L545.2,121.6 L545.7,117.5 L546.2,113.4 L546.7,109.3 L547.1,105.1 L547.6,101.0 L548.1,96.9 L548.6,92.8 L549.1,88.7 L549.5,84.6 L550.0,80.6 L550.5,76.6 L551.0,72.7 L551.4,68.8 L551.9,64.9 L552.4,61.2 L552.9,57.5 L553.4,53.9 L553.8,50.4 L554.3,46.9 L554.8,43.6 L555.3,40.4 L555.7,37.3 L556.2,34.3 L556.7,31.4 L557.2,28.7 L557.7,26.2 L558.1,23.7 L558.6,21.4 L559.1,19.3 L559.6,17.4 L560.0,15.6 L560.5,14.0 L561.0,12.5 L561.5,11.3 L562.0,10.2 L562.4,9.3 L562.9,8.6 L563.4,8.2 L563.9,7.9 L564.3,7.8 L564.8,7.9 L565.3,8.2 L565.8,8.8 L566.3,9.5 L566.7,10.5 L567.2,11.6 L567.7,13.0 L568.2,14.6 L568.6,16.4 L569.1,18.4 L569.6,20.6 L570.1,23.0 L570.6,25.6 L571.0,28.3 L571.5,31.3 L572.0,34.5 L572.5,37.8 L572.9,41.4 L573.4,45.1 L573.9,48.9 L574.4,52.9 L574.9,57.1 L575.3,61.4 L575.8,65.8 L576.3,70.4 L576.8,75.1 L577.2,79.9 L577.7,84.8 L578.2,89.8 L578.7,94.8 L579.2,100.0 L579.6,105.2 L580.1,110.4 L580.6,115.7 L581.1,121.1 L581.5,126.4 L582.0,131.7 L582.5,137.1 L583.0,142.4 L583.5,147.7 L583.9,153.0 L584.4,158.2 L584.9,163.3 L585.4,168.4 L585.8,173.4 L586.3,178.3 L586.8,183.1 L587.3,187.8 L587.8,192.3 L588.2,196.8 L588.7,201.0 L589.2,205.2 L589.7,209.1 L590.2,212.9 L590.6,216.5 L591.1,219.9 L591.6,223.1 L592.1,226.1 L592.5,228.8 L593.0,231.4 L593.5,233.7 L594.0,235.9 L594.5,237.8 L594.9,239.4 L595.4,240.9 L595.9,242.2 L596.4,243.3 L596.8,244.2 L597.3,244.8 L597.8,245.0 L598.3,244.8 L598.8,244.2 L599.2,243.3 L599.7,242.2 L600.2,240.9 L600.7,239.4 L601.1,237.8 L601.6,235.9 L602.1,233.7 L602.6,231.4 L603.1,228.8 L603.5,226.1 L604.0,223.1 L604.5,219.9 L605.0,216.5 L605.4,212.9 L605.9,209.1 L606.4,205.2 L606.9,201.0 L607.4,196.8 L607.8,192.3 L608.3,187.8 L608.8,183.1 L609.3,178.3 L609.7,173.4 L610.2,168.4 L610.7,163.3 L611.2,158.2 L611.7,153.0 L612.1,147.7 L612.6,142.4 L613.1,137.1 L613.6,131.7 L614.0,126.4 L614.5,121.1 L615.0,115.7 L615.5,110.4 L616.0,105.2 L616.4,100.0 L616.9,94.8 L617.4,89.8 L617.9,84.8 L618.3,79.9 L618.8,75.1 L619.3,70.4 L619.8,65.8 L620.3,61.4 L620.7,57.1 L621.2,52.9 L621.7,48.9 L622.2,45.1 L622.6,41.4 L623.1,37.8 L623.6,34.5 L624.1,31.3 L624.6,28.3 L625.0,25.6 L625.5,23.0 L626.0,20.6 L626.5,18.4 L626.9,16.4 L627.4,14.6 L627.9,13.0 L628.4,11.6 L628.9,10.5 L629.3,9.5 L629.8,8.8 L630.3,8.2 L630.8,7.9 L631.2,7.8 L631.7,7.9 L632.2,8.2 L632.7,8.6 L633.2,9.3 L633.6,10.2 L634.1,11.3 L634.6,12.5 L635.1,14.0 L635.5,15.6 L636.0,17.4 L636.5,19.3 L637.0,21.4 L637.5,23.7 L637.9,26.2 L638.4,28.7 L638.9,31.4 L639.4,34.3 L639.8,37.3 L640.3,40.4 L640.8,43.6 L641.3,46.9 L641.8,50.4 L642.2,53.9 L642.7,57.5 L643.2,61.2 L643.7,64.9 L644.1,68.8 L644.6,72.7 L645.1,76.6 L645.6,80.6 L646.1,84.6 L646.5,88.7 L647.0,92.8 L647.5,96.9 L648.0,101.0 L648.4,105.1 L648.9,109.3 L649.4,113.4 L649.9,117.5 L650.4,121.6 L650.8,125.6 L651.3,129.7 L651.8,133.7 L652.3,137.6 L652.7,141.5 L653.2,145.4 L653.7,149.2 L654.2,152.9 L654.7,156.6 L655.1,160.2 L655.6,163.8 L656.1,167.3 L656.6,170.6 L657.0,174.0 L657.5,177.2 L658.0,180.4 L658.5,183.4 L659.0,186.4 L659.4,189.3 L659.9,192.1 L660.4,194.8 L660.9,197.4 L661.3,199.9 L661.8,202.4 L662.3,204.7 L662.8,207.0 L663.3,209.1 L663.7,211.2 L664.2,213.2 L664.7,215.1 L665.2,216.9 L665.6,218.6 L666.1,220.3 L666.6,221.9 L667.1,223.3 L667.6,224.7 L668.0,226.1 L668.5,227.3 L669.0,228.5 L669.5,229.7 L669.9,230.7 L670.4,231.7 L670.9,232.6 L671.4,233.5 L671.9,234.3 L672.3,235.1 L672.8,235.8 L673.3,236.5 L673.8,237.1 L674.2,237.7 L674.7,238.3 L675.2,238.8 L675.7,239.2 L676.2,239.7 L676.6,240.1 L677.1,240.5 L677.6,240.8 L678.1,241.2 L678.5,241.5 L679.0,241.8 L679.5,242.1 L680.0,242.3 L680.5,242.6 L680.9,242.8 L681.4,243.0 L681.9,243.2 L682.4,243.3 L682.8,243.5 L683.3,243.7 L683.8,243.8 L684.3,243.9 L684.8,244.0 L685.2,244.1 L685.7,244.2 L686.2,244.3 L686.7,244.4 L687.1,244.4 L687.6,244.5 L688.1,244.6 L688.6,244.6 L689.1,244.7 L689.5,244.7 L690.0,244.7 L690.5,244.8 L691.0,244.8 L691.4,244.8 L691.9,244.8 L692.4,244.9 L692.9,244.9 L693.4,244.9 L693.8,244.9 L694.3,244.9 L694.8,244.9 L695.3,244.9 L695.7,244.9 L696.2,245.0 L696.7,245.0 L697.2,245.0 L697.7,245.0 L698.1,245.0 L698.6,245.0 L699.1,245.0 L699.6,245.0 L700.0,245.0 L700.5,245.0 L701.0,245.0 L701.5,245.0 L702.0,245.0 L702.4,245.0 L702.9,245.0 L703.4,245.0 L703.9,245.0 L704.3,245.0 L704.8,245.0 L705.3,245.0" stroke="#0000ff" stroke-dasharray="16 5.72" stroke-dashoffset="-0.3"/>
<path d="M466.4,245.0 L466.9,245.0 L467.4,245.0 L467.8,245.0 L468.3,245.0 L468.8,245.0 L469.3,245.0 L469.7,245.0 L470.2,245.0 L470.7,245.0 L471.2,245.0 L471.7,245.0 L472.1,245.0 L472.6,245.0 L473.1,245.0 L473.6,245.0 L474.0,245.0 L474.5,245.0 L475.0,245.0 L475.5,245.0 L476.0,244.9 L476.4,244.9 L476.9,244.9 L477.4,244.9 L477.9,244.9 L478.3,244.9 L478.8,244.9 L479.3,244.9 L479.8,244.8 L480.3,244.8 L480.7,244.8 L481.2,244.8 L481.7,244.7 L482.2,244.7 L482.6,244.7 L483.1,244.6 L483.6,244.6 L484.1,244.5 L484.6,244.4 L485.0,244.4 L485.5,244.3 L486.0,244.2 L486.5,244.1 L486.9,244.0 L487.4,243.9 L487.9,243.8 L488.4,243.7 L488.9,243.5 L489.3,243.3 L489.8,243.2 L490.3,243.0 L490.8,242.8 L491.2,242.6 L491.7,242.3 L492.2,242.1 L492.7,241.8 L493.2,241.5 L493.6,241.2 L494.1,240.8 L494.6,240.5 L495.1,240.1 L495.5,239.7 L496.0,239.2 L496.5,238.8 L497.0,238.3 L497.5,237.7 L497.9,237.1 L498.4,236.5 L498.9,235.8 L499.4,235.1 L499.8,234.3 L500.3,233.5 L500.8,232.6 L501.3,231.7 L501.8,230.7 L502.2,229.7 L502.7,228.5 L503.2,227.3 L503.7,226.1 L504.1,224.7 L504.6,223.3 L505.1,221.9 L505.6,220.3 L506.1,218.6 L506.5,216.9 L507.0,215.1 L507.5,213.2 L508.0,211.2 L508.4,209.1 L508.9,207.0 L509.4,204.7 L509.9,202.4 L510.4,199.9 L510.8,197.4 L511.3,194.8 L511.8,192.1 L512.3,189.3 L512.7,186.4 L513.2,183.4 L513.7,180.4 L514.2,177.2 L514.7,174.0 L515.1,170.6 L515.6,167.3 L516.1,163.8 L516.6,160.2 L517.0,156.6 L517.5,152.9 L518.0,149.2 L518.5,145.4 L519.0,141.5 L519.4,137.6 L519.9,133.7 L520.4,129.7 L520.9,125.6 L521.3,121.6 L521.8,117.5 L522.3,113.4 L522.8,109.3 L523.3,105.1 L523.7,101.0 L524.2,96.9 L524.7,92.8 L525.2,88.7 L525.6,84.6 L526.1,80.6 L526.6,76.6 L527.1,72.7 L527.6,68.8 L528.0,64.9 L528.5,61.2 L529.0,57.5 L529.5,53.9 L529.9,50.4 L530.4,46.9 L530.9,43.6 L531.4,40.4 L531.9,37.3 L532.3,34.3 L532.8,31.4 L533.3,28.7 L533.8,26.2 L534.2,23.7 L534.7,21.4 L535.2,19.3 L535.7,17.4 L536.2,15.6 L536.6,14.0 L537.1,12.5 L537.6,11.3 L538.1,10.2 L538.5,9.3 L539.0,8.6 L539.5,8.2 L540.0,7.9 L540.5,7.8 L540.9,7.9 L541.4,8.2 L541.9,8.8 L542.4,9.5 L542.8,10.5 L543.3,11.6 L543.8,13.0 L544.3,14.6 L544.8,16.4 L545.2,18.4 L545.7,20.6 L546.2,23.0 L546.7,25.6 L547.1,28.3 L547.6,31.3 L548.1,34.5 L548.6,37.8 L549.1,41.4 L549.5,45.1 L550.0,48.9 L550.5,52.9 L551.0,57.1 L551.4,61.4 L551.9,65.8 L552.4,70.4 L552.9,75.1 L553.4,79.9 L553.8,84.8 L554.3,89.8 L554.8,94.8 L555.3,100.0 L555.7,105.2 L556.2,110.4 L556.7,115.7 L557.2,121.1 L557.7,126.4 L558.1,131.7 L558.6,137.1 L559.1,142.4 L559.6,147.7 L560.0,153.0 L560.5,158.2 L561.0,163.3 L561.5,168.4 L562.0,173.4 L562.4,178.3 L562.9,183.1 L563.4,187.8 L563.9,192.3 L564.3,196.8 L564.8,201.0 L565.3,205.2 L565.8,209.1 L566.3,212.9 L566.7,216.5 L567.2,219.9 L567.7,223.1 L568.2,226.1 L568.6,228.8 L569.1,231.4 L569.6,233.7 L570.1,235.9 L570.6,237.8 L571.0,239.4 L571.5,240.9 L572.0,242.2 L572.5,243.3 L572.9,244.2 L573.4,244.8 L573.9,245.0 L574.4,244.8 L574.9,244.2 L575.3,243.3 L575.8,242.2 L576.3,240.9 L576.8,239.4 L577.2,237.8 L577.7,235.9 L578.2,233.7 L578.7,231.4 L579.2,228.8 L579.6,226.1 L580.1,223.1 L580.6,219.9 L581.1,216.5 L581.5,212.9 L582.0,209.1 L582.5,205.2 L583.0,201.0 L583.5,196.8 L583.9,192.3 L584.4,187.8 L584.9,183.1 L585.4,178.3 L585.8,173.4 L586.3,168.4 L586.8,163.3 L587.3,158.2 L587.8,153.0 L588.2,147.7 L588.7,142.4 L589.2,137.1 L589.7,131.7 L590.2,126.4 L590.6,121.1 L591.1,115.7 L591.6,110.4 L592.1,105.2 L592.5,100.0 L593.0,94.8 L593.5,89.8 L594.0,84.8 L594.5,79.9 L594.9,75.1 L595.4,70.4 L595.9,65.8 L596.4,61.4 L596.8,57.1 L597.3,52.9 L597.8,48.9 L598.3,45.1 L598.8,41.4 L599.2,37.8 L599.7,34.5 L600.2,31.3 L600.7,28.3 L601.1,25.6 L601.6,23.0 L602.1,20.6 L602.6,18.4 L603.1,16.4 L603.5,14.6 L604.0,13.0 L604.5,11.6 L605.0,10.5 L605.4,9.5 L605.9,8.8 L606.4,8.2 L606.9,7.9 L607.4,7.8 L607.8,7.9 L608.3,8.2 L608.8,8.6 L609.3,9.3 L609.7,10.2 L610.2,11.3 L610.7,12.5 L611.2,14.0 L611.7,15.6 L612.1,17.4 L612.6,19.3 L613.1,21.4 L613.6,23.7 L614.0,26.2 L614.5,28.7 L615.0,31.4 L615.5,34.3 L616.0,37.3 L616.4,40.4 L616.9,43.6 L617.4,46.9 L617.9,50.4 L618.3,53.9 L618.8,57.5 L619.3,61.2 L619.8,64.9 L620.3,68.8 L620.7,72.7 L621.2,76.6 L621.7,80.6 L622.2,84.6 L622.6,88.7 L623.1,92.8 L623.6,96.9 L624.1,101.0 L624.6,105.1 L625.0,109.3 L625.5,113.4 L626.0,117.5 L626.5,121.6 L626.9,125.6 L627.4,129.7 L627.9,133.7 L628.4,137.6 L628.9,141.5 L629.3,145.4 L629.8,149.2 L630.3,152.9 L630.8,156.6 L631.2,160.2 L631.7,163.8 L632.2,167.3 L632.7,170.6 L633.2,174.0 L633.6,177.2 L634.1,180.4 L634.6,183.4 L635.1,186.4 L635.5,189.3 L636.0,192.1 L636.5,194.8 L637.0,197.4 L637.5,199.9 L637.9,202.4 L638.4,204.7 L638.9,207.0 L639.4,209.1 L639.8,211.2 L640.3,213.2 L640.8,215.1 L641.3,216.9 L641.8,218.6 L642.2,220.3 L642.7,221.9 L643.2,223.3 L643.7,224.7 L644.1,226.1 L644.6,227.3 L645.1,228.5 L645.6,229.7 L646.1,230.7 L646.5,231.7 L647.0,232.6 L647.5,233.5 L648.0,234.3 L648.4,235.1 L648.9,235.8 L649.4,236.5 L649.9,237.1 L650.4,237.7 L650.8,238.3 L651.3,238.8 L651.8,239.2 L652.3,239.7 L652.7,240.1 L653.2,240.5 L653.7,240.8 L654.2,241.2 L654.7,241.5 L655.1,241.8 L655.6,242.1 L656.1,242.3 L656.6,242.6 L657.0,242.8 L657.5,243.0 L658.0,243.2 L658.5,243.3 L659.0,243.5 L659.4,243.7 L659.9,243.8 L660.4,243.9 L660.9,244.0 L661.3,244.1 L661.8,244.2 L662.3,244.3 L662.8,244.4 L663.3,244.4 L663.7,244.5 L664.2,244.6 L664.7,244.6 L665.2,244.7 L665.6,244.7 L666.1,244.7 L666.6,244.8 L667.1,244.8 L667.6,244.8 L668.0,244.8 L668.5,244.9 L669.0,244.9 L669.5,244.9 L669.9,244.9 L670.4,244.9 L670.9,244.9 L671.4,244.9 L671.9,244.9 L672.3,245.0 L672.8,245.0 L673.3,245.0 L673.8,245.0 L674.2,245.0 L674.7,245.0 L675.2,245.0 L675.7,245.0 L676.2,245.0 L676.6,245.0 L677.1,245.0 L677.6,245.0 L678.1,245.0 L678.5,245.0 L679.0,245.0 L679.5,245.0 L680.0,245.0 L680.5,245.0 L680.9,245.0 L681.4,245.0" stroke="#ff0000" stroke-dasharray="17 3.5 2.35 3.5" stroke-dashoffset="20.25"/>
<path d="M490.3,243.9 L490.8,243.8 L491.2,243.7 L491.7,243.6 L492.2,243.4 L492.7,243.3 L493.2,243.1 L493.6,242.9 L494.1,242.7 L494.6,242.5 L495.1,242.3 L495.5,242.1 L496.0,241.8 L496.5,241.6 L497.0,241.3 L497.5,241.0 L497.9,240.7 L498.4,240.3 L498.9,240.0 L499.4,239.6 L499.8,239.2 L500.3,238.7 L500.8,238.3 L501.3,237.8 L501.8,237.3 L502.2,236.8 L502.7,236.2 L503.2,235.6 L503.7,234.9 L504.1,234.3 L504.6,233.6 L505.1,232.8 L505.6,232.0 L506.1,231.2 L506.5,230.3 L507.0,229.4 L507.5,228.4 L508.0,227.4 L508.4,226.3 L508.9,225.2 L509.4,224.1 L509.9,222.9 L510.4,221.6 L510.8,220.3 L511.3,219.0 L511.8,217.6 L512.3,216.1 L512.7,214.6 L513.2,213.1 L513.7,211.5 L514.2,209.8 L514.7,208.1 L515.1,206.4 L515.6,204.6 L516.1,202.8 L516.6,200.9 L517.0,198.9 L517.5,197.0 L518.0,194.9 L518.5,192.9 L519.0,190.7 L519.4,188.6 L519.9,186.4 L520.4,184.2 L520.9,181.9 L521.3,179.6 L521.8,177.3 L522.3,174.9 L522.8,172.5 L523.3,170.1 L523.7,167.7 L524.2,165.2 L524.7,162.7 L525.2,160.2 L525.6,157.7 L526.1,155.1 L526.6,152.6 L527.1,150.0 L527.6,147.4 L528.0,144.8 L528.5,142.3 L529.0,139.7 L529.5,137.1 L529.9,134.5 L530.4,131.9 L530.9,129.4 L531.4,126.8 L531.9,124.2 L532.3,121.7 L532.8,119.2 L533.3,116.7 L533.8,114.3 L534.2,111.8 L534.7,109.4 L535.2,107.1 L535.7,104.7 L536.2,102.4 L536.6,100.2 L537.1,98.0 L537.6,95.8 L538.1,93.7 L538.5,91.6 L539.0,89.6 L539.5,87.7 L540.0,85.8 L540.5,84.0 L540.9,82.3 L541.4,80.6 L541.9,79.0 L542.4,77.5 L542.8,76.0 L543.3,74.6 L543.8,73.3 L544.3,72.1 L544.8,71.0 L545.2,70.0 L545.7,69.0 L546.2,68.2 L546.7,67.4 L547.1,66.7 L547.6,66.2 L548.1,65.7 L548.6,65.3 L549.1,65.0 L549.5,64.8 L550.0,64.8 L550.5,64.8 L551.0,64.9 L551.4,65.1 L551.9,65.4 L552.4,65.8 L552.9,66.3 L553.4,66.9 L553.8,67.6 L554.3,68.3 L554.8,69.2 L555.3,70.2 L555.7,71.2 L556.2,72.4 L556.7,73.6 L557.2,74.9 L557.7,76.3 L558.1,77.7 L558.6,79.3 L559.1,80.9 L559.6,82.5 L560.0,84.3 L560.5,86.1 L561.0,87.9 L561.5,89.8 L562.0,91.8 L562.4,93.8 L562.9,95.9 L563.4,98.0 L563.9,100.1 L564.3,102.3 L564.8,104.5 L565.3,106.7 L565.8,108.9 L566.3,111.2 L566.7,113.5 L567.2,115.8 L567.7,118.0 L568.2,120.3 L568.6,122.6 L569.1,124.9 L569.6,127.2 L570.1,129.4 L570.6,131.6 L571.0,133.8 L571.5,136.0 L572.0,138.2 L572.5,140.3 L572.9,142.4 L573.4,144.4 L573.9,146.4 L574.4,148.3 L574.9,150.2 L575.3,152.1 L575.8,153.8 L576.3,155.6 L576.8,157.2 L577.2,158.8 L577.7,160.3 L578.2,161.8 L578.7,163.1 L579.2,164.4 L579.6,165.6 L580.1,166.8 L580.6,167.8 L581.1,168.8 L581.5,169.6 L582.0,170.4 L582.5,171.1 L583.0,171.7 L583.5,172.2 L583.9,172.7 L584.4,173.0 L584.9,173.2 L585.4,173.4 L585.8,173.4 L586.3,173.4 L586.8,173.2 L587.3,173.0 L587.8,172.7 L588.2,172.2 L588.7,171.7 L589.2,171.1 L589.7,170.4 L590.2,169.6 L590.6,168.8 L591.1,167.8 L591.6,166.8 L592.1,165.6 L592.5,164.4 L593.0,163.1 L593.5,161.8 L594.0,160.3 L594.5,158.8 L594.9,157.2 L595.4,155.6 L595.9,153.8 L596.4,152.1 L596.8,150.2 L597.3,148.3 L597.8,146.4 L598.3,144.4 L598.8,142.4 L599.2,140.3 L599.7,138.2 L600.2,136.0 L600.7,133.8 L601.1,131.6 L601.6,129.4 L602.1,127.2 L602.6,124.9 L603.1,122.6 L603.5,120.3 L604.0,118.0 L604.5,115.8 L605.0,113.5 L605.4,111.2 L605.9,108.9 L606.4,106.7 L606.9,104.5 L607.4,102.3 L607.8,100.1 L608.3,98.0 L608.8,95.9 L609.3,93.8 L609.7,91.8 L610.2,89.8 L610.7,87.9 L611.2,86.1 L611.7,84.3 L612.1,82.5 L612.6,80.9 L613.1,79.3 L613.6,77.7 L614.0,76.3 L614.5,74.9 L615.0,73.6 L615.5,72.4 L616.0,71.2 L616.4,70.2 L616.9,69.2 L617.4,68.3 L617.9,67.6 L618.3,66.9 L618.8,66.3 L619.3,65.8 L619.8,65.4 L620.3,65.1 L620.7,64.9 L621.2,64.8 L621.7,64.8 L622.2,64.8 L622.6,65.0 L623.1,65.3 L623.6,65.7 L624.1,66.2 L624.6,66.7 L625.0,67.4 L625.5,68.2 L626.0,69.0 L626.5,70.0 L626.9,71.0 L627.4,72.1 L627.9,73.3 L628.4,74.6 L628.9,76.0 L629.3,77.5 L629.8,79.0 L630.3,80.6 L630.8,82.3 L631.2,84.0 L631.7,85.8 L632.2,87.7 L632.7,89.6 L633.2,91.6 L633.6,93.7 L634.1,95.8 L634.6,98.0 L635.1,100.2 L635.5,102.4 L636.0,104.7 L636.5,107.1 L637.0,109.4 L637.5,111.8 L637.9,114.3 L638.4,116.7 L638.9,119.2 L639.4,121.7 L639.8,124.2 L640.3,126.8 L640.8,129.4 L641.3,131.9 L641.8,134.5 L642.2,137.1 L642.7,139.7 L643.2,142.3 L643.7,144.8 L644.1,147.4 L644.6,150.0 L645.1,152.6 L645.6,155.1 L646.1,157.7 L646.5,160.2 L647.0,162.7 L647.5,165.2 L648.0,167.7 L648.4,170.1 L648.9,172.5 L649.4,174.9 L649.9,177.3 L650.4,179.6 L650.8,181.9 L651.3,184.2 L651.8,186.4 L652.3,188.6 L652.7,190.7 L653.2,192.9 L653.7,194.9 L654.2,197.0 L654.7,198.9 L655.1,200.9 L655.6,202.8 L656.1,204.6 L656.6,206.4 L657.0,208.1 L657.5,209.8 L658.0,211.5 L658.5,213.1 L659.0,214.6 L659.4,216.1 L659.9,217.6 L660.4,219.0 L660.9,220.3 L661.3,221.6 L661.8,222.9 L662.3,224.1 L662.8,225.2 L663.3,226.3 L663.7,227.4 L664.2,228.4 L664.7,229.4 L665.2,230.3 L665.6,231.2 L666.1,232.0 L666.6,232.8 L667.1,233.6 L667.6,234.3 L668.0,234.9 L668.5,235.6 L669.0,236.2 L669.5,236.8 L669.9,237.3 L670.4,237.8 L670.9,238.3 L671.4,238.7 L671.9,239.2 L672.3,239.6 L672.8,240.0 L673.3,240.3 L673.8,240.7 L674.2,241.0 L674.7,241.3 L675.2,241.6 L675.7,241.8 L676.2,242.1 L676.6,242.3 L677.1,242.5 L677.6,242.7 L678.1,242.9 L678.5,243.1 L679.0,243.3 L679.5,243.4 L680.0,243.6 L680.5,243.7 L680.9,243.8 L681.4,243.9" stroke="#000"/>
</g>
<g fill="none" stroke-width="3.4">
<path d="M651.7,27.7 H692.7" stroke="#0000ff" stroke-dasharray="15 4.7" stroke-dashoffset="6.1"/>
<path d="M651.7,52.3 H692.8" stroke="#ff0000" stroke-dasharray="12.2 2.8 1.9 2.8" stroke-dashoffset="15.2"/>
<path d="M652.2,73.9 H692.5" stroke="#000"/>
</g>
</svg>
</body></html>
